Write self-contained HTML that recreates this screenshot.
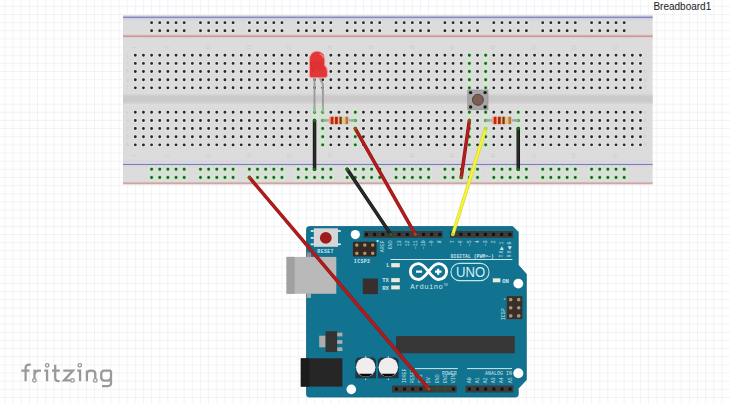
<!DOCTYPE html>
<html><head><meta charset="utf-8"><title>Fritzing breadboard</title>
<style>html,body{margin:0;padding:0;background:#ffffff;overflow:hidden;}svg{display:block;font-family:"Liberation Sans",sans-serif;}</style>
</head><body>
<svg width="730" height="403" viewBox="0 0 730 403"><defs><linearGradient id="rg" x1="0" x2="1" y1="0" y2="0"><stop offset="0" stop-color="#efa483"/><stop offset="0.45" stop-color="#f0b088"/><stop offset="0.62" stop-color="#e8c48c"/><stop offset="1" stop-color="#e4c088"/></linearGradient></defs><path d="M4.93 0V403M13.08 0V403M21.23 0V403M29.38 0V403M37.52 0V403M45.67 0V403M53.82 0V403M61.97 0V403M70.12 0V403M78.26 0V403M86.41 0V403M94.56 0V403M102.71 0V403M110.86 0V403M119 0V403M127.15 0V403M135.3 0V403M143.45 0V403M151.6 0V403M159.74 0V403M167.89 0V403M176.04 0V403M184.19 0V403M192.34 0V403M200.48 0V403M208.63 0V403M216.78 0V403M224.93 0V403M233.08 0V403M241.22 0V403M249.37 0V403M257.52 0V403M265.67 0V403M273.82 0V403M281.96 0V403M290.11 0V403M298.26 0V403M306.41 0V403M314.56 0V403M322.7 0V403M330.85 0V403M339 0V403M347.15 0V403M355.3 0V403M363.44 0V403M371.59 0V403M379.74 0V403M387.89 0V403M396.04 0V403M404.18 0V403M412.33 0V403M420.48 0V403M428.63 0V403M436.78 0V403M444.92 0V403M453.07 0V403M461.22 0V403M469.37 0V403M477.52 0V403M485.66 0V403M493.81 0V403M501.96 0V403M510.11 0V403M518.26 0V403M526.4 0V403M534.55 0V403M542.7 0V403M550.85 0V403M559 0V403M567.14 0V403M575.29 0V403M583.44 0V403M591.59 0V403M599.74 0V403M607.88 0V403M616.03 0V403M624.18 0V403M632.33 0V403M640.48 0V403M648.62 0V403M656.77 0V403M664.92 0V403M673.07 0V403M681.22 0V403M689.36 0V403M697.51 0V403M705.66 0V403M713.81 0V403M721.96 0V403M0 6.35H730M0 14.5H730M0 22.65H730M0 30.8H730M0 38.95H730M0 47.09H730M0 55.24H730M0 63.39H730M0 71.54H730M0 79.69H730M0 87.83H730M0 95.98H730M0 104.13H730M0 112.28H730M0 120.43H730M0 128.57H730M0 136.72H730M0 144.87H730M0 153.02H730M0 161.17H730M0 169.31H730M0 177.46H730M0 185.61H730M0 193.76H730M0 201.91H730M0 210.05H730M0 218.2H730M0 226.35H730M0 234.5H730M0 242.65H730M0 250.79H730M0 258.94H730M0 267.09H730M0 275.24H730M0 283.39H730M0 291.53H730M0 299.68H730M0 307.83H730M0 315.98H730M0 324.13H730M0 332.27H730M0 340.42H730M0 348.57H730M0 356.72H730M0 364.87H730M0 373.01H730M0 381.16H730M0 389.31H730M0 397.46H730" stroke="#f2f3f6" stroke-width="1" fill="none"/><rect x="123" y="15.4" width="529.6" height="169" fill="#dcdcdc"/><rect x="123" y="94.6" width="529.6" height="8.7" fill="#cbc9c9"/><rect x="123" y="94.6" width="529.6" height="1.2" fill="#d3d1d1"/><rect x="123" y="102.1" width="529.6" height="1.2" fill="#d3d1d1"/><rect x="123" y="15.4" width="529.6" height="1.2" fill="#d6d6e0"/><rect x="123" y="18.1" width="529.6" height="2.5" fill="#d5d5e4"/><rect x="123" y="16.6" width="529.6" height="1.5" fill="#8787c2"/><rect x="123" y="34.4" width="529.6" height="4" fill="#e2cfcf"/><rect x="123" y="35.5" width="529.6" height="1.4" fill="#c99292"/><rect x="123" y="160.8" width="529.6" height="1.1" fill="#d2d2e6"/><rect x="123" y="163.9" width="529.6" height="1" fill="#7474b0"/><rect x="123" y="165" width="529.6" height="2" fill="#d9d6e0"/><rect x="123" y="182" width="529.6" height="2.4" fill="#e0caca"/><rect x="123" y="182.6" width="529.6" height="1.2" fill="#cf9c9c"/><path d="M149.2 22.65a2.4 2.4 0 1 0 4.8 0a2.4 2.4 0 1 0 -4.8 0M149.2 30.8a2.4 2.4 0 1 0 4.8 0a2.4 2.4 0 1 0 -4.8 0M148.9 169.31a2.7 2.7 0 1 0 5.4 0a2.7 2.7 0 1 0 -5.4 0M148.9 177.46a2.7 2.7 0 1 0 5.4 0a2.7 2.7 0 1 0 -5.4 0M157.34 22.65a2.4 2.4 0 1 0 4.8 0a2.4 2.4 0 1 0 -4.8 0M157.34 30.8a2.4 2.4 0 1 0 4.8 0a2.4 2.4 0 1 0 -4.8 0M157.04 169.31a2.7 2.7 0 1 0 5.4 0a2.7 2.7 0 1 0 -5.4 0M157.04 177.46a2.7 2.7 0 1 0 5.4 0a2.7 2.7 0 1 0 -5.4 0M165.49 22.65a2.4 2.4 0 1 0 4.8 0a2.4 2.4 0 1 0 -4.8 0M165.49 30.8a2.4 2.4 0 1 0 4.8 0a2.4 2.4 0 1 0 -4.8 0M165.19 169.31a2.7 2.7 0 1 0 5.4 0a2.7 2.7 0 1 0 -5.4 0M165.19 177.46a2.7 2.7 0 1 0 5.4 0a2.7 2.7 0 1 0 -5.4 0M173.64 22.65a2.4 2.4 0 1 0 4.8 0a2.4 2.4 0 1 0 -4.8 0M173.64 30.8a2.4 2.4 0 1 0 4.8 0a2.4 2.4 0 1 0 -4.8 0M173.34 169.31a2.7 2.7 0 1 0 5.4 0a2.7 2.7 0 1 0 -5.4 0M173.34 177.46a2.7 2.7 0 1 0 5.4 0a2.7 2.7 0 1 0 -5.4 0M181.79 22.65a2.4 2.4 0 1 0 4.8 0a2.4 2.4 0 1 0 -4.8 0M181.79 30.8a2.4 2.4 0 1 0 4.8 0a2.4 2.4 0 1 0 -4.8 0M181.49 169.31a2.7 2.7 0 1 0 5.4 0a2.7 2.7 0 1 0 -5.4 0M181.49 177.46a2.7 2.7 0 1 0 5.4 0a2.7 2.7 0 1 0 -5.4 0M198.08 22.65a2.4 2.4 0 1 0 4.8 0a2.4 2.4 0 1 0 -4.8 0M198.08 30.8a2.4 2.4 0 1 0 4.8 0a2.4 2.4 0 1 0 -4.8 0M197.78 169.31a2.7 2.7 0 1 0 5.4 0a2.7 2.7 0 1 0 -5.4 0M197.78 177.46a2.7 2.7 0 1 0 5.4 0a2.7 2.7 0 1 0 -5.4 0M206.23 22.65a2.4 2.4 0 1 0 4.8 0a2.4 2.4 0 1 0 -4.8 0M206.23 30.8a2.4 2.4 0 1 0 4.8 0a2.4 2.4 0 1 0 -4.8 0M205.93 169.31a2.7 2.7 0 1 0 5.4 0a2.7 2.7 0 1 0 -5.4 0M205.93 177.46a2.7 2.7 0 1 0 5.4 0a2.7 2.7 0 1 0 -5.4 0M214.38 22.65a2.4 2.4 0 1 0 4.8 0a2.4 2.4 0 1 0 -4.8 0M214.38 30.8a2.4 2.4 0 1 0 4.8 0a2.4 2.4 0 1 0 -4.8 0M214.08 169.31a2.7 2.7 0 1 0 5.4 0a2.7 2.7 0 1 0 -5.4 0M214.08 177.46a2.7 2.7 0 1 0 5.4 0a2.7 2.7 0 1 0 -5.4 0M222.53 22.65a2.4 2.4 0 1 0 4.8 0a2.4 2.4 0 1 0 -4.8 0M222.53 30.8a2.4 2.4 0 1 0 4.8 0a2.4 2.4 0 1 0 -4.8 0M222.23 169.31a2.7 2.7 0 1 0 5.4 0a2.7 2.7 0 1 0 -5.4 0M222.23 177.46a2.7 2.7 0 1 0 5.4 0a2.7 2.7 0 1 0 -5.4 0M230.68 22.65a2.4 2.4 0 1 0 4.8 0a2.4 2.4 0 1 0 -4.8 0M230.68 30.8a2.4 2.4 0 1 0 4.8 0a2.4 2.4 0 1 0 -4.8 0M230.38 169.31a2.7 2.7 0 1 0 5.4 0a2.7 2.7 0 1 0 -5.4 0M230.38 177.46a2.7 2.7 0 1 0 5.4 0a2.7 2.7 0 1 0 -5.4 0M246.97 22.65a2.4 2.4 0 1 0 4.8 0a2.4 2.4 0 1 0 -4.8 0M246.97 30.8a2.4 2.4 0 1 0 4.8 0a2.4 2.4 0 1 0 -4.8 0M246.67 169.31a2.7 2.7 0 1 0 5.4 0a2.7 2.7 0 1 0 -5.4 0M246.67 177.46a2.7 2.7 0 1 0 5.4 0a2.7 2.7 0 1 0 -5.4 0M255.12 22.65a2.4 2.4 0 1 0 4.8 0a2.4 2.4 0 1 0 -4.8 0M255.12 30.8a2.4 2.4 0 1 0 4.8 0a2.4 2.4 0 1 0 -4.8 0M254.82 169.31a2.7 2.7 0 1 0 5.4 0a2.7 2.7 0 1 0 -5.4 0M254.82 177.46a2.7 2.7 0 1 0 5.4 0a2.7 2.7 0 1 0 -5.4 0M263.27 22.65a2.4 2.4 0 1 0 4.8 0a2.4 2.4 0 1 0 -4.8 0M263.27 30.8a2.4 2.4 0 1 0 4.8 0a2.4 2.4 0 1 0 -4.8 0M262.97 169.31a2.7 2.7 0 1 0 5.4 0a2.7 2.7 0 1 0 -5.4 0M262.97 177.46a2.7 2.7 0 1 0 5.4 0a2.7 2.7 0 1 0 -5.4 0M271.42 22.65a2.4 2.4 0 1 0 4.8 0a2.4 2.4 0 1 0 -4.8 0M271.42 30.8a2.4 2.4 0 1 0 4.8 0a2.4 2.4 0 1 0 -4.8 0M271.12 169.31a2.7 2.7 0 1 0 5.4 0a2.7 2.7 0 1 0 -5.4 0M271.12 177.46a2.7 2.7 0 1 0 5.4 0a2.7 2.7 0 1 0 -5.4 0M279.56 22.65a2.4 2.4 0 1 0 4.8 0a2.4 2.4 0 1 0 -4.8 0M279.56 30.8a2.4 2.4 0 1 0 4.8 0a2.4 2.4 0 1 0 -4.8 0M279.26 169.31a2.7 2.7 0 1 0 5.4 0a2.7 2.7 0 1 0 -5.4 0M279.26 177.46a2.7 2.7 0 1 0 5.4 0a2.7 2.7 0 1 0 -5.4 0M295.86 22.65a2.4 2.4 0 1 0 4.8 0a2.4 2.4 0 1 0 -4.8 0M295.86 30.8a2.4 2.4 0 1 0 4.8 0a2.4 2.4 0 1 0 -4.8 0M295.56 169.31a2.7 2.7 0 1 0 5.4 0a2.7 2.7 0 1 0 -5.4 0M295.56 177.46a2.7 2.7 0 1 0 5.4 0a2.7 2.7 0 1 0 -5.4 0M304.01 22.65a2.4 2.4 0 1 0 4.8 0a2.4 2.4 0 1 0 -4.8 0M304.01 30.8a2.4 2.4 0 1 0 4.8 0a2.4 2.4 0 1 0 -4.8 0M303.71 169.31a2.7 2.7 0 1 0 5.4 0a2.7 2.7 0 1 0 -5.4 0M303.71 177.46a2.7 2.7 0 1 0 5.4 0a2.7 2.7 0 1 0 -5.4 0M312.16 22.65a2.4 2.4 0 1 0 4.8 0a2.4 2.4 0 1 0 -4.8 0M312.16 30.8a2.4 2.4 0 1 0 4.8 0a2.4 2.4 0 1 0 -4.8 0M311.86 169.31a2.7 2.7 0 1 0 5.4 0a2.7 2.7 0 1 0 -5.4 0M311.86 177.46a2.7 2.7 0 1 0 5.4 0a2.7 2.7 0 1 0 -5.4 0M320.3 22.65a2.4 2.4 0 1 0 4.8 0a2.4 2.4 0 1 0 -4.8 0M320.3 30.8a2.4 2.4 0 1 0 4.8 0a2.4 2.4 0 1 0 -4.8 0M320 169.31a2.7 2.7 0 1 0 5.4 0a2.7 2.7 0 1 0 -5.4 0M320 177.46a2.7 2.7 0 1 0 5.4 0a2.7 2.7 0 1 0 -5.4 0M328.45 22.65a2.4 2.4 0 1 0 4.8 0a2.4 2.4 0 1 0 -4.8 0M328.45 30.8a2.4 2.4 0 1 0 4.8 0a2.4 2.4 0 1 0 -4.8 0M328.15 169.31a2.7 2.7 0 1 0 5.4 0a2.7 2.7 0 1 0 -5.4 0M328.15 177.46a2.7 2.7 0 1 0 5.4 0a2.7 2.7 0 1 0 -5.4 0M344.75 22.65a2.4 2.4 0 1 0 4.8 0a2.4 2.4 0 1 0 -4.8 0M344.75 30.8a2.4 2.4 0 1 0 4.8 0a2.4 2.4 0 1 0 -4.8 0M344.45 169.31a2.7 2.7 0 1 0 5.4 0a2.7 2.7 0 1 0 -5.4 0M344.45 177.46a2.7 2.7 0 1 0 5.4 0a2.7 2.7 0 1 0 -5.4 0M352.9 22.65a2.4 2.4 0 1 0 4.8 0a2.4 2.4 0 1 0 -4.8 0M352.9 30.8a2.4 2.4 0 1 0 4.8 0a2.4 2.4 0 1 0 -4.8 0M352.6 169.31a2.7 2.7 0 1 0 5.4 0a2.7 2.7 0 1 0 -5.4 0M352.6 177.46a2.7 2.7 0 1 0 5.4 0a2.7 2.7 0 1 0 -5.4 0M361.04 22.65a2.4 2.4 0 1 0 4.8 0a2.4 2.4 0 1 0 -4.8 0M361.04 30.8a2.4 2.4 0 1 0 4.8 0a2.4 2.4 0 1 0 -4.8 0M360.74 169.31a2.7 2.7 0 1 0 5.4 0a2.7 2.7 0 1 0 -5.4 0M360.74 177.46a2.7 2.7 0 1 0 5.4 0a2.7 2.7 0 1 0 -5.4 0M369.19 22.65a2.4 2.4 0 1 0 4.8 0a2.4 2.4 0 1 0 -4.8 0M369.19 30.8a2.4 2.4 0 1 0 4.8 0a2.4 2.4 0 1 0 -4.8 0M368.89 169.31a2.7 2.7 0 1 0 5.4 0a2.7 2.7 0 1 0 -5.4 0M368.89 177.46a2.7 2.7 0 1 0 5.4 0a2.7 2.7 0 1 0 -5.4 0M377.34 22.65a2.4 2.4 0 1 0 4.8 0a2.4 2.4 0 1 0 -4.8 0M377.34 30.8a2.4 2.4 0 1 0 4.8 0a2.4 2.4 0 1 0 -4.8 0M377.04 169.31a2.7 2.7 0 1 0 5.4 0a2.7 2.7 0 1 0 -5.4 0M377.04 177.46a2.7 2.7 0 1 0 5.4 0a2.7 2.7 0 1 0 -5.4 0M393.64 22.65a2.4 2.4 0 1 0 4.8 0a2.4 2.4 0 1 0 -4.8 0M393.64 30.8a2.4 2.4 0 1 0 4.8 0a2.4 2.4 0 1 0 -4.8 0M393.34 169.31a2.7 2.7 0 1 0 5.4 0a2.7 2.7 0 1 0 -5.4 0M393.34 177.46a2.7 2.7 0 1 0 5.4 0a2.7 2.7 0 1 0 -5.4 0M401.78 22.65a2.4 2.4 0 1 0 4.8 0a2.4 2.4 0 1 0 -4.8 0M401.78 30.8a2.4 2.4 0 1 0 4.8 0a2.4 2.4 0 1 0 -4.8 0M401.48 169.31a2.7 2.7 0 1 0 5.4 0a2.7 2.7 0 1 0 -5.4 0M401.48 177.46a2.7 2.7 0 1 0 5.4 0a2.7 2.7 0 1 0 -5.4 0M409.93 22.65a2.4 2.4 0 1 0 4.8 0a2.4 2.4 0 1 0 -4.8 0M409.93 30.8a2.4 2.4 0 1 0 4.8 0a2.4 2.4 0 1 0 -4.8 0M409.63 169.31a2.7 2.7 0 1 0 5.4 0a2.7 2.7 0 1 0 -5.4 0M409.63 177.46a2.7 2.7 0 1 0 5.4 0a2.7 2.7 0 1 0 -5.4 0M418.08 22.65a2.4 2.4 0 1 0 4.8 0a2.4 2.4 0 1 0 -4.8 0M418.08 30.8a2.4 2.4 0 1 0 4.8 0a2.4 2.4 0 1 0 -4.8 0M417.78 169.31a2.7 2.7 0 1 0 5.4 0a2.7 2.7 0 1 0 -5.4 0M417.78 177.46a2.7 2.7 0 1 0 5.4 0a2.7 2.7 0 1 0 -5.4 0M426.23 22.65a2.4 2.4 0 1 0 4.8 0a2.4 2.4 0 1 0 -4.8 0M426.23 30.8a2.4 2.4 0 1 0 4.8 0a2.4 2.4 0 1 0 -4.8 0M425.93 169.31a2.7 2.7 0 1 0 5.4 0a2.7 2.7 0 1 0 -5.4 0M425.93 177.46a2.7 2.7 0 1 0 5.4 0a2.7 2.7 0 1 0 -5.4 0M442.52 22.65a2.4 2.4 0 1 0 4.8 0a2.4 2.4 0 1 0 -4.8 0M442.52 30.8a2.4 2.4 0 1 0 4.8 0a2.4 2.4 0 1 0 -4.8 0M442.22 169.31a2.7 2.7 0 1 0 5.4 0a2.7 2.7 0 1 0 -5.4 0M442.22 177.46a2.7 2.7 0 1 0 5.4 0a2.7 2.7 0 1 0 -5.4 0M450.67 22.65a2.4 2.4 0 1 0 4.8 0a2.4 2.4 0 1 0 -4.8 0M450.67 30.8a2.4 2.4 0 1 0 4.8 0a2.4 2.4 0 1 0 -4.8 0M450.37 169.31a2.7 2.7 0 1 0 5.4 0a2.7 2.7 0 1 0 -5.4 0M450.37 177.46a2.7 2.7 0 1 0 5.4 0a2.7 2.7 0 1 0 -5.4 0M458.82 22.65a2.4 2.4 0 1 0 4.8 0a2.4 2.4 0 1 0 -4.8 0M458.82 30.8a2.4 2.4 0 1 0 4.8 0a2.4 2.4 0 1 0 -4.8 0M458.52 169.31a2.7 2.7 0 1 0 5.4 0a2.7 2.7 0 1 0 -5.4 0M458.52 177.46a2.7 2.7 0 1 0 5.4 0a2.7 2.7 0 1 0 -5.4 0M466.97 22.65a2.4 2.4 0 1 0 4.8 0a2.4 2.4 0 1 0 -4.8 0M466.97 30.8a2.4 2.4 0 1 0 4.8 0a2.4 2.4 0 1 0 -4.8 0M466.67 169.31a2.7 2.7 0 1 0 5.4 0a2.7 2.7 0 1 0 -5.4 0M466.67 177.46a2.7 2.7 0 1 0 5.4 0a2.7 2.7 0 1 0 -5.4 0M475.12 22.65a2.4 2.4 0 1 0 4.8 0a2.4 2.4 0 1 0 -4.8 0M475.12 30.8a2.4 2.4 0 1 0 4.8 0a2.4 2.4 0 1 0 -4.8 0M474.82 169.31a2.7 2.7 0 1 0 5.4 0a2.7 2.7 0 1 0 -5.4 0M474.82 177.46a2.7 2.7 0 1 0 5.4 0a2.7 2.7 0 1 0 -5.4 0M491.41 22.65a2.4 2.4 0 1 0 4.8 0a2.4 2.4 0 1 0 -4.8 0M491.41 30.8a2.4 2.4 0 1 0 4.8 0a2.4 2.4 0 1 0 -4.8 0M491.11 169.31a2.7 2.7 0 1 0 5.4 0a2.7 2.7 0 1 0 -5.4 0M491.11 177.46a2.7 2.7 0 1 0 5.4 0a2.7 2.7 0 1 0 -5.4 0M499.56 22.65a2.4 2.4 0 1 0 4.8 0a2.4 2.4 0 1 0 -4.8 0M499.56 30.8a2.4 2.4 0 1 0 4.8 0a2.4 2.4 0 1 0 -4.8 0M499.26 169.31a2.7 2.7 0 1 0 5.4 0a2.7 2.7 0 1 0 -5.4 0M499.26 177.46a2.7 2.7 0 1 0 5.4 0a2.7 2.7 0 1 0 -5.4 0M507.71 22.65a2.4 2.4 0 1 0 4.8 0a2.4 2.4 0 1 0 -4.8 0M507.71 30.8a2.4 2.4 0 1 0 4.8 0a2.4 2.4 0 1 0 -4.8 0M507.41 169.31a2.7 2.7 0 1 0 5.4 0a2.7 2.7 0 1 0 -5.4 0M507.41 177.46a2.7 2.7 0 1 0 5.4 0a2.7 2.7 0 1 0 -5.4 0M515.86 22.65a2.4 2.4 0 1 0 4.8 0a2.4 2.4 0 1 0 -4.8 0M515.86 30.8a2.4 2.4 0 1 0 4.8 0a2.4 2.4 0 1 0 -4.8 0M515.56 169.31a2.7 2.7 0 1 0 5.4 0a2.7 2.7 0 1 0 -5.4 0M515.56 177.46a2.7 2.7 0 1 0 5.4 0a2.7 2.7 0 1 0 -5.4 0M524 22.65a2.4 2.4 0 1 0 4.8 0a2.4 2.4 0 1 0 -4.8 0M524 30.8a2.4 2.4 0 1 0 4.8 0a2.4 2.4 0 1 0 -4.8 0M523.7 169.31a2.7 2.7 0 1 0 5.4 0a2.7 2.7 0 1 0 -5.4 0M523.7 177.46a2.7 2.7 0 1 0 5.4 0a2.7 2.7 0 1 0 -5.4 0M540.3 22.65a2.4 2.4 0 1 0 4.8 0a2.4 2.4 0 1 0 -4.8 0M540.3 30.8a2.4 2.4 0 1 0 4.8 0a2.4 2.4 0 1 0 -4.8 0M540 169.31a2.7 2.7 0 1 0 5.4 0a2.7 2.7 0 1 0 -5.4 0M540 177.46a2.7 2.7 0 1 0 5.4 0a2.7 2.7 0 1 0 -5.4 0M548.45 22.65a2.4 2.4 0 1 0 4.8 0a2.4 2.4 0 1 0 -4.8 0M548.45 30.8a2.4 2.4 0 1 0 4.8 0a2.4 2.4 0 1 0 -4.8 0M548.15 169.31a2.7 2.7 0 1 0 5.4 0a2.7 2.7 0 1 0 -5.4 0M548.15 177.46a2.7 2.7 0 1 0 5.4 0a2.7 2.7 0 1 0 -5.4 0M556.6 22.65a2.4 2.4 0 1 0 4.8 0a2.4 2.4 0 1 0 -4.8 0M556.6 30.8a2.4 2.4 0 1 0 4.8 0a2.4 2.4 0 1 0 -4.8 0M556.3 169.31a2.7 2.7 0 1 0 5.4 0a2.7 2.7 0 1 0 -5.4 0M556.3 177.46a2.7 2.7 0 1 0 5.4 0a2.7 2.7 0 1 0 -5.4 0M564.74 22.65a2.4 2.4 0 1 0 4.8 0a2.4 2.4 0 1 0 -4.8 0M564.74 30.8a2.4 2.4 0 1 0 4.8 0a2.4 2.4 0 1 0 -4.8 0M564.44 169.31a2.7 2.7 0 1 0 5.4 0a2.7 2.7 0 1 0 -5.4 0M564.44 177.46a2.7 2.7 0 1 0 5.4 0a2.7 2.7 0 1 0 -5.4 0M572.89 22.65a2.4 2.4 0 1 0 4.8 0a2.4 2.4 0 1 0 -4.8 0M572.89 30.8a2.4 2.4 0 1 0 4.8 0a2.4 2.4 0 1 0 -4.8 0M572.59 169.31a2.7 2.7 0 1 0 5.4 0a2.7 2.7 0 1 0 -5.4 0M572.59 177.46a2.7 2.7 0 1 0 5.4 0a2.7 2.7 0 1 0 -5.4 0M589.19 22.65a2.4 2.4 0 1 0 4.8 0a2.4 2.4 0 1 0 -4.8 0M589.19 30.8a2.4 2.4 0 1 0 4.8 0a2.4 2.4 0 1 0 -4.8 0M588.89 169.31a2.7 2.7 0 1 0 5.4 0a2.7 2.7 0 1 0 -5.4 0M588.89 177.46a2.7 2.7 0 1 0 5.4 0a2.7 2.7 0 1 0 -5.4 0M597.34 22.65a2.4 2.4 0 1 0 4.8 0a2.4 2.4 0 1 0 -4.8 0M597.34 30.8a2.4 2.4 0 1 0 4.8 0a2.4 2.4 0 1 0 -4.8 0M597.04 169.31a2.7 2.7 0 1 0 5.4 0a2.7 2.7 0 1 0 -5.4 0M597.04 177.46a2.7 2.7 0 1 0 5.4 0a2.7 2.7 0 1 0 -5.4 0M605.48 22.65a2.4 2.4 0 1 0 4.8 0a2.4 2.4 0 1 0 -4.8 0M605.48 30.8a2.4 2.4 0 1 0 4.8 0a2.4 2.4 0 1 0 -4.8 0M605.18 169.31a2.7 2.7 0 1 0 5.4 0a2.7 2.7 0 1 0 -5.4 0M605.18 177.46a2.7 2.7 0 1 0 5.4 0a2.7 2.7 0 1 0 -5.4 0M613.63 22.65a2.4 2.4 0 1 0 4.8 0a2.4 2.4 0 1 0 -4.8 0M613.63 30.8a2.4 2.4 0 1 0 4.8 0a2.4 2.4 0 1 0 -4.8 0M613.33 169.31a2.7 2.7 0 1 0 5.4 0a2.7 2.7 0 1 0 -5.4 0M613.33 177.46a2.7 2.7 0 1 0 5.4 0a2.7 2.7 0 1 0 -5.4 0M621.78 22.65a2.4 2.4 0 1 0 4.8 0a2.4 2.4 0 1 0 -4.8 0M621.78 30.8a2.4 2.4 0 1 0 4.8 0a2.4 2.4 0 1 0 -4.8 0M621.48 169.31a2.7 2.7 0 1 0 5.4 0a2.7 2.7 0 1 0 -5.4 0M621.48 177.46a2.7 2.7 0 1 0 5.4 0a2.7 2.7 0 1 0 -5.4 0M132.9 55.24a2.4 2.4 0 1 0 4.8 0a2.4 2.4 0 1 0 -4.8 0M132.9 63.39a2.4 2.4 0 1 0 4.8 0a2.4 2.4 0 1 0 -4.8 0M132.9 71.54a2.4 2.4 0 1 0 4.8 0a2.4 2.4 0 1 0 -4.8 0M132.9 79.69a2.4 2.4 0 1 0 4.8 0a2.4 2.4 0 1 0 -4.8 0M132.9 87.83a2.4 2.4 0 1 0 4.8 0a2.4 2.4 0 1 0 -4.8 0M132.9 112.28a2.4 2.4 0 1 0 4.8 0a2.4 2.4 0 1 0 -4.8 0M132.9 120.43a2.4 2.4 0 1 0 4.8 0a2.4 2.4 0 1 0 -4.8 0M132.9 128.57a2.4 2.4 0 1 0 4.8 0a2.4 2.4 0 1 0 -4.8 0M132.9 136.72a2.4 2.4 0 1 0 4.8 0a2.4 2.4 0 1 0 -4.8 0M132.9 144.87a2.4 2.4 0 1 0 4.8 0a2.4 2.4 0 1 0 -4.8 0M141.05 55.24a2.4 2.4 0 1 0 4.8 0a2.4 2.4 0 1 0 -4.8 0M141.05 63.39a2.4 2.4 0 1 0 4.8 0a2.4 2.4 0 1 0 -4.8 0M141.05 71.54a2.4 2.4 0 1 0 4.8 0a2.4 2.4 0 1 0 -4.8 0M141.05 79.69a2.4 2.4 0 1 0 4.8 0a2.4 2.4 0 1 0 -4.8 0M141.05 87.83a2.4 2.4 0 1 0 4.8 0a2.4 2.4 0 1 0 -4.8 0M141.05 112.28a2.4 2.4 0 1 0 4.8 0a2.4 2.4 0 1 0 -4.8 0M141.05 120.43a2.4 2.4 0 1 0 4.8 0a2.4 2.4 0 1 0 -4.8 0M141.05 128.57a2.4 2.4 0 1 0 4.8 0a2.4 2.4 0 1 0 -4.8 0M141.05 136.72a2.4 2.4 0 1 0 4.8 0a2.4 2.4 0 1 0 -4.8 0M141.05 144.87a2.4 2.4 0 1 0 4.8 0a2.4 2.4 0 1 0 -4.8 0M149.2 55.24a2.4 2.4 0 1 0 4.8 0a2.4 2.4 0 1 0 -4.8 0M149.2 63.39a2.4 2.4 0 1 0 4.8 0a2.4 2.4 0 1 0 -4.8 0M149.2 71.54a2.4 2.4 0 1 0 4.8 0a2.4 2.4 0 1 0 -4.8 0M149.2 79.69a2.4 2.4 0 1 0 4.8 0a2.4 2.4 0 1 0 -4.8 0M149.2 87.83a2.4 2.4 0 1 0 4.8 0a2.4 2.4 0 1 0 -4.8 0M149.2 112.28a2.4 2.4 0 1 0 4.8 0a2.4 2.4 0 1 0 -4.8 0M149.2 120.43a2.4 2.4 0 1 0 4.8 0a2.4 2.4 0 1 0 -4.8 0M149.2 128.57a2.4 2.4 0 1 0 4.8 0a2.4 2.4 0 1 0 -4.8 0M149.2 136.72a2.4 2.4 0 1 0 4.8 0a2.4 2.4 0 1 0 -4.8 0M149.2 144.87a2.4 2.4 0 1 0 4.8 0a2.4 2.4 0 1 0 -4.8 0M157.34 55.24a2.4 2.4 0 1 0 4.8 0a2.4 2.4 0 1 0 -4.8 0M157.34 63.39a2.4 2.4 0 1 0 4.8 0a2.4 2.4 0 1 0 -4.8 0M157.34 71.54a2.4 2.4 0 1 0 4.8 0a2.4 2.4 0 1 0 -4.8 0M157.34 79.69a2.4 2.4 0 1 0 4.8 0a2.4 2.4 0 1 0 -4.8 0M157.34 87.83a2.4 2.4 0 1 0 4.8 0a2.4 2.4 0 1 0 -4.8 0M157.34 112.28a2.4 2.4 0 1 0 4.8 0a2.4 2.4 0 1 0 -4.8 0M157.34 120.43a2.4 2.4 0 1 0 4.8 0a2.4 2.4 0 1 0 -4.8 0M157.34 128.57a2.4 2.4 0 1 0 4.8 0a2.4 2.4 0 1 0 -4.8 0M157.34 136.72a2.4 2.4 0 1 0 4.8 0a2.4 2.4 0 1 0 -4.8 0M157.34 144.87a2.4 2.4 0 1 0 4.8 0a2.4 2.4 0 1 0 -4.8 0M165.49 55.24a2.4 2.4 0 1 0 4.8 0a2.4 2.4 0 1 0 -4.8 0M165.49 63.39a2.4 2.4 0 1 0 4.8 0a2.4 2.4 0 1 0 -4.8 0M165.49 71.54a2.4 2.4 0 1 0 4.8 0a2.4 2.4 0 1 0 -4.8 0M165.49 79.69a2.4 2.4 0 1 0 4.8 0a2.4 2.4 0 1 0 -4.8 0M165.49 87.83a2.4 2.4 0 1 0 4.8 0a2.4 2.4 0 1 0 -4.8 0M165.49 112.28a2.4 2.4 0 1 0 4.8 0a2.4 2.4 0 1 0 -4.8 0M165.49 120.43a2.4 2.4 0 1 0 4.8 0a2.4 2.4 0 1 0 -4.8 0M165.49 128.57a2.4 2.4 0 1 0 4.8 0a2.4 2.4 0 1 0 -4.8 0M165.49 136.72a2.4 2.4 0 1 0 4.8 0a2.4 2.4 0 1 0 -4.8 0M165.49 144.87a2.4 2.4 0 1 0 4.8 0a2.4 2.4 0 1 0 -4.8 0M173.64 55.24a2.4 2.4 0 1 0 4.8 0a2.4 2.4 0 1 0 -4.8 0M173.64 63.39a2.4 2.4 0 1 0 4.8 0a2.4 2.4 0 1 0 -4.8 0M173.64 71.54a2.4 2.4 0 1 0 4.8 0a2.4 2.4 0 1 0 -4.8 0M173.64 79.69a2.4 2.4 0 1 0 4.8 0a2.4 2.4 0 1 0 -4.8 0M173.64 87.83a2.4 2.4 0 1 0 4.8 0a2.4 2.4 0 1 0 -4.8 0M173.64 112.28a2.4 2.4 0 1 0 4.8 0a2.4 2.4 0 1 0 -4.8 0M173.64 120.43a2.4 2.4 0 1 0 4.8 0a2.4 2.4 0 1 0 -4.8 0M173.64 128.57a2.4 2.4 0 1 0 4.8 0a2.4 2.4 0 1 0 -4.8 0M173.64 136.72a2.4 2.4 0 1 0 4.8 0a2.4 2.4 0 1 0 -4.8 0M173.64 144.87a2.4 2.4 0 1 0 4.8 0a2.4 2.4 0 1 0 -4.8 0M181.79 55.24a2.4 2.4 0 1 0 4.8 0a2.4 2.4 0 1 0 -4.8 0M181.79 63.39a2.4 2.4 0 1 0 4.8 0a2.4 2.4 0 1 0 -4.8 0M181.79 71.54a2.4 2.4 0 1 0 4.8 0a2.4 2.4 0 1 0 -4.8 0M181.79 79.69a2.4 2.4 0 1 0 4.8 0a2.4 2.4 0 1 0 -4.8 0M181.79 87.83a2.4 2.4 0 1 0 4.8 0a2.4 2.4 0 1 0 -4.8 0M181.79 112.28a2.4 2.4 0 1 0 4.8 0a2.4 2.4 0 1 0 -4.8 0M181.79 120.43a2.4 2.4 0 1 0 4.8 0a2.4 2.4 0 1 0 -4.8 0M181.79 128.57a2.4 2.4 0 1 0 4.8 0a2.4 2.4 0 1 0 -4.8 0M181.79 136.72a2.4 2.4 0 1 0 4.8 0a2.4 2.4 0 1 0 -4.8 0M181.79 144.87a2.4 2.4 0 1 0 4.8 0a2.4 2.4 0 1 0 -4.8 0M189.94 55.24a2.4 2.4 0 1 0 4.8 0a2.4 2.4 0 1 0 -4.8 0M189.94 63.39a2.4 2.4 0 1 0 4.8 0a2.4 2.4 0 1 0 -4.8 0M189.94 71.54a2.4 2.4 0 1 0 4.8 0a2.4 2.4 0 1 0 -4.8 0M189.94 79.69a2.4 2.4 0 1 0 4.8 0a2.4 2.4 0 1 0 -4.8 0M189.94 87.83a2.4 2.4 0 1 0 4.8 0a2.4 2.4 0 1 0 -4.8 0M189.94 112.28a2.4 2.4 0 1 0 4.8 0a2.4 2.4 0 1 0 -4.8 0M189.94 120.43a2.4 2.4 0 1 0 4.8 0a2.4 2.4 0 1 0 -4.8 0M189.94 128.57a2.4 2.4 0 1 0 4.8 0a2.4 2.4 0 1 0 -4.8 0M189.94 136.72a2.4 2.4 0 1 0 4.8 0a2.4 2.4 0 1 0 -4.8 0M189.94 144.87a2.4 2.4 0 1 0 4.8 0a2.4 2.4 0 1 0 -4.8 0M198.08 55.24a2.4 2.4 0 1 0 4.8 0a2.4 2.4 0 1 0 -4.8 0M198.08 63.39a2.4 2.4 0 1 0 4.8 0a2.4 2.4 0 1 0 -4.8 0M198.08 71.54a2.4 2.4 0 1 0 4.8 0a2.4 2.4 0 1 0 -4.8 0M198.08 79.69a2.4 2.4 0 1 0 4.8 0a2.4 2.4 0 1 0 -4.8 0M198.08 87.83a2.4 2.4 0 1 0 4.8 0a2.4 2.4 0 1 0 -4.8 0M198.08 112.28a2.4 2.4 0 1 0 4.8 0a2.4 2.4 0 1 0 -4.8 0M198.08 120.43a2.4 2.4 0 1 0 4.8 0a2.4 2.4 0 1 0 -4.8 0M198.08 128.57a2.4 2.4 0 1 0 4.8 0a2.4 2.4 0 1 0 -4.8 0M198.08 136.72a2.4 2.4 0 1 0 4.8 0a2.4 2.4 0 1 0 -4.8 0M198.08 144.87a2.4 2.4 0 1 0 4.8 0a2.4 2.4 0 1 0 -4.8 0M206.23 55.24a2.4 2.4 0 1 0 4.8 0a2.4 2.4 0 1 0 -4.8 0M206.23 63.39a2.4 2.4 0 1 0 4.8 0a2.4 2.4 0 1 0 -4.8 0M206.23 71.54a2.4 2.4 0 1 0 4.8 0a2.4 2.4 0 1 0 -4.8 0M206.23 79.69a2.4 2.4 0 1 0 4.8 0a2.4 2.4 0 1 0 -4.8 0M206.23 87.83a2.4 2.4 0 1 0 4.8 0a2.4 2.4 0 1 0 -4.8 0M206.23 112.28a2.4 2.4 0 1 0 4.8 0a2.4 2.4 0 1 0 -4.8 0M206.23 120.43a2.4 2.4 0 1 0 4.8 0a2.4 2.4 0 1 0 -4.8 0M206.23 128.57a2.4 2.4 0 1 0 4.8 0a2.4 2.4 0 1 0 -4.8 0M206.23 136.72a2.4 2.4 0 1 0 4.8 0a2.4 2.4 0 1 0 -4.8 0M206.23 144.87a2.4 2.4 0 1 0 4.8 0a2.4 2.4 0 1 0 -4.8 0M214.38 55.24a2.4 2.4 0 1 0 4.8 0a2.4 2.4 0 1 0 -4.8 0M214.38 63.39a2.4 2.4 0 1 0 4.8 0a2.4 2.4 0 1 0 -4.8 0M214.38 71.54a2.4 2.4 0 1 0 4.8 0a2.4 2.4 0 1 0 -4.8 0M214.38 79.69a2.4 2.4 0 1 0 4.8 0a2.4 2.4 0 1 0 -4.8 0M214.38 87.83a2.4 2.4 0 1 0 4.8 0a2.4 2.4 0 1 0 -4.8 0M214.38 112.28a2.4 2.4 0 1 0 4.8 0a2.4 2.4 0 1 0 -4.8 0M214.38 120.43a2.4 2.4 0 1 0 4.8 0a2.4 2.4 0 1 0 -4.8 0M214.38 128.57a2.4 2.4 0 1 0 4.8 0a2.4 2.4 0 1 0 -4.8 0M214.38 136.72a2.4 2.4 0 1 0 4.8 0a2.4 2.4 0 1 0 -4.8 0M214.38 144.87a2.4 2.4 0 1 0 4.8 0a2.4 2.4 0 1 0 -4.8 0M222.53 55.24a2.4 2.4 0 1 0 4.8 0a2.4 2.4 0 1 0 -4.8 0M222.53 63.39a2.4 2.4 0 1 0 4.8 0a2.4 2.4 0 1 0 -4.8 0M222.53 71.54a2.4 2.4 0 1 0 4.8 0a2.4 2.4 0 1 0 -4.8 0M222.53 79.69a2.4 2.4 0 1 0 4.8 0a2.4 2.4 0 1 0 -4.8 0M222.53 87.83a2.4 2.4 0 1 0 4.8 0a2.4 2.4 0 1 0 -4.8 0M222.53 112.28a2.4 2.4 0 1 0 4.8 0a2.4 2.4 0 1 0 -4.8 0M222.53 120.43a2.4 2.4 0 1 0 4.8 0a2.4 2.4 0 1 0 -4.8 0M222.53 128.57a2.4 2.4 0 1 0 4.8 0a2.4 2.4 0 1 0 -4.8 0M222.53 136.72a2.4 2.4 0 1 0 4.8 0a2.4 2.4 0 1 0 -4.8 0M222.53 144.87a2.4 2.4 0 1 0 4.8 0a2.4 2.4 0 1 0 -4.8 0M230.68 55.24a2.4 2.4 0 1 0 4.8 0a2.4 2.4 0 1 0 -4.8 0M230.68 63.39a2.4 2.4 0 1 0 4.8 0a2.4 2.4 0 1 0 -4.8 0M230.68 71.54a2.4 2.4 0 1 0 4.8 0a2.4 2.4 0 1 0 -4.8 0M230.68 79.69a2.4 2.4 0 1 0 4.8 0a2.4 2.4 0 1 0 -4.8 0M230.68 87.83a2.4 2.4 0 1 0 4.8 0a2.4 2.4 0 1 0 -4.8 0M230.68 112.28a2.4 2.4 0 1 0 4.8 0a2.4 2.4 0 1 0 -4.8 0M230.68 120.43a2.4 2.4 0 1 0 4.8 0a2.4 2.4 0 1 0 -4.8 0M230.68 128.57a2.4 2.4 0 1 0 4.8 0a2.4 2.4 0 1 0 -4.8 0M230.68 136.72a2.4 2.4 0 1 0 4.8 0a2.4 2.4 0 1 0 -4.8 0M230.68 144.87a2.4 2.4 0 1 0 4.8 0a2.4 2.4 0 1 0 -4.8 0M238.82 55.24a2.4 2.4 0 1 0 4.8 0a2.4 2.4 0 1 0 -4.8 0M238.82 63.39a2.4 2.4 0 1 0 4.8 0a2.4 2.4 0 1 0 -4.8 0M238.82 71.54a2.4 2.4 0 1 0 4.8 0a2.4 2.4 0 1 0 -4.8 0M238.82 79.69a2.4 2.4 0 1 0 4.8 0a2.4 2.4 0 1 0 -4.8 0M238.82 87.83a2.4 2.4 0 1 0 4.8 0a2.4 2.4 0 1 0 -4.8 0M238.82 112.28a2.4 2.4 0 1 0 4.8 0a2.4 2.4 0 1 0 -4.8 0M238.82 120.43a2.4 2.4 0 1 0 4.8 0a2.4 2.4 0 1 0 -4.8 0M238.82 128.57a2.4 2.4 0 1 0 4.8 0a2.4 2.4 0 1 0 -4.8 0M238.82 136.72a2.4 2.4 0 1 0 4.8 0a2.4 2.4 0 1 0 -4.8 0M238.82 144.87a2.4 2.4 0 1 0 4.8 0a2.4 2.4 0 1 0 -4.8 0M246.97 55.24a2.4 2.4 0 1 0 4.8 0a2.4 2.4 0 1 0 -4.8 0M246.97 63.39a2.4 2.4 0 1 0 4.8 0a2.4 2.4 0 1 0 -4.8 0M246.97 71.54a2.4 2.4 0 1 0 4.8 0a2.4 2.4 0 1 0 -4.8 0M246.97 79.69a2.4 2.4 0 1 0 4.8 0a2.4 2.4 0 1 0 -4.8 0M246.97 87.83a2.4 2.4 0 1 0 4.8 0a2.4 2.4 0 1 0 -4.8 0M246.97 112.28a2.4 2.4 0 1 0 4.8 0a2.4 2.4 0 1 0 -4.8 0M246.97 120.43a2.4 2.4 0 1 0 4.8 0a2.4 2.4 0 1 0 -4.8 0M246.97 128.57a2.4 2.4 0 1 0 4.8 0a2.4 2.4 0 1 0 -4.8 0M246.97 136.72a2.4 2.4 0 1 0 4.8 0a2.4 2.4 0 1 0 -4.8 0M246.97 144.87a2.4 2.4 0 1 0 4.8 0a2.4 2.4 0 1 0 -4.8 0M255.12 55.24a2.4 2.4 0 1 0 4.8 0a2.4 2.4 0 1 0 -4.8 0M255.12 63.39a2.4 2.4 0 1 0 4.8 0a2.4 2.4 0 1 0 -4.8 0M255.12 71.54a2.4 2.4 0 1 0 4.8 0a2.4 2.4 0 1 0 -4.8 0M255.12 79.69a2.4 2.4 0 1 0 4.8 0a2.4 2.4 0 1 0 -4.8 0M255.12 87.83a2.4 2.4 0 1 0 4.8 0a2.4 2.4 0 1 0 -4.8 0M255.12 112.28a2.4 2.4 0 1 0 4.8 0a2.4 2.4 0 1 0 -4.8 0M255.12 120.43a2.4 2.4 0 1 0 4.8 0a2.4 2.4 0 1 0 -4.8 0M255.12 128.57a2.4 2.4 0 1 0 4.8 0a2.4 2.4 0 1 0 -4.8 0M255.12 136.72a2.4 2.4 0 1 0 4.8 0a2.4 2.4 0 1 0 -4.8 0M255.12 144.87a2.4 2.4 0 1 0 4.8 0a2.4 2.4 0 1 0 -4.8 0M263.27 55.24a2.4 2.4 0 1 0 4.8 0a2.4 2.4 0 1 0 -4.8 0M263.27 63.39a2.4 2.4 0 1 0 4.8 0a2.4 2.4 0 1 0 -4.8 0M263.27 71.54a2.4 2.4 0 1 0 4.8 0a2.4 2.4 0 1 0 -4.8 0M263.27 79.69a2.4 2.4 0 1 0 4.8 0a2.4 2.4 0 1 0 -4.8 0M263.27 87.83a2.4 2.4 0 1 0 4.8 0a2.4 2.4 0 1 0 -4.8 0M263.27 112.28a2.4 2.4 0 1 0 4.8 0a2.4 2.4 0 1 0 -4.8 0M263.27 120.43a2.4 2.4 0 1 0 4.8 0a2.4 2.4 0 1 0 -4.8 0M263.27 128.57a2.4 2.4 0 1 0 4.8 0a2.4 2.4 0 1 0 -4.8 0M263.27 136.72a2.4 2.4 0 1 0 4.8 0a2.4 2.4 0 1 0 -4.8 0M263.27 144.87a2.4 2.4 0 1 0 4.8 0a2.4 2.4 0 1 0 -4.8 0M271.42 55.24a2.4 2.4 0 1 0 4.8 0a2.4 2.4 0 1 0 -4.8 0M271.42 63.39a2.4 2.4 0 1 0 4.8 0a2.4 2.4 0 1 0 -4.8 0M271.42 71.54a2.4 2.4 0 1 0 4.8 0a2.4 2.4 0 1 0 -4.8 0M271.42 79.69a2.4 2.4 0 1 0 4.8 0a2.4 2.4 0 1 0 -4.8 0M271.42 87.83a2.4 2.4 0 1 0 4.8 0a2.4 2.4 0 1 0 -4.8 0M271.42 112.28a2.4 2.4 0 1 0 4.8 0a2.4 2.4 0 1 0 -4.8 0M271.42 120.43a2.4 2.4 0 1 0 4.8 0a2.4 2.4 0 1 0 -4.8 0M271.42 128.57a2.4 2.4 0 1 0 4.8 0a2.4 2.4 0 1 0 -4.8 0M271.42 136.72a2.4 2.4 0 1 0 4.8 0a2.4 2.4 0 1 0 -4.8 0M271.42 144.87a2.4 2.4 0 1 0 4.8 0a2.4 2.4 0 1 0 -4.8 0M279.56 55.24a2.4 2.4 0 1 0 4.8 0a2.4 2.4 0 1 0 -4.8 0M279.56 63.39a2.4 2.4 0 1 0 4.8 0a2.4 2.4 0 1 0 -4.8 0M279.56 71.54a2.4 2.4 0 1 0 4.8 0a2.4 2.4 0 1 0 -4.8 0M279.56 79.69a2.4 2.4 0 1 0 4.8 0a2.4 2.4 0 1 0 -4.8 0M279.56 87.83a2.4 2.4 0 1 0 4.8 0a2.4 2.4 0 1 0 -4.8 0M279.56 112.28a2.4 2.4 0 1 0 4.8 0a2.4 2.4 0 1 0 -4.8 0M279.56 120.43a2.4 2.4 0 1 0 4.8 0a2.4 2.4 0 1 0 -4.8 0M279.56 128.57a2.4 2.4 0 1 0 4.8 0a2.4 2.4 0 1 0 -4.8 0M279.56 136.72a2.4 2.4 0 1 0 4.8 0a2.4 2.4 0 1 0 -4.8 0M279.56 144.87a2.4 2.4 0 1 0 4.8 0a2.4 2.4 0 1 0 -4.8 0M287.71 55.24a2.4 2.4 0 1 0 4.8 0a2.4 2.4 0 1 0 -4.8 0M287.71 63.39a2.4 2.4 0 1 0 4.8 0a2.4 2.4 0 1 0 -4.8 0M287.71 71.54a2.4 2.4 0 1 0 4.8 0a2.4 2.4 0 1 0 -4.8 0M287.71 79.69a2.4 2.4 0 1 0 4.8 0a2.4 2.4 0 1 0 -4.8 0M287.71 87.83a2.4 2.4 0 1 0 4.8 0a2.4 2.4 0 1 0 -4.8 0M287.71 112.28a2.4 2.4 0 1 0 4.8 0a2.4 2.4 0 1 0 -4.8 0M287.71 120.43a2.4 2.4 0 1 0 4.8 0a2.4 2.4 0 1 0 -4.8 0M287.71 128.57a2.4 2.4 0 1 0 4.8 0a2.4 2.4 0 1 0 -4.8 0M287.71 136.72a2.4 2.4 0 1 0 4.8 0a2.4 2.4 0 1 0 -4.8 0M287.71 144.87a2.4 2.4 0 1 0 4.8 0a2.4 2.4 0 1 0 -4.8 0M295.86 55.24a2.4 2.4 0 1 0 4.8 0a2.4 2.4 0 1 0 -4.8 0M295.86 63.39a2.4 2.4 0 1 0 4.8 0a2.4 2.4 0 1 0 -4.8 0M295.86 71.54a2.4 2.4 0 1 0 4.8 0a2.4 2.4 0 1 0 -4.8 0M295.86 79.69a2.4 2.4 0 1 0 4.8 0a2.4 2.4 0 1 0 -4.8 0M295.86 87.83a2.4 2.4 0 1 0 4.8 0a2.4 2.4 0 1 0 -4.8 0M295.86 112.28a2.4 2.4 0 1 0 4.8 0a2.4 2.4 0 1 0 -4.8 0M295.86 120.43a2.4 2.4 0 1 0 4.8 0a2.4 2.4 0 1 0 -4.8 0M295.86 128.57a2.4 2.4 0 1 0 4.8 0a2.4 2.4 0 1 0 -4.8 0M295.86 136.72a2.4 2.4 0 1 0 4.8 0a2.4 2.4 0 1 0 -4.8 0M295.86 144.87a2.4 2.4 0 1 0 4.8 0a2.4 2.4 0 1 0 -4.8 0M304.01 55.24a2.4 2.4 0 1 0 4.8 0a2.4 2.4 0 1 0 -4.8 0M304.01 63.39a2.4 2.4 0 1 0 4.8 0a2.4 2.4 0 1 0 -4.8 0M304.01 71.54a2.4 2.4 0 1 0 4.8 0a2.4 2.4 0 1 0 -4.8 0M304.01 79.69a2.4 2.4 0 1 0 4.8 0a2.4 2.4 0 1 0 -4.8 0M304.01 87.83a2.4 2.4 0 1 0 4.8 0a2.4 2.4 0 1 0 -4.8 0M304.01 112.28a2.4 2.4 0 1 0 4.8 0a2.4 2.4 0 1 0 -4.8 0M304.01 120.43a2.4 2.4 0 1 0 4.8 0a2.4 2.4 0 1 0 -4.8 0M304.01 128.57a2.4 2.4 0 1 0 4.8 0a2.4 2.4 0 1 0 -4.8 0M304.01 136.72a2.4 2.4 0 1 0 4.8 0a2.4 2.4 0 1 0 -4.8 0M304.01 144.87a2.4 2.4 0 1 0 4.8 0a2.4 2.4 0 1 0 -4.8 0M312.16 55.24a2.4 2.4 0 1 0 4.8 0a2.4 2.4 0 1 0 -4.8 0M312.16 63.39a2.4 2.4 0 1 0 4.8 0a2.4 2.4 0 1 0 -4.8 0M312.16 71.54a2.4 2.4 0 1 0 4.8 0a2.4 2.4 0 1 0 -4.8 0M312.16 79.69a2.4 2.4 0 1 0 4.8 0a2.4 2.4 0 1 0 -4.8 0M312.16 87.83a2.4 2.4 0 1 0 4.8 0a2.4 2.4 0 1 0 -4.8 0M311.86 112.28a2.7 2.7 0 1 0 5.4 0a2.7 2.7 0 1 0 -5.4 0M311.86 120.43a2.7 2.7 0 1 0 5.4 0a2.7 2.7 0 1 0 -5.4 0M311.86 128.57a2.7 2.7 0 1 0 5.4 0a2.7 2.7 0 1 0 -5.4 0M311.86 136.72a2.7 2.7 0 1 0 5.4 0a2.7 2.7 0 1 0 -5.4 0M311.86 144.87a2.7 2.7 0 1 0 5.4 0a2.7 2.7 0 1 0 -5.4 0M320.3 55.24a2.4 2.4 0 1 0 4.8 0a2.4 2.4 0 1 0 -4.8 0M320.3 63.39a2.4 2.4 0 1 0 4.8 0a2.4 2.4 0 1 0 -4.8 0M320.3 71.54a2.4 2.4 0 1 0 4.8 0a2.4 2.4 0 1 0 -4.8 0M320.3 79.69a2.4 2.4 0 1 0 4.8 0a2.4 2.4 0 1 0 -4.8 0M320.3 87.83a2.4 2.4 0 1 0 4.8 0a2.4 2.4 0 1 0 -4.8 0M320 112.28a2.7 2.7 0 1 0 5.4 0a2.7 2.7 0 1 0 -5.4 0M320 120.43a2.7 2.7 0 1 0 5.4 0a2.7 2.7 0 1 0 -5.4 0M320 128.57a2.7 2.7 0 1 0 5.4 0a2.7 2.7 0 1 0 -5.4 0M320 136.72a2.7 2.7 0 1 0 5.4 0a2.7 2.7 0 1 0 -5.4 0M320 144.87a2.7 2.7 0 1 0 5.4 0a2.7 2.7 0 1 0 -5.4 0M328.45 55.24a2.4 2.4 0 1 0 4.8 0a2.4 2.4 0 1 0 -4.8 0M328.45 63.39a2.4 2.4 0 1 0 4.8 0a2.4 2.4 0 1 0 -4.8 0M328.45 71.54a2.4 2.4 0 1 0 4.8 0a2.4 2.4 0 1 0 -4.8 0M328.45 79.69a2.4 2.4 0 1 0 4.8 0a2.4 2.4 0 1 0 -4.8 0M328.45 87.83a2.4 2.4 0 1 0 4.8 0a2.4 2.4 0 1 0 -4.8 0M328.45 112.28a2.4 2.4 0 1 0 4.8 0a2.4 2.4 0 1 0 -4.8 0M328.45 120.43a2.4 2.4 0 1 0 4.8 0a2.4 2.4 0 1 0 -4.8 0M328.45 128.57a2.4 2.4 0 1 0 4.8 0a2.4 2.4 0 1 0 -4.8 0M328.45 136.72a2.4 2.4 0 1 0 4.8 0a2.4 2.4 0 1 0 -4.8 0M328.45 144.87a2.4 2.4 0 1 0 4.8 0a2.4 2.4 0 1 0 -4.8 0M336.6 55.24a2.4 2.4 0 1 0 4.8 0a2.4 2.4 0 1 0 -4.8 0M336.6 63.39a2.4 2.4 0 1 0 4.8 0a2.4 2.4 0 1 0 -4.8 0M336.6 71.54a2.4 2.4 0 1 0 4.8 0a2.4 2.4 0 1 0 -4.8 0M336.6 79.69a2.4 2.4 0 1 0 4.8 0a2.4 2.4 0 1 0 -4.8 0M336.6 87.83a2.4 2.4 0 1 0 4.8 0a2.4 2.4 0 1 0 -4.8 0M336.6 112.28a2.4 2.4 0 1 0 4.8 0a2.4 2.4 0 1 0 -4.8 0M336.6 120.43a2.4 2.4 0 1 0 4.8 0a2.4 2.4 0 1 0 -4.8 0M336.6 128.57a2.4 2.4 0 1 0 4.8 0a2.4 2.4 0 1 0 -4.8 0M336.6 136.72a2.4 2.4 0 1 0 4.8 0a2.4 2.4 0 1 0 -4.8 0M336.6 144.87a2.4 2.4 0 1 0 4.8 0a2.4 2.4 0 1 0 -4.8 0M344.75 55.24a2.4 2.4 0 1 0 4.8 0a2.4 2.4 0 1 0 -4.8 0M344.75 63.39a2.4 2.4 0 1 0 4.8 0a2.4 2.4 0 1 0 -4.8 0M344.75 71.54a2.4 2.4 0 1 0 4.8 0a2.4 2.4 0 1 0 -4.8 0M344.75 79.69a2.4 2.4 0 1 0 4.8 0a2.4 2.4 0 1 0 -4.8 0M344.75 87.83a2.4 2.4 0 1 0 4.8 0a2.4 2.4 0 1 0 -4.8 0M344.75 112.28a2.4 2.4 0 1 0 4.8 0a2.4 2.4 0 1 0 -4.8 0M344.75 120.43a2.4 2.4 0 1 0 4.8 0a2.4 2.4 0 1 0 -4.8 0M344.75 128.57a2.4 2.4 0 1 0 4.8 0a2.4 2.4 0 1 0 -4.8 0M344.75 136.72a2.4 2.4 0 1 0 4.8 0a2.4 2.4 0 1 0 -4.8 0M344.75 144.87a2.4 2.4 0 1 0 4.8 0a2.4 2.4 0 1 0 -4.8 0M352.9 55.24a2.4 2.4 0 1 0 4.8 0a2.4 2.4 0 1 0 -4.8 0M352.9 63.39a2.4 2.4 0 1 0 4.8 0a2.4 2.4 0 1 0 -4.8 0M352.9 71.54a2.4 2.4 0 1 0 4.8 0a2.4 2.4 0 1 0 -4.8 0M352.9 79.69a2.4 2.4 0 1 0 4.8 0a2.4 2.4 0 1 0 -4.8 0M352.9 87.83a2.4 2.4 0 1 0 4.8 0a2.4 2.4 0 1 0 -4.8 0M352.6 112.28a2.7 2.7 0 1 0 5.4 0a2.7 2.7 0 1 0 -5.4 0M352.6 120.43a2.7 2.7 0 1 0 5.4 0a2.7 2.7 0 1 0 -5.4 0M352.6 128.57a2.7 2.7 0 1 0 5.4 0a2.7 2.7 0 1 0 -5.4 0M352.6 136.72a2.7 2.7 0 1 0 5.4 0a2.7 2.7 0 1 0 -5.4 0M352.6 144.87a2.7 2.7 0 1 0 5.4 0a2.7 2.7 0 1 0 -5.4 0M361.04 55.24a2.4 2.4 0 1 0 4.8 0a2.4 2.4 0 1 0 -4.8 0M361.04 63.39a2.4 2.4 0 1 0 4.8 0a2.4 2.4 0 1 0 -4.8 0M361.04 71.54a2.4 2.4 0 1 0 4.8 0a2.4 2.4 0 1 0 -4.8 0M361.04 79.69a2.4 2.4 0 1 0 4.8 0a2.4 2.4 0 1 0 -4.8 0M361.04 87.83a2.4 2.4 0 1 0 4.8 0a2.4 2.4 0 1 0 -4.8 0M361.04 112.28a2.4 2.4 0 1 0 4.8 0a2.4 2.4 0 1 0 -4.8 0M361.04 120.43a2.4 2.4 0 1 0 4.8 0a2.4 2.4 0 1 0 -4.8 0M361.04 128.57a2.4 2.4 0 1 0 4.8 0a2.4 2.4 0 1 0 -4.8 0M361.04 136.72a2.4 2.4 0 1 0 4.8 0a2.4 2.4 0 1 0 -4.8 0M361.04 144.87a2.4 2.4 0 1 0 4.8 0a2.4 2.4 0 1 0 -4.8 0M369.19 55.24a2.4 2.4 0 1 0 4.8 0a2.4 2.4 0 1 0 -4.8 0M369.19 63.39a2.4 2.4 0 1 0 4.8 0a2.4 2.4 0 1 0 -4.8 0M369.19 71.54a2.4 2.4 0 1 0 4.8 0a2.4 2.4 0 1 0 -4.8 0M369.19 79.69a2.4 2.4 0 1 0 4.8 0a2.4 2.4 0 1 0 -4.8 0M369.19 87.83a2.4 2.4 0 1 0 4.8 0a2.4 2.4 0 1 0 -4.8 0M369.19 112.28a2.4 2.4 0 1 0 4.8 0a2.4 2.4 0 1 0 -4.8 0M369.19 120.43a2.4 2.4 0 1 0 4.8 0a2.4 2.4 0 1 0 -4.8 0M369.19 128.57a2.4 2.4 0 1 0 4.8 0a2.4 2.4 0 1 0 -4.8 0M369.19 136.72a2.4 2.4 0 1 0 4.8 0a2.4 2.4 0 1 0 -4.8 0M369.19 144.87a2.4 2.4 0 1 0 4.8 0a2.4 2.4 0 1 0 -4.8 0M377.34 55.24a2.4 2.4 0 1 0 4.8 0a2.4 2.4 0 1 0 -4.8 0M377.34 63.39a2.4 2.4 0 1 0 4.8 0a2.4 2.4 0 1 0 -4.8 0M377.34 71.54a2.4 2.4 0 1 0 4.8 0a2.4 2.4 0 1 0 -4.8 0M377.34 79.69a2.4 2.4 0 1 0 4.8 0a2.4 2.4 0 1 0 -4.8 0M377.34 87.83a2.4 2.4 0 1 0 4.8 0a2.4 2.4 0 1 0 -4.8 0M377.34 112.28a2.4 2.4 0 1 0 4.8 0a2.4 2.4 0 1 0 -4.8 0M377.34 120.43a2.4 2.4 0 1 0 4.8 0a2.4 2.4 0 1 0 -4.8 0M377.34 128.57a2.4 2.4 0 1 0 4.8 0a2.4 2.4 0 1 0 -4.8 0M377.34 136.72a2.4 2.4 0 1 0 4.8 0a2.4 2.4 0 1 0 -4.8 0M377.34 144.87a2.4 2.4 0 1 0 4.8 0a2.4 2.4 0 1 0 -4.8 0M385.49 55.24a2.4 2.4 0 1 0 4.8 0a2.4 2.4 0 1 0 -4.8 0M385.49 63.39a2.4 2.4 0 1 0 4.8 0a2.4 2.4 0 1 0 -4.8 0M385.49 71.54a2.4 2.4 0 1 0 4.8 0a2.4 2.4 0 1 0 -4.8 0M385.49 79.69a2.4 2.4 0 1 0 4.8 0a2.4 2.4 0 1 0 -4.8 0M385.49 87.83a2.4 2.4 0 1 0 4.8 0a2.4 2.4 0 1 0 -4.8 0M385.49 112.28a2.4 2.4 0 1 0 4.8 0a2.4 2.4 0 1 0 -4.8 0M385.49 120.43a2.4 2.4 0 1 0 4.8 0a2.4 2.4 0 1 0 -4.8 0M385.49 128.57a2.4 2.4 0 1 0 4.8 0a2.4 2.4 0 1 0 -4.8 0M385.49 136.72a2.4 2.4 0 1 0 4.8 0a2.4 2.4 0 1 0 -4.8 0M385.49 144.87a2.4 2.4 0 1 0 4.8 0a2.4 2.4 0 1 0 -4.8 0M393.64 55.24a2.4 2.4 0 1 0 4.8 0a2.4 2.4 0 1 0 -4.8 0M393.64 63.39a2.4 2.4 0 1 0 4.8 0a2.4 2.4 0 1 0 -4.8 0M393.64 71.54a2.4 2.4 0 1 0 4.8 0a2.4 2.4 0 1 0 -4.8 0M393.64 79.69a2.4 2.4 0 1 0 4.8 0a2.4 2.4 0 1 0 -4.8 0M393.64 87.83a2.4 2.4 0 1 0 4.8 0a2.4 2.4 0 1 0 -4.8 0M393.64 112.28a2.4 2.4 0 1 0 4.8 0a2.4 2.4 0 1 0 -4.8 0M393.64 120.43a2.4 2.4 0 1 0 4.8 0a2.4 2.4 0 1 0 -4.8 0M393.64 128.57a2.4 2.4 0 1 0 4.8 0a2.4 2.4 0 1 0 -4.8 0M393.64 136.72a2.4 2.4 0 1 0 4.8 0a2.4 2.4 0 1 0 -4.8 0M393.64 144.87a2.4 2.4 0 1 0 4.8 0a2.4 2.4 0 1 0 -4.8 0M401.78 55.24a2.4 2.4 0 1 0 4.8 0a2.4 2.4 0 1 0 -4.8 0M401.78 63.39a2.4 2.4 0 1 0 4.8 0a2.4 2.4 0 1 0 -4.8 0M401.78 71.54a2.4 2.4 0 1 0 4.8 0a2.4 2.4 0 1 0 -4.8 0M401.78 79.69a2.4 2.4 0 1 0 4.8 0a2.4 2.4 0 1 0 -4.8 0M401.78 87.83a2.4 2.4 0 1 0 4.8 0a2.4 2.4 0 1 0 -4.8 0M401.78 112.28a2.4 2.4 0 1 0 4.8 0a2.4 2.4 0 1 0 -4.8 0M401.78 120.43a2.4 2.4 0 1 0 4.8 0a2.4 2.4 0 1 0 -4.8 0M401.78 128.57a2.4 2.4 0 1 0 4.8 0a2.4 2.4 0 1 0 -4.8 0M401.78 136.72a2.4 2.4 0 1 0 4.8 0a2.4 2.4 0 1 0 -4.8 0M401.78 144.87a2.4 2.4 0 1 0 4.8 0a2.4 2.4 0 1 0 -4.8 0M409.93 55.24a2.4 2.4 0 1 0 4.8 0a2.4 2.4 0 1 0 -4.8 0M409.93 63.39a2.4 2.4 0 1 0 4.8 0a2.4 2.4 0 1 0 -4.8 0M409.93 71.54a2.4 2.4 0 1 0 4.8 0a2.4 2.4 0 1 0 -4.8 0M409.93 79.69a2.4 2.4 0 1 0 4.8 0a2.4 2.4 0 1 0 -4.8 0M409.93 87.83a2.4 2.4 0 1 0 4.8 0a2.4 2.4 0 1 0 -4.8 0M409.93 112.28a2.4 2.4 0 1 0 4.8 0a2.4 2.4 0 1 0 -4.8 0M409.93 120.43a2.4 2.4 0 1 0 4.8 0a2.4 2.4 0 1 0 -4.8 0M409.93 128.57a2.4 2.4 0 1 0 4.8 0a2.4 2.4 0 1 0 -4.8 0M409.93 136.72a2.4 2.4 0 1 0 4.8 0a2.4 2.4 0 1 0 -4.8 0M409.93 144.87a2.4 2.4 0 1 0 4.8 0a2.4 2.4 0 1 0 -4.8 0M418.08 55.24a2.4 2.4 0 1 0 4.8 0a2.4 2.4 0 1 0 -4.8 0M418.08 63.39a2.4 2.4 0 1 0 4.8 0a2.4 2.4 0 1 0 -4.8 0M418.08 71.54a2.4 2.4 0 1 0 4.8 0a2.4 2.4 0 1 0 -4.8 0M418.08 79.69a2.4 2.4 0 1 0 4.8 0a2.4 2.4 0 1 0 -4.8 0M418.08 87.83a2.4 2.4 0 1 0 4.8 0a2.4 2.4 0 1 0 -4.8 0M418.08 112.28a2.4 2.4 0 1 0 4.8 0a2.4 2.4 0 1 0 -4.8 0M418.08 120.43a2.4 2.4 0 1 0 4.8 0a2.4 2.4 0 1 0 -4.8 0M418.08 128.57a2.4 2.4 0 1 0 4.8 0a2.4 2.4 0 1 0 -4.8 0M418.08 136.72a2.4 2.4 0 1 0 4.8 0a2.4 2.4 0 1 0 -4.8 0M418.08 144.87a2.4 2.4 0 1 0 4.8 0a2.4 2.4 0 1 0 -4.8 0M426.23 55.24a2.4 2.4 0 1 0 4.8 0a2.4 2.4 0 1 0 -4.8 0M426.23 63.39a2.4 2.4 0 1 0 4.8 0a2.4 2.4 0 1 0 -4.8 0M426.23 71.54a2.4 2.4 0 1 0 4.8 0a2.4 2.4 0 1 0 -4.8 0M426.23 79.69a2.4 2.4 0 1 0 4.8 0a2.4 2.4 0 1 0 -4.8 0M426.23 87.83a2.4 2.4 0 1 0 4.8 0a2.4 2.4 0 1 0 -4.8 0M426.23 112.28a2.4 2.4 0 1 0 4.8 0a2.4 2.4 0 1 0 -4.8 0M426.23 120.43a2.4 2.4 0 1 0 4.8 0a2.4 2.4 0 1 0 -4.8 0M426.23 128.57a2.4 2.4 0 1 0 4.8 0a2.4 2.4 0 1 0 -4.8 0M426.23 136.72a2.4 2.4 0 1 0 4.8 0a2.4 2.4 0 1 0 -4.8 0M426.23 144.87a2.4 2.4 0 1 0 4.8 0a2.4 2.4 0 1 0 -4.8 0M434.38 55.24a2.4 2.4 0 1 0 4.8 0a2.4 2.4 0 1 0 -4.8 0M434.38 63.39a2.4 2.4 0 1 0 4.8 0a2.4 2.4 0 1 0 -4.8 0M434.38 71.54a2.4 2.4 0 1 0 4.8 0a2.4 2.4 0 1 0 -4.8 0M434.38 79.69a2.4 2.4 0 1 0 4.8 0a2.4 2.4 0 1 0 -4.8 0M434.38 87.83a2.4 2.4 0 1 0 4.8 0a2.4 2.4 0 1 0 -4.8 0M434.38 112.28a2.4 2.4 0 1 0 4.8 0a2.4 2.4 0 1 0 -4.8 0M434.38 120.43a2.4 2.4 0 1 0 4.8 0a2.4 2.4 0 1 0 -4.8 0M434.38 128.57a2.4 2.4 0 1 0 4.8 0a2.4 2.4 0 1 0 -4.8 0M434.38 136.72a2.4 2.4 0 1 0 4.8 0a2.4 2.4 0 1 0 -4.8 0M434.38 144.87a2.4 2.4 0 1 0 4.8 0a2.4 2.4 0 1 0 -4.8 0M442.52 55.24a2.4 2.4 0 1 0 4.8 0a2.4 2.4 0 1 0 -4.8 0M442.52 63.39a2.4 2.4 0 1 0 4.8 0a2.4 2.4 0 1 0 -4.8 0M442.52 71.54a2.4 2.4 0 1 0 4.8 0a2.4 2.4 0 1 0 -4.8 0M442.52 79.69a2.4 2.4 0 1 0 4.8 0a2.4 2.4 0 1 0 -4.8 0M442.52 87.83a2.4 2.4 0 1 0 4.8 0a2.4 2.4 0 1 0 -4.8 0M442.52 112.28a2.4 2.4 0 1 0 4.8 0a2.4 2.4 0 1 0 -4.8 0M442.52 120.43a2.4 2.4 0 1 0 4.8 0a2.4 2.4 0 1 0 -4.8 0M442.52 128.57a2.4 2.4 0 1 0 4.8 0a2.4 2.4 0 1 0 -4.8 0M442.52 136.72a2.4 2.4 0 1 0 4.8 0a2.4 2.4 0 1 0 -4.8 0M442.52 144.87a2.4 2.4 0 1 0 4.8 0a2.4 2.4 0 1 0 -4.8 0M450.67 55.24a2.4 2.4 0 1 0 4.8 0a2.4 2.4 0 1 0 -4.8 0M450.67 63.39a2.4 2.4 0 1 0 4.8 0a2.4 2.4 0 1 0 -4.8 0M450.67 71.54a2.4 2.4 0 1 0 4.8 0a2.4 2.4 0 1 0 -4.8 0M450.67 79.69a2.4 2.4 0 1 0 4.8 0a2.4 2.4 0 1 0 -4.8 0M450.67 87.83a2.4 2.4 0 1 0 4.8 0a2.4 2.4 0 1 0 -4.8 0M450.67 112.28a2.4 2.4 0 1 0 4.8 0a2.4 2.4 0 1 0 -4.8 0M450.67 120.43a2.4 2.4 0 1 0 4.8 0a2.4 2.4 0 1 0 -4.8 0M450.67 128.57a2.4 2.4 0 1 0 4.8 0a2.4 2.4 0 1 0 -4.8 0M450.67 136.72a2.4 2.4 0 1 0 4.8 0a2.4 2.4 0 1 0 -4.8 0M450.67 144.87a2.4 2.4 0 1 0 4.8 0a2.4 2.4 0 1 0 -4.8 0M458.82 55.24a2.4 2.4 0 1 0 4.8 0a2.4 2.4 0 1 0 -4.8 0M458.82 63.39a2.4 2.4 0 1 0 4.8 0a2.4 2.4 0 1 0 -4.8 0M458.82 71.54a2.4 2.4 0 1 0 4.8 0a2.4 2.4 0 1 0 -4.8 0M458.82 79.69a2.4 2.4 0 1 0 4.8 0a2.4 2.4 0 1 0 -4.8 0M458.82 87.83a2.4 2.4 0 1 0 4.8 0a2.4 2.4 0 1 0 -4.8 0M458.82 112.28a2.4 2.4 0 1 0 4.8 0a2.4 2.4 0 1 0 -4.8 0M458.82 120.43a2.4 2.4 0 1 0 4.8 0a2.4 2.4 0 1 0 -4.8 0M458.82 128.57a2.4 2.4 0 1 0 4.8 0a2.4 2.4 0 1 0 -4.8 0M458.82 136.72a2.4 2.4 0 1 0 4.8 0a2.4 2.4 0 1 0 -4.8 0M458.82 144.87a2.4 2.4 0 1 0 4.8 0a2.4 2.4 0 1 0 -4.8 0M466.67 55.24a2.7 2.7 0 1 0 5.4 0a2.7 2.7 0 1 0 -5.4 0M466.67 63.39a2.7 2.7 0 1 0 5.4 0a2.7 2.7 0 1 0 -5.4 0M466.67 71.54a2.7 2.7 0 1 0 5.4 0a2.7 2.7 0 1 0 -5.4 0M466.67 79.69a2.7 2.7 0 1 0 5.4 0a2.7 2.7 0 1 0 -5.4 0M466.67 87.83a2.7 2.7 0 1 0 5.4 0a2.7 2.7 0 1 0 -5.4 0M466.67 112.28a2.7 2.7 0 1 0 5.4 0a2.7 2.7 0 1 0 -5.4 0M466.67 120.43a2.7 2.7 0 1 0 5.4 0a2.7 2.7 0 1 0 -5.4 0M466.67 128.57a2.7 2.7 0 1 0 5.4 0a2.7 2.7 0 1 0 -5.4 0M466.67 136.72a2.7 2.7 0 1 0 5.4 0a2.7 2.7 0 1 0 -5.4 0M466.67 144.87a2.7 2.7 0 1 0 5.4 0a2.7 2.7 0 1 0 -5.4 0M475.12 55.24a2.4 2.4 0 1 0 4.8 0a2.4 2.4 0 1 0 -4.8 0M475.12 63.39a2.4 2.4 0 1 0 4.8 0a2.4 2.4 0 1 0 -4.8 0M475.12 71.54a2.4 2.4 0 1 0 4.8 0a2.4 2.4 0 1 0 -4.8 0M475.12 79.69a2.4 2.4 0 1 0 4.8 0a2.4 2.4 0 1 0 -4.8 0M475.12 87.83a2.4 2.4 0 1 0 4.8 0a2.4 2.4 0 1 0 -4.8 0M475.12 112.28a2.4 2.4 0 1 0 4.8 0a2.4 2.4 0 1 0 -4.8 0M475.12 120.43a2.4 2.4 0 1 0 4.8 0a2.4 2.4 0 1 0 -4.8 0M475.12 128.57a2.4 2.4 0 1 0 4.8 0a2.4 2.4 0 1 0 -4.8 0M475.12 136.72a2.4 2.4 0 1 0 4.8 0a2.4 2.4 0 1 0 -4.8 0M475.12 144.87a2.4 2.4 0 1 0 4.8 0a2.4 2.4 0 1 0 -4.8 0M482.96 55.24a2.7 2.7 0 1 0 5.4 0a2.7 2.7 0 1 0 -5.4 0M482.96 63.39a2.7 2.7 0 1 0 5.4 0a2.7 2.7 0 1 0 -5.4 0M482.96 71.54a2.7 2.7 0 1 0 5.4 0a2.7 2.7 0 1 0 -5.4 0M482.96 79.69a2.7 2.7 0 1 0 5.4 0a2.7 2.7 0 1 0 -5.4 0M482.96 87.83a2.7 2.7 0 1 0 5.4 0a2.7 2.7 0 1 0 -5.4 0M482.96 112.28a2.7 2.7 0 1 0 5.4 0a2.7 2.7 0 1 0 -5.4 0M482.96 120.43a2.7 2.7 0 1 0 5.4 0a2.7 2.7 0 1 0 -5.4 0M482.96 128.57a2.7 2.7 0 1 0 5.4 0a2.7 2.7 0 1 0 -5.4 0M482.96 136.72a2.7 2.7 0 1 0 5.4 0a2.7 2.7 0 1 0 -5.4 0M482.96 144.87a2.7 2.7 0 1 0 5.4 0a2.7 2.7 0 1 0 -5.4 0M491.41 55.24a2.4 2.4 0 1 0 4.8 0a2.4 2.4 0 1 0 -4.8 0M491.41 63.39a2.4 2.4 0 1 0 4.8 0a2.4 2.4 0 1 0 -4.8 0M491.41 71.54a2.4 2.4 0 1 0 4.8 0a2.4 2.4 0 1 0 -4.8 0M491.41 79.69a2.4 2.4 0 1 0 4.8 0a2.4 2.4 0 1 0 -4.8 0M491.41 87.83a2.4 2.4 0 1 0 4.8 0a2.4 2.4 0 1 0 -4.8 0M491.41 112.28a2.4 2.4 0 1 0 4.8 0a2.4 2.4 0 1 0 -4.8 0M491.41 120.43a2.4 2.4 0 1 0 4.8 0a2.4 2.4 0 1 0 -4.8 0M491.41 128.57a2.4 2.4 0 1 0 4.8 0a2.4 2.4 0 1 0 -4.8 0M491.41 136.72a2.4 2.4 0 1 0 4.8 0a2.4 2.4 0 1 0 -4.8 0M491.41 144.87a2.4 2.4 0 1 0 4.8 0a2.4 2.4 0 1 0 -4.8 0M499.56 55.24a2.4 2.4 0 1 0 4.8 0a2.4 2.4 0 1 0 -4.8 0M499.56 63.39a2.4 2.4 0 1 0 4.8 0a2.4 2.4 0 1 0 -4.8 0M499.56 71.54a2.4 2.4 0 1 0 4.8 0a2.4 2.4 0 1 0 -4.8 0M499.56 79.69a2.4 2.4 0 1 0 4.8 0a2.4 2.4 0 1 0 -4.8 0M499.56 87.83a2.4 2.4 0 1 0 4.8 0a2.4 2.4 0 1 0 -4.8 0M499.56 112.28a2.4 2.4 0 1 0 4.8 0a2.4 2.4 0 1 0 -4.8 0M499.56 120.43a2.4 2.4 0 1 0 4.8 0a2.4 2.4 0 1 0 -4.8 0M499.56 128.57a2.4 2.4 0 1 0 4.8 0a2.4 2.4 0 1 0 -4.8 0M499.56 136.72a2.4 2.4 0 1 0 4.8 0a2.4 2.4 0 1 0 -4.8 0M499.56 144.87a2.4 2.4 0 1 0 4.8 0a2.4 2.4 0 1 0 -4.8 0M507.71 55.24a2.4 2.4 0 1 0 4.8 0a2.4 2.4 0 1 0 -4.8 0M507.71 63.39a2.4 2.4 0 1 0 4.8 0a2.4 2.4 0 1 0 -4.8 0M507.71 71.54a2.4 2.4 0 1 0 4.8 0a2.4 2.4 0 1 0 -4.8 0M507.71 79.69a2.4 2.4 0 1 0 4.8 0a2.4 2.4 0 1 0 -4.8 0M507.71 87.83a2.4 2.4 0 1 0 4.8 0a2.4 2.4 0 1 0 -4.8 0M507.71 112.28a2.4 2.4 0 1 0 4.8 0a2.4 2.4 0 1 0 -4.8 0M507.71 120.43a2.4 2.4 0 1 0 4.8 0a2.4 2.4 0 1 0 -4.8 0M507.71 128.57a2.4 2.4 0 1 0 4.8 0a2.4 2.4 0 1 0 -4.8 0M507.71 136.72a2.4 2.4 0 1 0 4.8 0a2.4 2.4 0 1 0 -4.8 0M507.71 144.87a2.4 2.4 0 1 0 4.8 0a2.4 2.4 0 1 0 -4.8 0M515.86 55.24a2.4 2.4 0 1 0 4.8 0a2.4 2.4 0 1 0 -4.8 0M515.86 63.39a2.4 2.4 0 1 0 4.8 0a2.4 2.4 0 1 0 -4.8 0M515.86 71.54a2.4 2.4 0 1 0 4.8 0a2.4 2.4 0 1 0 -4.8 0M515.86 79.69a2.4 2.4 0 1 0 4.8 0a2.4 2.4 0 1 0 -4.8 0M515.86 87.83a2.4 2.4 0 1 0 4.8 0a2.4 2.4 0 1 0 -4.8 0M515.56 112.28a2.7 2.7 0 1 0 5.4 0a2.7 2.7 0 1 0 -5.4 0M515.56 120.43a2.7 2.7 0 1 0 5.4 0a2.7 2.7 0 1 0 -5.4 0M515.56 128.57a2.7 2.7 0 1 0 5.4 0a2.7 2.7 0 1 0 -5.4 0M515.56 136.72a2.7 2.7 0 1 0 5.4 0a2.7 2.7 0 1 0 -5.4 0M515.56 144.87a2.7 2.7 0 1 0 5.4 0a2.7 2.7 0 1 0 -5.4 0M524 55.24a2.4 2.4 0 1 0 4.8 0a2.4 2.4 0 1 0 -4.8 0M524 63.39a2.4 2.4 0 1 0 4.8 0a2.4 2.4 0 1 0 -4.8 0M524 71.54a2.4 2.4 0 1 0 4.8 0a2.4 2.4 0 1 0 -4.8 0M524 79.69a2.4 2.4 0 1 0 4.8 0a2.4 2.4 0 1 0 -4.8 0M524 87.83a2.4 2.4 0 1 0 4.8 0a2.4 2.4 0 1 0 -4.8 0M524 112.28a2.4 2.4 0 1 0 4.8 0a2.4 2.4 0 1 0 -4.8 0M524 120.43a2.4 2.4 0 1 0 4.8 0a2.4 2.4 0 1 0 -4.8 0M524 128.57a2.4 2.4 0 1 0 4.8 0a2.4 2.4 0 1 0 -4.8 0M524 136.72a2.4 2.4 0 1 0 4.8 0a2.4 2.4 0 1 0 -4.8 0M524 144.87a2.4 2.4 0 1 0 4.8 0a2.4 2.4 0 1 0 -4.8 0M532.15 55.24a2.4 2.4 0 1 0 4.8 0a2.4 2.4 0 1 0 -4.8 0M532.15 63.39a2.4 2.4 0 1 0 4.8 0a2.4 2.4 0 1 0 -4.8 0M532.15 71.54a2.4 2.4 0 1 0 4.8 0a2.4 2.4 0 1 0 -4.8 0M532.15 79.69a2.4 2.4 0 1 0 4.8 0a2.4 2.4 0 1 0 -4.8 0M532.15 87.83a2.4 2.4 0 1 0 4.8 0a2.4 2.4 0 1 0 -4.8 0M532.15 112.28a2.4 2.4 0 1 0 4.8 0a2.4 2.4 0 1 0 -4.8 0M532.15 120.43a2.4 2.4 0 1 0 4.8 0a2.4 2.4 0 1 0 -4.8 0M532.15 128.57a2.4 2.4 0 1 0 4.8 0a2.4 2.4 0 1 0 -4.8 0M532.15 136.72a2.4 2.4 0 1 0 4.8 0a2.4 2.4 0 1 0 -4.8 0M532.15 144.87a2.4 2.4 0 1 0 4.8 0a2.4 2.4 0 1 0 -4.8 0M540.3 55.24a2.4 2.4 0 1 0 4.8 0a2.4 2.4 0 1 0 -4.8 0M540.3 63.39a2.4 2.4 0 1 0 4.8 0a2.4 2.4 0 1 0 -4.8 0M540.3 71.54a2.4 2.4 0 1 0 4.8 0a2.4 2.4 0 1 0 -4.8 0M540.3 79.69a2.4 2.4 0 1 0 4.8 0a2.4 2.4 0 1 0 -4.8 0M540.3 87.83a2.4 2.4 0 1 0 4.8 0a2.4 2.4 0 1 0 -4.8 0M540.3 112.28a2.4 2.4 0 1 0 4.8 0a2.4 2.4 0 1 0 -4.8 0M540.3 120.43a2.4 2.4 0 1 0 4.8 0a2.4 2.4 0 1 0 -4.8 0M540.3 128.57a2.4 2.4 0 1 0 4.8 0a2.4 2.4 0 1 0 -4.8 0M540.3 136.72a2.4 2.4 0 1 0 4.8 0a2.4 2.4 0 1 0 -4.8 0M540.3 144.87a2.4 2.4 0 1 0 4.8 0a2.4 2.4 0 1 0 -4.8 0M548.45 55.24a2.4 2.4 0 1 0 4.8 0a2.4 2.4 0 1 0 -4.8 0M548.45 63.39a2.4 2.4 0 1 0 4.8 0a2.4 2.4 0 1 0 -4.8 0M548.45 71.54a2.4 2.4 0 1 0 4.8 0a2.4 2.4 0 1 0 -4.8 0M548.45 79.69a2.4 2.4 0 1 0 4.8 0a2.4 2.4 0 1 0 -4.8 0M548.45 87.83a2.4 2.4 0 1 0 4.8 0a2.4 2.4 0 1 0 -4.8 0M548.45 112.28a2.4 2.4 0 1 0 4.8 0a2.4 2.4 0 1 0 -4.8 0M548.45 120.43a2.4 2.4 0 1 0 4.8 0a2.4 2.4 0 1 0 -4.8 0M548.45 128.57a2.4 2.4 0 1 0 4.8 0a2.4 2.4 0 1 0 -4.8 0M548.45 136.72a2.4 2.4 0 1 0 4.8 0a2.4 2.4 0 1 0 -4.8 0M548.45 144.87a2.4 2.4 0 1 0 4.8 0a2.4 2.4 0 1 0 -4.8 0M556.6 55.24a2.4 2.4 0 1 0 4.8 0a2.4 2.4 0 1 0 -4.8 0M556.6 63.39a2.4 2.4 0 1 0 4.8 0a2.4 2.4 0 1 0 -4.8 0M556.6 71.54a2.4 2.4 0 1 0 4.8 0a2.4 2.4 0 1 0 -4.8 0M556.6 79.69a2.4 2.4 0 1 0 4.8 0a2.4 2.4 0 1 0 -4.8 0M556.6 87.83a2.4 2.4 0 1 0 4.8 0a2.4 2.4 0 1 0 -4.8 0M556.6 112.28a2.4 2.4 0 1 0 4.8 0a2.4 2.4 0 1 0 -4.8 0M556.6 120.43a2.4 2.4 0 1 0 4.8 0a2.4 2.4 0 1 0 -4.8 0M556.6 128.57a2.4 2.4 0 1 0 4.8 0a2.4 2.4 0 1 0 -4.8 0M556.6 136.72a2.4 2.4 0 1 0 4.8 0a2.4 2.4 0 1 0 -4.8 0M556.6 144.87a2.4 2.4 0 1 0 4.8 0a2.4 2.4 0 1 0 -4.8 0M564.74 55.24a2.4 2.4 0 1 0 4.8 0a2.4 2.4 0 1 0 -4.8 0M564.74 63.39a2.4 2.4 0 1 0 4.8 0a2.4 2.4 0 1 0 -4.8 0M564.74 71.54a2.4 2.4 0 1 0 4.8 0a2.4 2.4 0 1 0 -4.8 0M564.74 79.69a2.4 2.4 0 1 0 4.8 0a2.4 2.4 0 1 0 -4.8 0M564.74 87.83a2.4 2.4 0 1 0 4.8 0a2.4 2.4 0 1 0 -4.8 0M564.74 112.28a2.4 2.4 0 1 0 4.8 0a2.4 2.4 0 1 0 -4.8 0M564.74 120.43a2.4 2.4 0 1 0 4.8 0a2.4 2.4 0 1 0 -4.8 0M564.74 128.57a2.4 2.4 0 1 0 4.8 0a2.4 2.4 0 1 0 -4.8 0M564.74 136.72a2.4 2.4 0 1 0 4.8 0a2.4 2.4 0 1 0 -4.8 0M564.74 144.87a2.4 2.4 0 1 0 4.8 0a2.4 2.4 0 1 0 -4.8 0M572.89 55.24a2.4 2.4 0 1 0 4.8 0a2.4 2.4 0 1 0 -4.8 0M572.89 63.39a2.4 2.4 0 1 0 4.8 0a2.4 2.4 0 1 0 -4.8 0M572.89 71.54a2.4 2.4 0 1 0 4.8 0a2.4 2.4 0 1 0 -4.8 0M572.89 79.69a2.4 2.4 0 1 0 4.8 0a2.4 2.4 0 1 0 -4.8 0M572.89 87.83a2.4 2.4 0 1 0 4.8 0a2.4 2.4 0 1 0 -4.8 0M572.89 112.28a2.4 2.4 0 1 0 4.8 0a2.4 2.4 0 1 0 -4.8 0M572.89 120.43a2.4 2.4 0 1 0 4.8 0a2.4 2.4 0 1 0 -4.8 0M572.89 128.57a2.4 2.4 0 1 0 4.8 0a2.4 2.4 0 1 0 -4.8 0M572.89 136.72a2.4 2.4 0 1 0 4.8 0a2.4 2.4 0 1 0 -4.8 0M572.89 144.87a2.4 2.4 0 1 0 4.8 0a2.4 2.4 0 1 0 -4.8 0M581.04 55.24a2.4 2.4 0 1 0 4.8 0a2.4 2.4 0 1 0 -4.8 0M581.04 63.39a2.4 2.4 0 1 0 4.8 0a2.4 2.4 0 1 0 -4.8 0M581.04 71.54a2.4 2.4 0 1 0 4.8 0a2.4 2.4 0 1 0 -4.8 0M581.04 79.69a2.4 2.4 0 1 0 4.8 0a2.4 2.4 0 1 0 -4.8 0M581.04 87.83a2.4 2.4 0 1 0 4.8 0a2.4 2.4 0 1 0 -4.8 0M581.04 112.28a2.4 2.4 0 1 0 4.8 0a2.4 2.4 0 1 0 -4.8 0M581.04 120.43a2.4 2.4 0 1 0 4.8 0a2.4 2.4 0 1 0 -4.8 0M581.04 128.57a2.4 2.4 0 1 0 4.8 0a2.4 2.4 0 1 0 -4.8 0M581.04 136.72a2.4 2.4 0 1 0 4.8 0a2.4 2.4 0 1 0 -4.8 0M581.04 144.87a2.4 2.4 0 1 0 4.8 0a2.4 2.4 0 1 0 -4.8 0M589.19 55.24a2.4 2.4 0 1 0 4.8 0a2.4 2.4 0 1 0 -4.8 0M589.19 63.39a2.4 2.4 0 1 0 4.8 0a2.4 2.4 0 1 0 -4.8 0M589.19 71.54a2.4 2.4 0 1 0 4.8 0a2.4 2.4 0 1 0 -4.8 0M589.19 79.69a2.4 2.4 0 1 0 4.8 0a2.4 2.4 0 1 0 -4.8 0M589.19 87.83a2.4 2.4 0 1 0 4.8 0a2.4 2.4 0 1 0 -4.8 0M589.19 112.28a2.4 2.4 0 1 0 4.8 0a2.4 2.4 0 1 0 -4.8 0M589.19 120.43a2.4 2.4 0 1 0 4.8 0a2.4 2.4 0 1 0 -4.8 0M589.19 128.57a2.4 2.4 0 1 0 4.8 0a2.4 2.4 0 1 0 -4.8 0M589.19 136.72a2.4 2.4 0 1 0 4.8 0a2.4 2.4 0 1 0 -4.8 0M589.19 144.87a2.4 2.4 0 1 0 4.8 0a2.4 2.4 0 1 0 -4.8 0M597.34 55.24a2.4 2.4 0 1 0 4.8 0a2.4 2.4 0 1 0 -4.8 0M597.34 63.39a2.4 2.4 0 1 0 4.8 0a2.4 2.4 0 1 0 -4.8 0M597.34 71.54a2.4 2.4 0 1 0 4.8 0a2.4 2.4 0 1 0 -4.8 0M597.34 79.69a2.4 2.4 0 1 0 4.8 0a2.4 2.4 0 1 0 -4.8 0M597.34 87.83a2.4 2.4 0 1 0 4.8 0a2.4 2.4 0 1 0 -4.8 0M597.34 112.28a2.4 2.4 0 1 0 4.8 0a2.4 2.4 0 1 0 -4.8 0M597.34 120.43a2.4 2.4 0 1 0 4.8 0a2.4 2.4 0 1 0 -4.8 0M597.34 128.57a2.4 2.4 0 1 0 4.8 0a2.4 2.4 0 1 0 -4.8 0M597.34 136.72a2.4 2.4 0 1 0 4.8 0a2.4 2.4 0 1 0 -4.8 0M597.34 144.87a2.4 2.4 0 1 0 4.8 0a2.4 2.4 0 1 0 -4.8 0M605.48 55.24a2.4 2.4 0 1 0 4.8 0a2.4 2.4 0 1 0 -4.8 0M605.48 63.39a2.4 2.4 0 1 0 4.8 0a2.4 2.4 0 1 0 -4.8 0M605.48 71.54a2.4 2.4 0 1 0 4.8 0a2.4 2.4 0 1 0 -4.8 0M605.48 79.69a2.4 2.4 0 1 0 4.8 0a2.4 2.4 0 1 0 -4.8 0M605.48 87.83a2.4 2.4 0 1 0 4.8 0a2.4 2.4 0 1 0 -4.8 0M605.48 112.28a2.4 2.4 0 1 0 4.8 0a2.4 2.4 0 1 0 -4.8 0M605.48 120.43a2.4 2.4 0 1 0 4.8 0a2.4 2.4 0 1 0 -4.8 0M605.48 128.57a2.4 2.4 0 1 0 4.8 0a2.4 2.4 0 1 0 -4.8 0M605.48 136.72a2.4 2.4 0 1 0 4.8 0a2.4 2.4 0 1 0 -4.8 0M605.48 144.87a2.4 2.4 0 1 0 4.8 0a2.4 2.4 0 1 0 -4.8 0M613.63 55.24a2.4 2.4 0 1 0 4.8 0a2.4 2.4 0 1 0 -4.8 0M613.63 63.39a2.4 2.4 0 1 0 4.8 0a2.4 2.4 0 1 0 -4.8 0M613.63 71.54a2.4 2.4 0 1 0 4.8 0a2.4 2.4 0 1 0 -4.8 0M613.63 79.69a2.4 2.4 0 1 0 4.8 0a2.4 2.4 0 1 0 -4.8 0M613.63 87.83a2.4 2.4 0 1 0 4.8 0a2.4 2.4 0 1 0 -4.8 0M613.63 112.28a2.4 2.4 0 1 0 4.8 0a2.4 2.4 0 1 0 -4.8 0M613.63 120.43a2.4 2.4 0 1 0 4.8 0a2.4 2.4 0 1 0 -4.8 0M613.63 128.57a2.4 2.4 0 1 0 4.8 0a2.4 2.4 0 1 0 -4.8 0M613.63 136.72a2.4 2.4 0 1 0 4.8 0a2.4 2.4 0 1 0 -4.8 0M613.63 144.87a2.4 2.4 0 1 0 4.8 0a2.4 2.4 0 1 0 -4.8 0M621.78 55.24a2.4 2.4 0 1 0 4.8 0a2.4 2.4 0 1 0 -4.8 0M621.78 63.39a2.4 2.4 0 1 0 4.8 0a2.4 2.4 0 1 0 -4.8 0M621.78 71.54a2.4 2.4 0 1 0 4.8 0a2.4 2.4 0 1 0 -4.8 0M621.78 79.69a2.4 2.4 0 1 0 4.8 0a2.4 2.4 0 1 0 -4.8 0M621.78 87.83a2.4 2.4 0 1 0 4.8 0a2.4 2.4 0 1 0 -4.8 0M621.78 112.28a2.4 2.4 0 1 0 4.8 0a2.4 2.4 0 1 0 -4.8 0M621.78 120.43a2.4 2.4 0 1 0 4.8 0a2.4 2.4 0 1 0 -4.8 0M621.78 128.57a2.4 2.4 0 1 0 4.8 0a2.4 2.4 0 1 0 -4.8 0M621.78 136.72a2.4 2.4 0 1 0 4.8 0a2.4 2.4 0 1 0 -4.8 0M621.78 144.87a2.4 2.4 0 1 0 4.8 0a2.4 2.4 0 1 0 -4.8 0M629.93 55.24a2.4 2.4 0 1 0 4.8 0a2.4 2.4 0 1 0 -4.8 0M629.93 63.39a2.4 2.4 0 1 0 4.8 0a2.4 2.4 0 1 0 -4.8 0M629.93 71.54a2.4 2.4 0 1 0 4.8 0a2.4 2.4 0 1 0 -4.8 0M629.93 79.69a2.4 2.4 0 1 0 4.8 0a2.4 2.4 0 1 0 -4.8 0M629.93 87.83a2.4 2.4 0 1 0 4.8 0a2.4 2.4 0 1 0 -4.8 0M629.93 112.28a2.4 2.4 0 1 0 4.8 0a2.4 2.4 0 1 0 -4.8 0M629.93 120.43a2.4 2.4 0 1 0 4.8 0a2.4 2.4 0 1 0 -4.8 0M629.93 128.57a2.4 2.4 0 1 0 4.8 0a2.4 2.4 0 1 0 -4.8 0M629.93 136.72a2.4 2.4 0 1 0 4.8 0a2.4 2.4 0 1 0 -4.8 0M629.93 144.87a2.4 2.4 0 1 0 4.8 0a2.4 2.4 0 1 0 -4.8 0M638.08 55.24a2.4 2.4 0 1 0 4.8 0a2.4 2.4 0 1 0 -4.8 0M638.08 63.39a2.4 2.4 0 1 0 4.8 0a2.4 2.4 0 1 0 -4.8 0M638.08 71.54a2.4 2.4 0 1 0 4.8 0a2.4 2.4 0 1 0 -4.8 0M638.08 79.69a2.4 2.4 0 1 0 4.8 0a2.4 2.4 0 1 0 -4.8 0M638.08 87.83a2.4 2.4 0 1 0 4.8 0a2.4 2.4 0 1 0 -4.8 0M638.08 112.28a2.4 2.4 0 1 0 4.8 0a2.4 2.4 0 1 0 -4.8 0M638.08 120.43a2.4 2.4 0 1 0 4.8 0a2.4 2.4 0 1 0 -4.8 0M638.08 128.57a2.4 2.4 0 1 0 4.8 0a2.4 2.4 0 1 0 -4.8 0M638.08 136.72a2.4 2.4 0 1 0 4.8 0a2.4 2.4 0 1 0 -4.8 0M638.08 144.87a2.4 2.4 0 1 0 4.8 0a2.4 2.4 0 1 0 -4.8 0" fill="#e6e6e6"/><path d="M148 169.31a3.6 3.6 0 1 0 7.2 0a3.6 3.6 0 1 0 -7.2 0M148 177.46a3.6 3.6 0 1 0 7.2 0a3.6 3.6 0 1 0 -7.2 0M156.14 169.31a3.6 3.6 0 1 0 7.2 0a3.6 3.6 0 1 0 -7.2 0M156.14 177.46a3.6 3.6 0 1 0 7.2 0a3.6 3.6 0 1 0 -7.2 0M164.29 169.31a3.6 3.6 0 1 0 7.2 0a3.6 3.6 0 1 0 -7.2 0M164.29 177.46a3.6 3.6 0 1 0 7.2 0a3.6 3.6 0 1 0 -7.2 0M172.44 169.31a3.6 3.6 0 1 0 7.2 0a3.6 3.6 0 1 0 -7.2 0M172.44 177.46a3.6 3.6 0 1 0 7.2 0a3.6 3.6 0 1 0 -7.2 0M180.59 169.31a3.6 3.6 0 1 0 7.2 0a3.6 3.6 0 1 0 -7.2 0M180.59 177.46a3.6 3.6 0 1 0 7.2 0a3.6 3.6 0 1 0 -7.2 0M196.88 169.31a3.6 3.6 0 1 0 7.2 0a3.6 3.6 0 1 0 -7.2 0M196.88 177.46a3.6 3.6 0 1 0 7.2 0a3.6 3.6 0 1 0 -7.2 0M205.03 169.31a3.6 3.6 0 1 0 7.2 0a3.6 3.6 0 1 0 -7.2 0M205.03 177.46a3.6 3.6 0 1 0 7.2 0a3.6 3.6 0 1 0 -7.2 0M213.18 169.31a3.6 3.6 0 1 0 7.2 0a3.6 3.6 0 1 0 -7.2 0M213.18 177.46a3.6 3.6 0 1 0 7.2 0a3.6 3.6 0 1 0 -7.2 0M221.33 169.31a3.6 3.6 0 1 0 7.2 0a3.6 3.6 0 1 0 -7.2 0M221.33 177.46a3.6 3.6 0 1 0 7.2 0a3.6 3.6 0 1 0 -7.2 0M229.48 169.31a3.6 3.6 0 1 0 7.2 0a3.6 3.6 0 1 0 -7.2 0M229.48 177.46a3.6 3.6 0 1 0 7.2 0a3.6 3.6 0 1 0 -7.2 0M245.77 169.31a3.6 3.6 0 1 0 7.2 0a3.6 3.6 0 1 0 -7.2 0M245.77 177.46a3.6 3.6 0 1 0 7.2 0a3.6 3.6 0 1 0 -7.2 0M253.92 169.31a3.6 3.6 0 1 0 7.2 0a3.6 3.6 0 1 0 -7.2 0M253.92 177.46a3.6 3.6 0 1 0 7.2 0a3.6 3.6 0 1 0 -7.2 0M262.07 169.31a3.6 3.6 0 1 0 7.2 0a3.6 3.6 0 1 0 -7.2 0M262.07 177.46a3.6 3.6 0 1 0 7.2 0a3.6 3.6 0 1 0 -7.2 0M270.22 169.31a3.6 3.6 0 1 0 7.2 0a3.6 3.6 0 1 0 -7.2 0M270.22 177.46a3.6 3.6 0 1 0 7.2 0a3.6 3.6 0 1 0 -7.2 0M278.36 169.31a3.6 3.6 0 1 0 7.2 0a3.6 3.6 0 1 0 -7.2 0M278.36 177.46a3.6 3.6 0 1 0 7.2 0a3.6 3.6 0 1 0 -7.2 0M294.66 169.31a3.6 3.6 0 1 0 7.2 0a3.6 3.6 0 1 0 -7.2 0M294.66 177.46a3.6 3.6 0 1 0 7.2 0a3.6 3.6 0 1 0 -7.2 0M302.81 169.31a3.6 3.6 0 1 0 7.2 0a3.6 3.6 0 1 0 -7.2 0M302.81 177.46a3.6 3.6 0 1 0 7.2 0a3.6 3.6 0 1 0 -7.2 0M310.96 169.31a3.6 3.6 0 1 0 7.2 0a3.6 3.6 0 1 0 -7.2 0M310.96 177.46a3.6 3.6 0 1 0 7.2 0a3.6 3.6 0 1 0 -7.2 0M319.1 169.31a3.6 3.6 0 1 0 7.2 0a3.6 3.6 0 1 0 -7.2 0M319.1 177.46a3.6 3.6 0 1 0 7.2 0a3.6 3.6 0 1 0 -7.2 0M327.25 169.31a3.6 3.6 0 1 0 7.2 0a3.6 3.6 0 1 0 -7.2 0M327.25 177.46a3.6 3.6 0 1 0 7.2 0a3.6 3.6 0 1 0 -7.2 0M343.55 169.31a3.6 3.6 0 1 0 7.2 0a3.6 3.6 0 1 0 -7.2 0M343.55 177.46a3.6 3.6 0 1 0 7.2 0a3.6 3.6 0 1 0 -7.2 0M351.7 169.31a3.6 3.6 0 1 0 7.2 0a3.6 3.6 0 1 0 -7.2 0M351.7 177.46a3.6 3.6 0 1 0 7.2 0a3.6 3.6 0 1 0 -7.2 0M359.84 169.31a3.6 3.6 0 1 0 7.2 0a3.6 3.6 0 1 0 -7.2 0M359.84 177.46a3.6 3.6 0 1 0 7.2 0a3.6 3.6 0 1 0 -7.2 0M367.99 169.31a3.6 3.6 0 1 0 7.2 0a3.6 3.6 0 1 0 -7.2 0M367.99 177.46a3.6 3.6 0 1 0 7.2 0a3.6 3.6 0 1 0 -7.2 0M376.14 169.31a3.6 3.6 0 1 0 7.2 0a3.6 3.6 0 1 0 -7.2 0M376.14 177.46a3.6 3.6 0 1 0 7.2 0a3.6 3.6 0 1 0 -7.2 0M392.44 169.31a3.6 3.6 0 1 0 7.2 0a3.6 3.6 0 1 0 -7.2 0M392.44 177.46a3.6 3.6 0 1 0 7.2 0a3.6 3.6 0 1 0 -7.2 0M400.58 169.31a3.6 3.6 0 1 0 7.2 0a3.6 3.6 0 1 0 -7.2 0M400.58 177.46a3.6 3.6 0 1 0 7.2 0a3.6 3.6 0 1 0 -7.2 0M408.73 169.31a3.6 3.6 0 1 0 7.2 0a3.6 3.6 0 1 0 -7.2 0M408.73 177.46a3.6 3.6 0 1 0 7.2 0a3.6 3.6 0 1 0 -7.2 0M416.88 169.31a3.6 3.6 0 1 0 7.2 0a3.6 3.6 0 1 0 -7.2 0M416.88 177.46a3.6 3.6 0 1 0 7.2 0a3.6 3.6 0 1 0 -7.2 0M425.03 169.31a3.6 3.6 0 1 0 7.2 0a3.6 3.6 0 1 0 -7.2 0M425.03 177.46a3.6 3.6 0 1 0 7.2 0a3.6 3.6 0 1 0 -7.2 0M441.32 169.31a3.6 3.6 0 1 0 7.2 0a3.6 3.6 0 1 0 -7.2 0M441.32 177.46a3.6 3.6 0 1 0 7.2 0a3.6 3.6 0 1 0 -7.2 0M449.47 169.31a3.6 3.6 0 1 0 7.2 0a3.6 3.6 0 1 0 -7.2 0M449.47 177.46a3.6 3.6 0 1 0 7.2 0a3.6 3.6 0 1 0 -7.2 0M457.62 169.31a3.6 3.6 0 1 0 7.2 0a3.6 3.6 0 1 0 -7.2 0M457.62 177.46a3.6 3.6 0 1 0 7.2 0a3.6 3.6 0 1 0 -7.2 0M465.77 169.31a3.6 3.6 0 1 0 7.2 0a3.6 3.6 0 1 0 -7.2 0M465.77 177.46a3.6 3.6 0 1 0 7.2 0a3.6 3.6 0 1 0 -7.2 0M473.92 169.31a3.6 3.6 0 1 0 7.2 0a3.6 3.6 0 1 0 -7.2 0M473.92 177.46a3.6 3.6 0 1 0 7.2 0a3.6 3.6 0 1 0 -7.2 0M490.21 169.31a3.6 3.6 0 1 0 7.2 0a3.6 3.6 0 1 0 -7.2 0M490.21 177.46a3.6 3.6 0 1 0 7.2 0a3.6 3.6 0 1 0 -7.2 0M498.36 169.31a3.6 3.6 0 1 0 7.2 0a3.6 3.6 0 1 0 -7.2 0M498.36 177.46a3.6 3.6 0 1 0 7.2 0a3.6 3.6 0 1 0 -7.2 0M506.51 169.31a3.6 3.6 0 1 0 7.2 0a3.6 3.6 0 1 0 -7.2 0M506.51 177.46a3.6 3.6 0 1 0 7.2 0a3.6 3.6 0 1 0 -7.2 0M514.66 169.31a3.6 3.6 0 1 0 7.2 0a3.6 3.6 0 1 0 -7.2 0M514.66 177.46a3.6 3.6 0 1 0 7.2 0a3.6 3.6 0 1 0 -7.2 0M522.8 169.31a3.6 3.6 0 1 0 7.2 0a3.6 3.6 0 1 0 -7.2 0M522.8 177.46a3.6 3.6 0 1 0 7.2 0a3.6 3.6 0 1 0 -7.2 0M539.1 169.31a3.6 3.6 0 1 0 7.2 0a3.6 3.6 0 1 0 -7.2 0M539.1 177.46a3.6 3.6 0 1 0 7.2 0a3.6 3.6 0 1 0 -7.2 0M547.25 169.31a3.6 3.6 0 1 0 7.2 0a3.6 3.6 0 1 0 -7.2 0M547.25 177.46a3.6 3.6 0 1 0 7.2 0a3.6 3.6 0 1 0 -7.2 0M555.4 169.31a3.6 3.6 0 1 0 7.2 0a3.6 3.6 0 1 0 -7.2 0M555.4 177.46a3.6 3.6 0 1 0 7.2 0a3.6 3.6 0 1 0 -7.2 0M563.54 169.31a3.6 3.6 0 1 0 7.2 0a3.6 3.6 0 1 0 -7.2 0M563.54 177.46a3.6 3.6 0 1 0 7.2 0a3.6 3.6 0 1 0 -7.2 0M571.69 169.31a3.6 3.6 0 1 0 7.2 0a3.6 3.6 0 1 0 -7.2 0M571.69 177.46a3.6 3.6 0 1 0 7.2 0a3.6 3.6 0 1 0 -7.2 0M587.99 169.31a3.6 3.6 0 1 0 7.2 0a3.6 3.6 0 1 0 -7.2 0M587.99 177.46a3.6 3.6 0 1 0 7.2 0a3.6 3.6 0 1 0 -7.2 0M596.14 169.31a3.6 3.6 0 1 0 7.2 0a3.6 3.6 0 1 0 -7.2 0M596.14 177.46a3.6 3.6 0 1 0 7.2 0a3.6 3.6 0 1 0 -7.2 0M604.28 169.31a3.6 3.6 0 1 0 7.2 0a3.6 3.6 0 1 0 -7.2 0M604.28 177.46a3.6 3.6 0 1 0 7.2 0a3.6 3.6 0 1 0 -7.2 0M612.43 169.31a3.6 3.6 0 1 0 7.2 0a3.6 3.6 0 1 0 -7.2 0M612.43 177.46a3.6 3.6 0 1 0 7.2 0a3.6 3.6 0 1 0 -7.2 0M620.58 169.31a3.6 3.6 0 1 0 7.2 0a3.6 3.6 0 1 0 -7.2 0M620.58 177.46a3.6 3.6 0 1 0 7.2 0a3.6 3.6 0 1 0 -7.2 0M310.96 112.28a3.6 3.6 0 1 0 7.2 0a3.6 3.6 0 1 0 -7.2 0M310.96 120.43a3.6 3.6 0 1 0 7.2 0a3.6 3.6 0 1 0 -7.2 0M310.96 128.57a3.6 3.6 0 1 0 7.2 0a3.6 3.6 0 1 0 -7.2 0M310.96 136.72a3.6 3.6 0 1 0 7.2 0a3.6 3.6 0 1 0 -7.2 0M310.96 144.87a3.6 3.6 0 1 0 7.2 0a3.6 3.6 0 1 0 -7.2 0M319.1 112.28a3.6 3.6 0 1 0 7.2 0a3.6 3.6 0 1 0 -7.2 0M319.1 120.43a3.6 3.6 0 1 0 7.2 0a3.6 3.6 0 1 0 -7.2 0M319.1 128.57a3.6 3.6 0 1 0 7.2 0a3.6 3.6 0 1 0 -7.2 0M319.1 136.72a3.6 3.6 0 1 0 7.2 0a3.6 3.6 0 1 0 -7.2 0M319.1 144.87a3.6 3.6 0 1 0 7.2 0a3.6 3.6 0 1 0 -7.2 0M351.7 112.28a3.6 3.6 0 1 0 7.2 0a3.6 3.6 0 1 0 -7.2 0M351.7 120.43a3.6 3.6 0 1 0 7.2 0a3.6 3.6 0 1 0 -7.2 0M351.7 128.57a3.6 3.6 0 1 0 7.2 0a3.6 3.6 0 1 0 -7.2 0M351.7 136.72a3.6 3.6 0 1 0 7.2 0a3.6 3.6 0 1 0 -7.2 0M351.7 144.87a3.6 3.6 0 1 0 7.2 0a3.6 3.6 0 1 0 -7.2 0M465.77 55.24a3.6 3.6 0 1 0 7.2 0a3.6 3.6 0 1 0 -7.2 0M465.77 63.39a3.6 3.6 0 1 0 7.2 0a3.6 3.6 0 1 0 -7.2 0M465.77 71.54a3.6 3.6 0 1 0 7.2 0a3.6 3.6 0 1 0 -7.2 0M465.77 79.69a3.6 3.6 0 1 0 7.2 0a3.6 3.6 0 1 0 -7.2 0M465.77 87.83a3.6 3.6 0 1 0 7.2 0a3.6 3.6 0 1 0 -7.2 0M465.77 112.28a3.6 3.6 0 1 0 7.2 0a3.6 3.6 0 1 0 -7.2 0M465.77 120.43a3.6 3.6 0 1 0 7.2 0a3.6 3.6 0 1 0 -7.2 0M465.77 128.57a3.6 3.6 0 1 0 7.2 0a3.6 3.6 0 1 0 -7.2 0M465.77 136.72a3.6 3.6 0 1 0 7.2 0a3.6 3.6 0 1 0 -7.2 0M465.77 144.87a3.6 3.6 0 1 0 7.2 0a3.6 3.6 0 1 0 -7.2 0M482.06 55.24a3.6 3.6 0 1 0 7.2 0a3.6 3.6 0 1 0 -7.2 0M482.06 63.39a3.6 3.6 0 1 0 7.2 0a3.6 3.6 0 1 0 -7.2 0M482.06 71.54a3.6 3.6 0 1 0 7.2 0a3.6 3.6 0 1 0 -7.2 0M482.06 79.69a3.6 3.6 0 1 0 7.2 0a3.6 3.6 0 1 0 -7.2 0M482.06 87.83a3.6 3.6 0 1 0 7.2 0a3.6 3.6 0 1 0 -7.2 0M482.06 112.28a3.6 3.6 0 1 0 7.2 0a3.6 3.6 0 1 0 -7.2 0M482.06 120.43a3.6 3.6 0 1 0 7.2 0a3.6 3.6 0 1 0 -7.2 0M482.06 128.57a3.6 3.6 0 1 0 7.2 0a3.6 3.6 0 1 0 -7.2 0M482.06 136.72a3.6 3.6 0 1 0 7.2 0a3.6 3.6 0 1 0 -7.2 0M482.06 144.87a3.6 3.6 0 1 0 7.2 0a3.6 3.6 0 1 0 -7.2 0M514.66 112.28a3.6 3.6 0 1 0 7.2 0a3.6 3.6 0 1 0 -7.2 0M514.66 120.43a3.6 3.6 0 1 0 7.2 0a3.6 3.6 0 1 0 -7.2 0M514.66 128.57a3.6 3.6 0 1 0 7.2 0a3.6 3.6 0 1 0 -7.2 0M514.66 136.72a3.6 3.6 0 1 0 7.2 0a3.6 3.6 0 1 0 -7.2 0M514.66 144.87a3.6 3.6 0 1 0 7.2 0a3.6 3.6 0 1 0 -7.2 0" fill="#d3ead1"/><path d="M149.2 169.31a2.4 2.4 0 1 0 4.8 0a2.4 2.4 0 1 0 -4.8 0M149.2 177.46a2.4 2.4 0 1 0 4.8 0a2.4 2.4 0 1 0 -4.8 0M157.34 169.31a2.4 2.4 0 1 0 4.8 0a2.4 2.4 0 1 0 -4.8 0M157.34 177.46a2.4 2.4 0 1 0 4.8 0a2.4 2.4 0 1 0 -4.8 0M165.49 169.31a2.4 2.4 0 1 0 4.8 0a2.4 2.4 0 1 0 -4.8 0M165.49 177.46a2.4 2.4 0 1 0 4.8 0a2.4 2.4 0 1 0 -4.8 0M173.64 169.31a2.4 2.4 0 1 0 4.8 0a2.4 2.4 0 1 0 -4.8 0M173.64 177.46a2.4 2.4 0 1 0 4.8 0a2.4 2.4 0 1 0 -4.8 0M181.79 169.31a2.4 2.4 0 1 0 4.8 0a2.4 2.4 0 1 0 -4.8 0M181.79 177.46a2.4 2.4 0 1 0 4.8 0a2.4 2.4 0 1 0 -4.8 0M198.08 169.31a2.4 2.4 0 1 0 4.8 0a2.4 2.4 0 1 0 -4.8 0M198.08 177.46a2.4 2.4 0 1 0 4.8 0a2.4 2.4 0 1 0 -4.8 0M206.23 169.31a2.4 2.4 0 1 0 4.8 0a2.4 2.4 0 1 0 -4.8 0M206.23 177.46a2.4 2.4 0 1 0 4.8 0a2.4 2.4 0 1 0 -4.8 0M214.38 169.31a2.4 2.4 0 1 0 4.8 0a2.4 2.4 0 1 0 -4.8 0M214.38 177.46a2.4 2.4 0 1 0 4.8 0a2.4 2.4 0 1 0 -4.8 0M222.53 169.31a2.4 2.4 0 1 0 4.8 0a2.4 2.4 0 1 0 -4.8 0M222.53 177.46a2.4 2.4 0 1 0 4.8 0a2.4 2.4 0 1 0 -4.8 0M230.68 169.31a2.4 2.4 0 1 0 4.8 0a2.4 2.4 0 1 0 -4.8 0M230.68 177.46a2.4 2.4 0 1 0 4.8 0a2.4 2.4 0 1 0 -4.8 0M246.97 169.31a2.4 2.4 0 1 0 4.8 0a2.4 2.4 0 1 0 -4.8 0M246.97 177.46a2.4 2.4 0 1 0 4.8 0a2.4 2.4 0 1 0 -4.8 0M255.12 169.31a2.4 2.4 0 1 0 4.8 0a2.4 2.4 0 1 0 -4.8 0M255.12 177.46a2.4 2.4 0 1 0 4.8 0a2.4 2.4 0 1 0 -4.8 0M263.27 169.31a2.4 2.4 0 1 0 4.8 0a2.4 2.4 0 1 0 -4.8 0M263.27 177.46a2.4 2.4 0 1 0 4.8 0a2.4 2.4 0 1 0 -4.8 0M271.42 169.31a2.4 2.4 0 1 0 4.8 0a2.4 2.4 0 1 0 -4.8 0M271.42 177.46a2.4 2.4 0 1 0 4.8 0a2.4 2.4 0 1 0 -4.8 0M279.56 169.31a2.4 2.4 0 1 0 4.8 0a2.4 2.4 0 1 0 -4.8 0M279.56 177.46a2.4 2.4 0 1 0 4.8 0a2.4 2.4 0 1 0 -4.8 0M295.86 169.31a2.4 2.4 0 1 0 4.8 0a2.4 2.4 0 1 0 -4.8 0M295.86 177.46a2.4 2.4 0 1 0 4.8 0a2.4 2.4 0 1 0 -4.8 0M304.01 169.31a2.4 2.4 0 1 0 4.8 0a2.4 2.4 0 1 0 -4.8 0M304.01 177.46a2.4 2.4 0 1 0 4.8 0a2.4 2.4 0 1 0 -4.8 0M312.16 169.31a2.4 2.4 0 1 0 4.8 0a2.4 2.4 0 1 0 -4.8 0M312.16 177.46a2.4 2.4 0 1 0 4.8 0a2.4 2.4 0 1 0 -4.8 0M320.3 169.31a2.4 2.4 0 1 0 4.8 0a2.4 2.4 0 1 0 -4.8 0M320.3 177.46a2.4 2.4 0 1 0 4.8 0a2.4 2.4 0 1 0 -4.8 0M328.45 169.31a2.4 2.4 0 1 0 4.8 0a2.4 2.4 0 1 0 -4.8 0M328.45 177.46a2.4 2.4 0 1 0 4.8 0a2.4 2.4 0 1 0 -4.8 0M344.75 169.31a2.4 2.4 0 1 0 4.8 0a2.4 2.4 0 1 0 -4.8 0M344.75 177.46a2.4 2.4 0 1 0 4.8 0a2.4 2.4 0 1 0 -4.8 0M352.9 169.31a2.4 2.4 0 1 0 4.8 0a2.4 2.4 0 1 0 -4.8 0M352.9 177.46a2.4 2.4 0 1 0 4.8 0a2.4 2.4 0 1 0 -4.8 0M361.04 169.31a2.4 2.4 0 1 0 4.8 0a2.4 2.4 0 1 0 -4.8 0M361.04 177.46a2.4 2.4 0 1 0 4.8 0a2.4 2.4 0 1 0 -4.8 0M369.19 169.31a2.4 2.4 0 1 0 4.8 0a2.4 2.4 0 1 0 -4.8 0M369.19 177.46a2.4 2.4 0 1 0 4.8 0a2.4 2.4 0 1 0 -4.8 0M377.34 169.31a2.4 2.4 0 1 0 4.8 0a2.4 2.4 0 1 0 -4.8 0M377.34 177.46a2.4 2.4 0 1 0 4.8 0a2.4 2.4 0 1 0 -4.8 0M393.64 169.31a2.4 2.4 0 1 0 4.8 0a2.4 2.4 0 1 0 -4.8 0M393.64 177.46a2.4 2.4 0 1 0 4.8 0a2.4 2.4 0 1 0 -4.8 0M401.78 169.31a2.4 2.4 0 1 0 4.8 0a2.4 2.4 0 1 0 -4.8 0M401.78 177.46a2.4 2.4 0 1 0 4.8 0a2.4 2.4 0 1 0 -4.8 0M409.93 169.31a2.4 2.4 0 1 0 4.8 0a2.4 2.4 0 1 0 -4.8 0M409.93 177.46a2.4 2.4 0 1 0 4.8 0a2.4 2.4 0 1 0 -4.8 0M418.08 169.31a2.4 2.4 0 1 0 4.8 0a2.4 2.4 0 1 0 -4.8 0M418.08 177.46a2.4 2.4 0 1 0 4.8 0a2.4 2.4 0 1 0 -4.8 0M426.23 169.31a2.4 2.4 0 1 0 4.8 0a2.4 2.4 0 1 0 -4.8 0M426.23 177.46a2.4 2.4 0 1 0 4.8 0a2.4 2.4 0 1 0 -4.8 0M442.52 169.31a2.4 2.4 0 1 0 4.8 0a2.4 2.4 0 1 0 -4.8 0M442.52 177.46a2.4 2.4 0 1 0 4.8 0a2.4 2.4 0 1 0 -4.8 0M450.67 169.31a2.4 2.4 0 1 0 4.8 0a2.4 2.4 0 1 0 -4.8 0M450.67 177.46a2.4 2.4 0 1 0 4.8 0a2.4 2.4 0 1 0 -4.8 0M458.82 169.31a2.4 2.4 0 1 0 4.8 0a2.4 2.4 0 1 0 -4.8 0M458.82 177.46a2.4 2.4 0 1 0 4.8 0a2.4 2.4 0 1 0 -4.8 0M466.97 169.31a2.4 2.4 0 1 0 4.8 0a2.4 2.4 0 1 0 -4.8 0M466.97 177.46a2.4 2.4 0 1 0 4.8 0a2.4 2.4 0 1 0 -4.8 0M475.12 169.31a2.4 2.4 0 1 0 4.8 0a2.4 2.4 0 1 0 -4.8 0M475.12 177.46a2.4 2.4 0 1 0 4.8 0a2.4 2.4 0 1 0 -4.8 0M491.41 169.31a2.4 2.4 0 1 0 4.8 0a2.4 2.4 0 1 0 -4.8 0M491.41 177.46a2.4 2.4 0 1 0 4.8 0a2.4 2.4 0 1 0 -4.8 0M499.56 169.31a2.4 2.4 0 1 0 4.8 0a2.4 2.4 0 1 0 -4.8 0M499.56 177.46a2.4 2.4 0 1 0 4.8 0a2.4 2.4 0 1 0 -4.8 0M507.71 169.31a2.4 2.4 0 1 0 4.8 0a2.4 2.4 0 1 0 -4.8 0M507.71 177.46a2.4 2.4 0 1 0 4.8 0a2.4 2.4 0 1 0 -4.8 0M515.86 169.31a2.4 2.4 0 1 0 4.8 0a2.4 2.4 0 1 0 -4.8 0M515.86 177.46a2.4 2.4 0 1 0 4.8 0a2.4 2.4 0 1 0 -4.8 0M524 169.31a2.4 2.4 0 1 0 4.8 0a2.4 2.4 0 1 0 -4.8 0M524 177.46a2.4 2.4 0 1 0 4.8 0a2.4 2.4 0 1 0 -4.8 0M540.3 169.31a2.4 2.4 0 1 0 4.8 0a2.4 2.4 0 1 0 -4.8 0M540.3 177.46a2.4 2.4 0 1 0 4.8 0a2.4 2.4 0 1 0 -4.8 0M548.45 169.31a2.4 2.4 0 1 0 4.8 0a2.4 2.4 0 1 0 -4.8 0M548.45 177.46a2.4 2.4 0 1 0 4.8 0a2.4 2.4 0 1 0 -4.8 0M556.6 169.31a2.4 2.4 0 1 0 4.8 0a2.4 2.4 0 1 0 -4.8 0M556.6 177.46a2.4 2.4 0 1 0 4.8 0a2.4 2.4 0 1 0 -4.8 0M564.74 169.31a2.4 2.4 0 1 0 4.8 0a2.4 2.4 0 1 0 -4.8 0M564.74 177.46a2.4 2.4 0 1 0 4.8 0a2.4 2.4 0 1 0 -4.8 0M572.89 169.31a2.4 2.4 0 1 0 4.8 0a2.4 2.4 0 1 0 -4.8 0M572.89 177.46a2.4 2.4 0 1 0 4.8 0a2.4 2.4 0 1 0 -4.8 0M589.19 169.31a2.4 2.4 0 1 0 4.8 0a2.4 2.4 0 1 0 -4.8 0M589.19 177.46a2.4 2.4 0 1 0 4.8 0a2.4 2.4 0 1 0 -4.8 0M597.34 169.31a2.4 2.4 0 1 0 4.8 0a2.4 2.4 0 1 0 -4.8 0M597.34 177.46a2.4 2.4 0 1 0 4.8 0a2.4 2.4 0 1 0 -4.8 0M605.48 169.31a2.4 2.4 0 1 0 4.8 0a2.4 2.4 0 1 0 -4.8 0M605.48 177.46a2.4 2.4 0 1 0 4.8 0a2.4 2.4 0 1 0 -4.8 0M613.63 169.31a2.4 2.4 0 1 0 4.8 0a2.4 2.4 0 1 0 -4.8 0M613.63 177.46a2.4 2.4 0 1 0 4.8 0a2.4 2.4 0 1 0 -4.8 0M621.78 169.31a2.4 2.4 0 1 0 4.8 0a2.4 2.4 0 1 0 -4.8 0M621.78 177.46a2.4 2.4 0 1 0 4.8 0a2.4 2.4 0 1 0 -4.8 0M312.16 112.28a2.4 2.4 0 1 0 4.8 0a2.4 2.4 0 1 0 -4.8 0M312.16 120.43a2.4 2.4 0 1 0 4.8 0a2.4 2.4 0 1 0 -4.8 0M312.16 128.57a2.4 2.4 0 1 0 4.8 0a2.4 2.4 0 1 0 -4.8 0M312.16 136.72a2.4 2.4 0 1 0 4.8 0a2.4 2.4 0 1 0 -4.8 0M312.16 144.87a2.4 2.4 0 1 0 4.8 0a2.4 2.4 0 1 0 -4.8 0M320.3 112.28a2.4 2.4 0 1 0 4.8 0a2.4 2.4 0 1 0 -4.8 0M320.3 120.43a2.4 2.4 0 1 0 4.8 0a2.4 2.4 0 1 0 -4.8 0M320.3 128.57a2.4 2.4 0 1 0 4.8 0a2.4 2.4 0 1 0 -4.8 0M320.3 136.72a2.4 2.4 0 1 0 4.8 0a2.4 2.4 0 1 0 -4.8 0M320.3 144.87a2.4 2.4 0 1 0 4.8 0a2.4 2.4 0 1 0 -4.8 0M352.9 112.28a2.4 2.4 0 1 0 4.8 0a2.4 2.4 0 1 0 -4.8 0M352.9 120.43a2.4 2.4 0 1 0 4.8 0a2.4 2.4 0 1 0 -4.8 0M352.9 128.57a2.4 2.4 0 1 0 4.8 0a2.4 2.4 0 1 0 -4.8 0M352.9 136.72a2.4 2.4 0 1 0 4.8 0a2.4 2.4 0 1 0 -4.8 0M352.9 144.87a2.4 2.4 0 1 0 4.8 0a2.4 2.4 0 1 0 -4.8 0M466.97 55.24a2.4 2.4 0 1 0 4.8 0a2.4 2.4 0 1 0 -4.8 0M466.97 63.39a2.4 2.4 0 1 0 4.8 0a2.4 2.4 0 1 0 -4.8 0M466.97 71.54a2.4 2.4 0 1 0 4.8 0a2.4 2.4 0 1 0 -4.8 0M466.97 79.69a2.4 2.4 0 1 0 4.8 0a2.4 2.4 0 1 0 -4.8 0M466.97 87.83a2.4 2.4 0 1 0 4.8 0a2.4 2.4 0 1 0 -4.8 0M466.97 112.28a2.4 2.4 0 1 0 4.8 0a2.4 2.4 0 1 0 -4.8 0M466.97 120.43a2.4 2.4 0 1 0 4.8 0a2.4 2.4 0 1 0 -4.8 0M466.97 128.57a2.4 2.4 0 1 0 4.8 0a2.4 2.4 0 1 0 -4.8 0M466.97 136.72a2.4 2.4 0 1 0 4.8 0a2.4 2.4 0 1 0 -4.8 0M466.97 144.87a2.4 2.4 0 1 0 4.8 0a2.4 2.4 0 1 0 -4.8 0M483.26 55.24a2.4 2.4 0 1 0 4.8 0a2.4 2.4 0 1 0 -4.8 0M483.26 63.39a2.4 2.4 0 1 0 4.8 0a2.4 2.4 0 1 0 -4.8 0M483.26 71.54a2.4 2.4 0 1 0 4.8 0a2.4 2.4 0 1 0 -4.8 0M483.26 79.69a2.4 2.4 0 1 0 4.8 0a2.4 2.4 0 1 0 -4.8 0M483.26 87.83a2.4 2.4 0 1 0 4.8 0a2.4 2.4 0 1 0 -4.8 0M483.26 112.28a2.4 2.4 0 1 0 4.8 0a2.4 2.4 0 1 0 -4.8 0M483.26 120.43a2.4 2.4 0 1 0 4.8 0a2.4 2.4 0 1 0 -4.8 0M483.26 128.57a2.4 2.4 0 1 0 4.8 0a2.4 2.4 0 1 0 -4.8 0M483.26 136.72a2.4 2.4 0 1 0 4.8 0a2.4 2.4 0 1 0 -4.8 0M483.26 144.87a2.4 2.4 0 1 0 4.8 0a2.4 2.4 0 1 0 -4.8 0M515.86 112.28a2.4 2.4 0 1 0 4.8 0a2.4 2.4 0 1 0 -4.8 0M515.86 120.43a2.4 2.4 0 1 0 4.8 0a2.4 2.4 0 1 0 -4.8 0M515.86 128.57a2.4 2.4 0 1 0 4.8 0a2.4 2.4 0 1 0 -4.8 0M515.86 136.72a2.4 2.4 0 1 0 4.8 0a2.4 2.4 0 1 0 -4.8 0M515.86 144.87a2.4 2.4 0 1 0 4.8 0a2.4 2.4 0 1 0 -4.8 0" fill="#bde0b9"/><path d="M150.15 22.65a1.45 1.45 0 1 0 2.9 0a1.45 1.45 0 1 0 -2.9 0M150.15 30.8a1.45 1.45 0 1 0 2.9 0a1.45 1.45 0 1 0 -2.9 0M158.29 22.65a1.45 1.45 0 1 0 2.9 0a1.45 1.45 0 1 0 -2.9 0M158.29 30.8a1.45 1.45 0 1 0 2.9 0a1.45 1.45 0 1 0 -2.9 0M166.44 22.65a1.45 1.45 0 1 0 2.9 0a1.45 1.45 0 1 0 -2.9 0M166.44 30.8a1.45 1.45 0 1 0 2.9 0a1.45 1.45 0 1 0 -2.9 0M174.59 22.65a1.45 1.45 0 1 0 2.9 0a1.45 1.45 0 1 0 -2.9 0M174.59 30.8a1.45 1.45 0 1 0 2.9 0a1.45 1.45 0 1 0 -2.9 0M182.74 22.65a1.45 1.45 0 1 0 2.9 0a1.45 1.45 0 1 0 -2.9 0M182.74 30.8a1.45 1.45 0 1 0 2.9 0a1.45 1.45 0 1 0 -2.9 0M199.03 22.65a1.45 1.45 0 1 0 2.9 0a1.45 1.45 0 1 0 -2.9 0M199.03 30.8a1.45 1.45 0 1 0 2.9 0a1.45 1.45 0 1 0 -2.9 0M207.18 22.65a1.45 1.45 0 1 0 2.9 0a1.45 1.45 0 1 0 -2.9 0M207.18 30.8a1.45 1.45 0 1 0 2.9 0a1.45 1.45 0 1 0 -2.9 0M215.33 22.65a1.45 1.45 0 1 0 2.9 0a1.45 1.45 0 1 0 -2.9 0M215.33 30.8a1.45 1.45 0 1 0 2.9 0a1.45 1.45 0 1 0 -2.9 0M223.48 22.65a1.45 1.45 0 1 0 2.9 0a1.45 1.45 0 1 0 -2.9 0M223.48 30.8a1.45 1.45 0 1 0 2.9 0a1.45 1.45 0 1 0 -2.9 0M231.63 22.65a1.45 1.45 0 1 0 2.9 0a1.45 1.45 0 1 0 -2.9 0M231.63 30.8a1.45 1.45 0 1 0 2.9 0a1.45 1.45 0 1 0 -2.9 0M247.92 22.65a1.45 1.45 0 1 0 2.9 0a1.45 1.45 0 1 0 -2.9 0M247.92 30.8a1.45 1.45 0 1 0 2.9 0a1.45 1.45 0 1 0 -2.9 0M256.07 22.65a1.45 1.45 0 1 0 2.9 0a1.45 1.45 0 1 0 -2.9 0M256.07 30.8a1.45 1.45 0 1 0 2.9 0a1.45 1.45 0 1 0 -2.9 0M264.22 22.65a1.45 1.45 0 1 0 2.9 0a1.45 1.45 0 1 0 -2.9 0M264.22 30.8a1.45 1.45 0 1 0 2.9 0a1.45 1.45 0 1 0 -2.9 0M272.37 22.65a1.45 1.45 0 1 0 2.9 0a1.45 1.45 0 1 0 -2.9 0M272.37 30.8a1.45 1.45 0 1 0 2.9 0a1.45 1.45 0 1 0 -2.9 0M280.51 22.65a1.45 1.45 0 1 0 2.9 0a1.45 1.45 0 1 0 -2.9 0M280.51 30.8a1.45 1.45 0 1 0 2.9 0a1.45 1.45 0 1 0 -2.9 0M296.81 22.65a1.45 1.45 0 1 0 2.9 0a1.45 1.45 0 1 0 -2.9 0M296.81 30.8a1.45 1.45 0 1 0 2.9 0a1.45 1.45 0 1 0 -2.9 0M304.96 22.65a1.45 1.45 0 1 0 2.9 0a1.45 1.45 0 1 0 -2.9 0M304.96 30.8a1.45 1.45 0 1 0 2.9 0a1.45 1.45 0 1 0 -2.9 0M313.11 22.65a1.45 1.45 0 1 0 2.9 0a1.45 1.45 0 1 0 -2.9 0M313.11 30.8a1.45 1.45 0 1 0 2.9 0a1.45 1.45 0 1 0 -2.9 0M321.25 22.65a1.45 1.45 0 1 0 2.9 0a1.45 1.45 0 1 0 -2.9 0M321.25 30.8a1.45 1.45 0 1 0 2.9 0a1.45 1.45 0 1 0 -2.9 0M329.4 22.65a1.45 1.45 0 1 0 2.9 0a1.45 1.45 0 1 0 -2.9 0M329.4 30.8a1.45 1.45 0 1 0 2.9 0a1.45 1.45 0 1 0 -2.9 0M345.7 22.65a1.45 1.45 0 1 0 2.9 0a1.45 1.45 0 1 0 -2.9 0M345.7 30.8a1.45 1.45 0 1 0 2.9 0a1.45 1.45 0 1 0 -2.9 0M353.85 22.65a1.45 1.45 0 1 0 2.9 0a1.45 1.45 0 1 0 -2.9 0M353.85 30.8a1.45 1.45 0 1 0 2.9 0a1.45 1.45 0 1 0 -2.9 0M361.99 22.65a1.45 1.45 0 1 0 2.9 0a1.45 1.45 0 1 0 -2.9 0M361.99 30.8a1.45 1.45 0 1 0 2.9 0a1.45 1.45 0 1 0 -2.9 0M370.14 22.65a1.45 1.45 0 1 0 2.9 0a1.45 1.45 0 1 0 -2.9 0M370.14 30.8a1.45 1.45 0 1 0 2.9 0a1.45 1.45 0 1 0 -2.9 0M378.29 22.65a1.45 1.45 0 1 0 2.9 0a1.45 1.45 0 1 0 -2.9 0M378.29 30.8a1.45 1.45 0 1 0 2.9 0a1.45 1.45 0 1 0 -2.9 0M394.59 22.65a1.45 1.45 0 1 0 2.9 0a1.45 1.45 0 1 0 -2.9 0M394.59 30.8a1.45 1.45 0 1 0 2.9 0a1.45 1.45 0 1 0 -2.9 0M402.73 22.65a1.45 1.45 0 1 0 2.9 0a1.45 1.45 0 1 0 -2.9 0M402.73 30.8a1.45 1.45 0 1 0 2.9 0a1.45 1.45 0 1 0 -2.9 0M410.88 22.65a1.45 1.45 0 1 0 2.9 0a1.45 1.45 0 1 0 -2.9 0M410.88 30.8a1.45 1.45 0 1 0 2.9 0a1.45 1.45 0 1 0 -2.9 0M419.03 22.65a1.45 1.45 0 1 0 2.9 0a1.45 1.45 0 1 0 -2.9 0M419.03 30.8a1.45 1.45 0 1 0 2.9 0a1.45 1.45 0 1 0 -2.9 0M427.18 22.65a1.45 1.45 0 1 0 2.9 0a1.45 1.45 0 1 0 -2.9 0M427.18 30.8a1.45 1.45 0 1 0 2.9 0a1.45 1.45 0 1 0 -2.9 0M443.47 22.65a1.45 1.45 0 1 0 2.9 0a1.45 1.45 0 1 0 -2.9 0M443.47 30.8a1.45 1.45 0 1 0 2.9 0a1.45 1.45 0 1 0 -2.9 0M451.62 22.65a1.45 1.45 0 1 0 2.9 0a1.45 1.45 0 1 0 -2.9 0M451.62 30.8a1.45 1.45 0 1 0 2.9 0a1.45 1.45 0 1 0 -2.9 0M459.77 22.65a1.45 1.45 0 1 0 2.9 0a1.45 1.45 0 1 0 -2.9 0M459.77 30.8a1.45 1.45 0 1 0 2.9 0a1.45 1.45 0 1 0 -2.9 0M467.92 22.65a1.45 1.45 0 1 0 2.9 0a1.45 1.45 0 1 0 -2.9 0M467.92 30.8a1.45 1.45 0 1 0 2.9 0a1.45 1.45 0 1 0 -2.9 0M476.07 22.65a1.45 1.45 0 1 0 2.9 0a1.45 1.45 0 1 0 -2.9 0M476.07 30.8a1.45 1.45 0 1 0 2.9 0a1.45 1.45 0 1 0 -2.9 0M492.36 22.65a1.45 1.45 0 1 0 2.9 0a1.45 1.45 0 1 0 -2.9 0M492.36 30.8a1.45 1.45 0 1 0 2.9 0a1.45 1.45 0 1 0 -2.9 0M500.51 22.65a1.45 1.45 0 1 0 2.9 0a1.45 1.45 0 1 0 -2.9 0M500.51 30.8a1.45 1.45 0 1 0 2.9 0a1.45 1.45 0 1 0 -2.9 0M508.66 22.65a1.45 1.45 0 1 0 2.9 0a1.45 1.45 0 1 0 -2.9 0M508.66 30.8a1.45 1.45 0 1 0 2.9 0a1.45 1.45 0 1 0 -2.9 0M516.81 22.65a1.45 1.45 0 1 0 2.9 0a1.45 1.45 0 1 0 -2.9 0M516.81 30.8a1.45 1.45 0 1 0 2.9 0a1.45 1.45 0 1 0 -2.9 0M524.95 22.65a1.45 1.45 0 1 0 2.9 0a1.45 1.45 0 1 0 -2.9 0M524.95 30.8a1.45 1.45 0 1 0 2.9 0a1.45 1.45 0 1 0 -2.9 0M541.25 22.65a1.45 1.45 0 1 0 2.9 0a1.45 1.45 0 1 0 -2.9 0M541.25 30.8a1.45 1.45 0 1 0 2.9 0a1.45 1.45 0 1 0 -2.9 0M549.4 22.65a1.45 1.45 0 1 0 2.9 0a1.45 1.45 0 1 0 -2.9 0M549.4 30.8a1.45 1.45 0 1 0 2.9 0a1.45 1.45 0 1 0 -2.9 0M557.55 22.65a1.45 1.45 0 1 0 2.9 0a1.45 1.45 0 1 0 -2.9 0M557.55 30.8a1.45 1.45 0 1 0 2.9 0a1.45 1.45 0 1 0 -2.9 0M565.69 22.65a1.45 1.45 0 1 0 2.9 0a1.45 1.45 0 1 0 -2.9 0M565.69 30.8a1.45 1.45 0 1 0 2.9 0a1.45 1.45 0 1 0 -2.9 0M573.84 22.65a1.45 1.45 0 1 0 2.9 0a1.45 1.45 0 1 0 -2.9 0M573.84 30.8a1.45 1.45 0 1 0 2.9 0a1.45 1.45 0 1 0 -2.9 0M590.14 22.65a1.45 1.45 0 1 0 2.9 0a1.45 1.45 0 1 0 -2.9 0M590.14 30.8a1.45 1.45 0 1 0 2.9 0a1.45 1.45 0 1 0 -2.9 0M598.29 22.65a1.45 1.45 0 1 0 2.9 0a1.45 1.45 0 1 0 -2.9 0M598.29 30.8a1.45 1.45 0 1 0 2.9 0a1.45 1.45 0 1 0 -2.9 0M606.43 22.65a1.45 1.45 0 1 0 2.9 0a1.45 1.45 0 1 0 -2.9 0M606.43 30.8a1.45 1.45 0 1 0 2.9 0a1.45 1.45 0 1 0 -2.9 0M614.58 22.65a1.45 1.45 0 1 0 2.9 0a1.45 1.45 0 1 0 -2.9 0M614.58 30.8a1.45 1.45 0 1 0 2.9 0a1.45 1.45 0 1 0 -2.9 0M622.73 22.65a1.45 1.45 0 1 0 2.9 0a1.45 1.45 0 1 0 -2.9 0M622.73 30.8a1.45 1.45 0 1 0 2.9 0a1.45 1.45 0 1 0 -2.9 0M133.85 55.24a1.45 1.45 0 1 0 2.9 0a1.45 1.45 0 1 0 -2.9 0M133.85 63.39a1.45 1.45 0 1 0 2.9 0a1.45 1.45 0 1 0 -2.9 0M133.85 71.54a1.45 1.45 0 1 0 2.9 0a1.45 1.45 0 1 0 -2.9 0M133.85 79.69a1.45 1.45 0 1 0 2.9 0a1.45 1.45 0 1 0 -2.9 0M133.85 87.83a1.45 1.45 0 1 0 2.9 0a1.45 1.45 0 1 0 -2.9 0M133.85 112.28a1.45 1.45 0 1 0 2.9 0a1.45 1.45 0 1 0 -2.9 0M133.85 120.43a1.45 1.45 0 1 0 2.9 0a1.45 1.45 0 1 0 -2.9 0M133.85 128.57a1.45 1.45 0 1 0 2.9 0a1.45 1.45 0 1 0 -2.9 0M133.85 136.72a1.45 1.45 0 1 0 2.9 0a1.45 1.45 0 1 0 -2.9 0M133.85 144.87a1.45 1.45 0 1 0 2.9 0a1.45 1.45 0 1 0 -2.9 0M142 55.24a1.45 1.45 0 1 0 2.9 0a1.45 1.45 0 1 0 -2.9 0M142 63.39a1.45 1.45 0 1 0 2.9 0a1.45 1.45 0 1 0 -2.9 0M142 71.54a1.45 1.45 0 1 0 2.9 0a1.45 1.45 0 1 0 -2.9 0M142 79.69a1.45 1.45 0 1 0 2.9 0a1.45 1.45 0 1 0 -2.9 0M142 87.83a1.45 1.45 0 1 0 2.9 0a1.45 1.45 0 1 0 -2.9 0M142 112.28a1.45 1.45 0 1 0 2.9 0a1.45 1.45 0 1 0 -2.9 0M142 120.43a1.45 1.45 0 1 0 2.9 0a1.45 1.45 0 1 0 -2.9 0M142 128.57a1.45 1.45 0 1 0 2.9 0a1.45 1.45 0 1 0 -2.9 0M142 136.72a1.45 1.45 0 1 0 2.9 0a1.45 1.45 0 1 0 -2.9 0M142 144.87a1.45 1.45 0 1 0 2.9 0a1.45 1.45 0 1 0 -2.9 0M150.15 55.24a1.45 1.45 0 1 0 2.9 0a1.45 1.45 0 1 0 -2.9 0M150.15 63.39a1.45 1.45 0 1 0 2.9 0a1.45 1.45 0 1 0 -2.9 0M150.15 71.54a1.45 1.45 0 1 0 2.9 0a1.45 1.45 0 1 0 -2.9 0M150.15 79.69a1.45 1.45 0 1 0 2.9 0a1.45 1.45 0 1 0 -2.9 0M150.15 87.83a1.45 1.45 0 1 0 2.9 0a1.45 1.45 0 1 0 -2.9 0M150.15 112.28a1.45 1.45 0 1 0 2.9 0a1.45 1.45 0 1 0 -2.9 0M150.15 120.43a1.45 1.45 0 1 0 2.9 0a1.45 1.45 0 1 0 -2.9 0M150.15 128.57a1.45 1.45 0 1 0 2.9 0a1.45 1.45 0 1 0 -2.9 0M150.15 136.72a1.45 1.45 0 1 0 2.9 0a1.45 1.45 0 1 0 -2.9 0M150.15 144.87a1.45 1.45 0 1 0 2.9 0a1.45 1.45 0 1 0 -2.9 0M158.29 55.24a1.45 1.45 0 1 0 2.9 0a1.45 1.45 0 1 0 -2.9 0M158.29 63.39a1.45 1.45 0 1 0 2.9 0a1.45 1.45 0 1 0 -2.9 0M158.29 71.54a1.45 1.45 0 1 0 2.9 0a1.45 1.45 0 1 0 -2.9 0M158.29 79.69a1.45 1.45 0 1 0 2.9 0a1.45 1.45 0 1 0 -2.9 0M158.29 87.83a1.45 1.45 0 1 0 2.9 0a1.45 1.45 0 1 0 -2.9 0M158.29 112.28a1.45 1.45 0 1 0 2.9 0a1.45 1.45 0 1 0 -2.9 0M158.29 120.43a1.45 1.45 0 1 0 2.9 0a1.45 1.45 0 1 0 -2.9 0M158.29 128.57a1.45 1.45 0 1 0 2.9 0a1.45 1.45 0 1 0 -2.9 0M158.29 136.72a1.45 1.45 0 1 0 2.9 0a1.45 1.45 0 1 0 -2.9 0M158.29 144.87a1.45 1.45 0 1 0 2.9 0a1.45 1.45 0 1 0 -2.9 0M166.44 55.24a1.45 1.45 0 1 0 2.9 0a1.45 1.45 0 1 0 -2.9 0M166.44 63.39a1.45 1.45 0 1 0 2.9 0a1.45 1.45 0 1 0 -2.9 0M166.44 71.54a1.45 1.45 0 1 0 2.9 0a1.45 1.45 0 1 0 -2.9 0M166.44 79.69a1.45 1.45 0 1 0 2.9 0a1.45 1.45 0 1 0 -2.9 0M166.44 87.83a1.45 1.45 0 1 0 2.9 0a1.45 1.45 0 1 0 -2.9 0M166.44 112.28a1.45 1.45 0 1 0 2.9 0a1.45 1.45 0 1 0 -2.9 0M166.44 120.43a1.45 1.45 0 1 0 2.9 0a1.45 1.45 0 1 0 -2.9 0M166.44 128.57a1.45 1.45 0 1 0 2.9 0a1.45 1.45 0 1 0 -2.9 0M166.44 136.72a1.45 1.45 0 1 0 2.9 0a1.45 1.45 0 1 0 -2.9 0M166.44 144.87a1.45 1.45 0 1 0 2.9 0a1.45 1.45 0 1 0 -2.9 0M174.59 55.24a1.45 1.45 0 1 0 2.9 0a1.45 1.45 0 1 0 -2.9 0M174.59 63.39a1.45 1.45 0 1 0 2.9 0a1.45 1.45 0 1 0 -2.9 0M174.59 71.54a1.45 1.45 0 1 0 2.9 0a1.45 1.45 0 1 0 -2.9 0M174.59 79.69a1.45 1.45 0 1 0 2.9 0a1.45 1.45 0 1 0 -2.9 0M174.59 87.83a1.45 1.45 0 1 0 2.9 0a1.45 1.45 0 1 0 -2.9 0M174.59 112.28a1.45 1.45 0 1 0 2.9 0a1.45 1.45 0 1 0 -2.9 0M174.59 120.43a1.45 1.45 0 1 0 2.9 0a1.45 1.45 0 1 0 -2.9 0M174.59 128.57a1.45 1.45 0 1 0 2.9 0a1.45 1.45 0 1 0 -2.9 0M174.59 136.72a1.45 1.45 0 1 0 2.9 0a1.45 1.45 0 1 0 -2.9 0M174.59 144.87a1.45 1.45 0 1 0 2.9 0a1.45 1.45 0 1 0 -2.9 0M182.74 55.24a1.45 1.45 0 1 0 2.9 0a1.45 1.45 0 1 0 -2.9 0M182.74 63.39a1.45 1.45 0 1 0 2.9 0a1.45 1.45 0 1 0 -2.9 0M182.74 71.54a1.45 1.45 0 1 0 2.9 0a1.45 1.45 0 1 0 -2.9 0M182.74 79.69a1.45 1.45 0 1 0 2.9 0a1.45 1.45 0 1 0 -2.9 0M182.74 87.83a1.45 1.45 0 1 0 2.9 0a1.45 1.45 0 1 0 -2.9 0M182.74 112.28a1.45 1.45 0 1 0 2.9 0a1.45 1.45 0 1 0 -2.9 0M182.74 120.43a1.45 1.45 0 1 0 2.9 0a1.45 1.45 0 1 0 -2.9 0M182.74 128.57a1.45 1.45 0 1 0 2.9 0a1.45 1.45 0 1 0 -2.9 0M182.74 136.72a1.45 1.45 0 1 0 2.9 0a1.45 1.45 0 1 0 -2.9 0M182.74 144.87a1.45 1.45 0 1 0 2.9 0a1.45 1.45 0 1 0 -2.9 0M190.89 55.24a1.45 1.45 0 1 0 2.9 0a1.45 1.45 0 1 0 -2.9 0M190.89 63.39a1.45 1.45 0 1 0 2.9 0a1.45 1.45 0 1 0 -2.9 0M190.89 71.54a1.45 1.45 0 1 0 2.9 0a1.45 1.45 0 1 0 -2.9 0M190.89 79.69a1.45 1.45 0 1 0 2.9 0a1.45 1.45 0 1 0 -2.9 0M190.89 87.83a1.45 1.45 0 1 0 2.9 0a1.45 1.45 0 1 0 -2.9 0M190.89 112.28a1.45 1.45 0 1 0 2.9 0a1.45 1.45 0 1 0 -2.9 0M190.89 120.43a1.45 1.45 0 1 0 2.9 0a1.45 1.45 0 1 0 -2.9 0M190.89 128.57a1.45 1.45 0 1 0 2.9 0a1.45 1.45 0 1 0 -2.9 0M190.89 136.72a1.45 1.45 0 1 0 2.9 0a1.45 1.45 0 1 0 -2.9 0M190.89 144.87a1.45 1.45 0 1 0 2.9 0a1.45 1.45 0 1 0 -2.9 0M199.03 55.24a1.45 1.45 0 1 0 2.9 0a1.45 1.45 0 1 0 -2.9 0M199.03 63.39a1.45 1.45 0 1 0 2.9 0a1.45 1.45 0 1 0 -2.9 0M199.03 71.54a1.45 1.45 0 1 0 2.9 0a1.45 1.45 0 1 0 -2.9 0M199.03 79.69a1.45 1.45 0 1 0 2.9 0a1.45 1.45 0 1 0 -2.9 0M199.03 87.83a1.45 1.45 0 1 0 2.9 0a1.45 1.45 0 1 0 -2.9 0M199.03 112.28a1.45 1.45 0 1 0 2.9 0a1.45 1.45 0 1 0 -2.9 0M199.03 120.43a1.45 1.45 0 1 0 2.9 0a1.45 1.45 0 1 0 -2.9 0M199.03 128.57a1.45 1.45 0 1 0 2.9 0a1.45 1.45 0 1 0 -2.9 0M199.03 136.72a1.45 1.45 0 1 0 2.9 0a1.45 1.45 0 1 0 -2.9 0M199.03 144.87a1.45 1.45 0 1 0 2.9 0a1.45 1.45 0 1 0 -2.9 0M207.18 55.24a1.45 1.45 0 1 0 2.9 0a1.45 1.45 0 1 0 -2.9 0M207.18 63.39a1.45 1.45 0 1 0 2.9 0a1.45 1.45 0 1 0 -2.9 0M207.18 71.54a1.45 1.45 0 1 0 2.9 0a1.45 1.45 0 1 0 -2.9 0M207.18 79.69a1.45 1.45 0 1 0 2.9 0a1.45 1.45 0 1 0 -2.9 0M207.18 87.83a1.45 1.45 0 1 0 2.9 0a1.45 1.45 0 1 0 -2.9 0M207.18 112.28a1.45 1.45 0 1 0 2.9 0a1.45 1.45 0 1 0 -2.9 0M207.18 120.43a1.45 1.45 0 1 0 2.9 0a1.45 1.45 0 1 0 -2.9 0M207.18 128.57a1.45 1.45 0 1 0 2.9 0a1.45 1.45 0 1 0 -2.9 0M207.18 136.72a1.45 1.45 0 1 0 2.9 0a1.45 1.45 0 1 0 -2.9 0M207.18 144.87a1.45 1.45 0 1 0 2.9 0a1.45 1.45 0 1 0 -2.9 0M215.33 55.24a1.45 1.45 0 1 0 2.9 0a1.45 1.45 0 1 0 -2.9 0M215.33 63.39a1.45 1.45 0 1 0 2.9 0a1.45 1.45 0 1 0 -2.9 0M215.33 71.54a1.45 1.45 0 1 0 2.9 0a1.45 1.45 0 1 0 -2.9 0M215.33 79.69a1.45 1.45 0 1 0 2.9 0a1.45 1.45 0 1 0 -2.9 0M215.33 87.83a1.45 1.45 0 1 0 2.9 0a1.45 1.45 0 1 0 -2.9 0M215.33 112.28a1.45 1.45 0 1 0 2.9 0a1.45 1.45 0 1 0 -2.9 0M215.33 120.43a1.45 1.45 0 1 0 2.9 0a1.45 1.45 0 1 0 -2.9 0M215.33 128.57a1.45 1.45 0 1 0 2.9 0a1.45 1.45 0 1 0 -2.9 0M215.33 136.72a1.45 1.45 0 1 0 2.9 0a1.45 1.45 0 1 0 -2.9 0M215.33 144.87a1.45 1.45 0 1 0 2.9 0a1.45 1.45 0 1 0 -2.9 0M223.48 55.24a1.45 1.45 0 1 0 2.9 0a1.45 1.45 0 1 0 -2.9 0M223.48 63.39a1.45 1.45 0 1 0 2.9 0a1.45 1.45 0 1 0 -2.9 0M223.48 71.54a1.45 1.45 0 1 0 2.9 0a1.45 1.45 0 1 0 -2.9 0M223.48 79.69a1.45 1.45 0 1 0 2.9 0a1.45 1.45 0 1 0 -2.9 0M223.48 87.83a1.45 1.45 0 1 0 2.9 0a1.45 1.45 0 1 0 -2.9 0M223.48 112.28a1.45 1.45 0 1 0 2.9 0a1.45 1.45 0 1 0 -2.9 0M223.48 120.43a1.45 1.45 0 1 0 2.9 0a1.45 1.45 0 1 0 -2.9 0M223.48 128.57a1.45 1.45 0 1 0 2.9 0a1.45 1.45 0 1 0 -2.9 0M223.48 136.72a1.45 1.45 0 1 0 2.9 0a1.45 1.45 0 1 0 -2.9 0M223.48 144.87a1.45 1.45 0 1 0 2.9 0a1.45 1.45 0 1 0 -2.9 0M231.63 55.24a1.45 1.45 0 1 0 2.9 0a1.45 1.45 0 1 0 -2.9 0M231.63 63.39a1.45 1.45 0 1 0 2.9 0a1.45 1.45 0 1 0 -2.9 0M231.63 71.54a1.45 1.45 0 1 0 2.9 0a1.45 1.45 0 1 0 -2.9 0M231.63 79.69a1.45 1.45 0 1 0 2.9 0a1.45 1.45 0 1 0 -2.9 0M231.63 87.83a1.45 1.45 0 1 0 2.9 0a1.45 1.45 0 1 0 -2.9 0M231.63 112.28a1.45 1.45 0 1 0 2.9 0a1.45 1.45 0 1 0 -2.9 0M231.63 120.43a1.45 1.45 0 1 0 2.9 0a1.45 1.45 0 1 0 -2.9 0M231.63 128.57a1.45 1.45 0 1 0 2.9 0a1.45 1.45 0 1 0 -2.9 0M231.63 136.72a1.45 1.45 0 1 0 2.9 0a1.45 1.45 0 1 0 -2.9 0M231.63 144.87a1.45 1.45 0 1 0 2.9 0a1.45 1.45 0 1 0 -2.9 0M239.77 55.24a1.45 1.45 0 1 0 2.9 0a1.45 1.45 0 1 0 -2.9 0M239.77 63.39a1.45 1.45 0 1 0 2.9 0a1.45 1.45 0 1 0 -2.9 0M239.77 71.54a1.45 1.45 0 1 0 2.9 0a1.45 1.45 0 1 0 -2.9 0M239.77 79.69a1.45 1.45 0 1 0 2.9 0a1.45 1.45 0 1 0 -2.9 0M239.77 87.83a1.45 1.45 0 1 0 2.9 0a1.45 1.45 0 1 0 -2.9 0M239.77 112.28a1.45 1.45 0 1 0 2.9 0a1.45 1.45 0 1 0 -2.9 0M239.77 120.43a1.45 1.45 0 1 0 2.9 0a1.45 1.45 0 1 0 -2.9 0M239.77 128.57a1.45 1.45 0 1 0 2.9 0a1.45 1.45 0 1 0 -2.9 0M239.77 136.72a1.45 1.45 0 1 0 2.9 0a1.45 1.45 0 1 0 -2.9 0M239.77 144.87a1.45 1.45 0 1 0 2.9 0a1.45 1.45 0 1 0 -2.9 0M247.92 55.24a1.45 1.45 0 1 0 2.9 0a1.45 1.45 0 1 0 -2.9 0M247.92 63.39a1.45 1.45 0 1 0 2.9 0a1.45 1.45 0 1 0 -2.9 0M247.92 71.54a1.45 1.45 0 1 0 2.9 0a1.45 1.45 0 1 0 -2.9 0M247.92 79.69a1.45 1.45 0 1 0 2.9 0a1.45 1.45 0 1 0 -2.9 0M247.92 87.83a1.45 1.45 0 1 0 2.9 0a1.45 1.45 0 1 0 -2.9 0M247.92 112.28a1.45 1.45 0 1 0 2.9 0a1.45 1.45 0 1 0 -2.9 0M247.92 120.43a1.45 1.45 0 1 0 2.9 0a1.45 1.45 0 1 0 -2.9 0M247.92 128.57a1.45 1.45 0 1 0 2.9 0a1.45 1.45 0 1 0 -2.9 0M247.92 136.72a1.45 1.45 0 1 0 2.9 0a1.45 1.45 0 1 0 -2.9 0M247.92 144.87a1.45 1.45 0 1 0 2.9 0a1.45 1.45 0 1 0 -2.9 0M256.07 55.24a1.45 1.45 0 1 0 2.9 0a1.45 1.45 0 1 0 -2.9 0M256.07 63.39a1.45 1.45 0 1 0 2.9 0a1.45 1.45 0 1 0 -2.9 0M256.07 71.54a1.45 1.45 0 1 0 2.9 0a1.45 1.45 0 1 0 -2.9 0M256.07 79.69a1.45 1.45 0 1 0 2.9 0a1.45 1.45 0 1 0 -2.9 0M256.07 87.83a1.45 1.45 0 1 0 2.9 0a1.45 1.45 0 1 0 -2.9 0M256.07 112.28a1.45 1.45 0 1 0 2.9 0a1.45 1.45 0 1 0 -2.9 0M256.07 120.43a1.45 1.45 0 1 0 2.9 0a1.45 1.45 0 1 0 -2.9 0M256.07 128.57a1.45 1.45 0 1 0 2.9 0a1.45 1.45 0 1 0 -2.9 0M256.07 136.72a1.45 1.45 0 1 0 2.9 0a1.45 1.45 0 1 0 -2.9 0M256.07 144.87a1.45 1.45 0 1 0 2.9 0a1.45 1.45 0 1 0 -2.9 0M264.22 55.24a1.45 1.45 0 1 0 2.9 0a1.45 1.45 0 1 0 -2.9 0M264.22 63.39a1.45 1.45 0 1 0 2.9 0a1.45 1.45 0 1 0 -2.9 0M264.22 71.54a1.45 1.45 0 1 0 2.9 0a1.45 1.45 0 1 0 -2.9 0M264.22 79.69a1.45 1.45 0 1 0 2.9 0a1.45 1.45 0 1 0 -2.9 0M264.22 87.83a1.45 1.45 0 1 0 2.9 0a1.45 1.45 0 1 0 -2.9 0M264.22 112.28a1.45 1.45 0 1 0 2.9 0a1.45 1.45 0 1 0 -2.9 0M264.22 120.43a1.45 1.45 0 1 0 2.9 0a1.45 1.45 0 1 0 -2.9 0M264.22 128.57a1.45 1.45 0 1 0 2.9 0a1.45 1.45 0 1 0 -2.9 0M264.22 136.72a1.45 1.45 0 1 0 2.9 0a1.45 1.45 0 1 0 -2.9 0M264.22 144.87a1.45 1.45 0 1 0 2.9 0a1.45 1.45 0 1 0 -2.9 0M272.37 55.24a1.45 1.45 0 1 0 2.9 0a1.45 1.45 0 1 0 -2.9 0M272.37 63.39a1.45 1.45 0 1 0 2.9 0a1.45 1.45 0 1 0 -2.9 0M272.37 71.54a1.45 1.45 0 1 0 2.9 0a1.45 1.45 0 1 0 -2.9 0M272.37 79.69a1.45 1.45 0 1 0 2.9 0a1.45 1.45 0 1 0 -2.9 0M272.37 87.83a1.45 1.45 0 1 0 2.9 0a1.45 1.45 0 1 0 -2.9 0M272.37 112.28a1.45 1.45 0 1 0 2.9 0a1.45 1.45 0 1 0 -2.9 0M272.37 120.43a1.45 1.45 0 1 0 2.9 0a1.45 1.45 0 1 0 -2.9 0M272.37 128.57a1.45 1.45 0 1 0 2.9 0a1.45 1.45 0 1 0 -2.9 0M272.37 136.72a1.45 1.45 0 1 0 2.9 0a1.45 1.45 0 1 0 -2.9 0M272.37 144.87a1.45 1.45 0 1 0 2.9 0a1.45 1.45 0 1 0 -2.9 0M280.51 55.24a1.45 1.45 0 1 0 2.9 0a1.45 1.45 0 1 0 -2.9 0M280.51 63.39a1.45 1.45 0 1 0 2.9 0a1.45 1.45 0 1 0 -2.9 0M280.51 71.54a1.45 1.45 0 1 0 2.9 0a1.45 1.45 0 1 0 -2.9 0M280.51 79.69a1.45 1.45 0 1 0 2.9 0a1.45 1.45 0 1 0 -2.9 0M280.51 87.83a1.45 1.45 0 1 0 2.9 0a1.45 1.45 0 1 0 -2.9 0M280.51 112.28a1.45 1.45 0 1 0 2.9 0a1.45 1.45 0 1 0 -2.9 0M280.51 120.43a1.45 1.45 0 1 0 2.9 0a1.45 1.45 0 1 0 -2.9 0M280.51 128.57a1.45 1.45 0 1 0 2.9 0a1.45 1.45 0 1 0 -2.9 0M280.51 136.72a1.45 1.45 0 1 0 2.9 0a1.45 1.45 0 1 0 -2.9 0M280.51 144.87a1.45 1.45 0 1 0 2.9 0a1.45 1.45 0 1 0 -2.9 0M288.66 55.24a1.45 1.45 0 1 0 2.9 0a1.45 1.45 0 1 0 -2.9 0M288.66 63.39a1.45 1.45 0 1 0 2.9 0a1.45 1.45 0 1 0 -2.9 0M288.66 71.54a1.45 1.45 0 1 0 2.9 0a1.45 1.45 0 1 0 -2.9 0M288.66 79.69a1.45 1.45 0 1 0 2.9 0a1.45 1.45 0 1 0 -2.9 0M288.66 87.83a1.45 1.45 0 1 0 2.9 0a1.45 1.45 0 1 0 -2.9 0M288.66 112.28a1.45 1.45 0 1 0 2.9 0a1.45 1.45 0 1 0 -2.9 0M288.66 120.43a1.45 1.45 0 1 0 2.9 0a1.45 1.45 0 1 0 -2.9 0M288.66 128.57a1.45 1.45 0 1 0 2.9 0a1.45 1.45 0 1 0 -2.9 0M288.66 136.72a1.45 1.45 0 1 0 2.9 0a1.45 1.45 0 1 0 -2.9 0M288.66 144.87a1.45 1.45 0 1 0 2.9 0a1.45 1.45 0 1 0 -2.9 0M296.81 55.24a1.45 1.45 0 1 0 2.9 0a1.45 1.45 0 1 0 -2.9 0M296.81 63.39a1.45 1.45 0 1 0 2.9 0a1.45 1.45 0 1 0 -2.9 0M296.81 71.54a1.45 1.45 0 1 0 2.9 0a1.45 1.45 0 1 0 -2.9 0M296.81 79.69a1.45 1.45 0 1 0 2.9 0a1.45 1.45 0 1 0 -2.9 0M296.81 87.83a1.45 1.45 0 1 0 2.9 0a1.45 1.45 0 1 0 -2.9 0M296.81 112.28a1.45 1.45 0 1 0 2.9 0a1.45 1.45 0 1 0 -2.9 0M296.81 120.43a1.45 1.45 0 1 0 2.9 0a1.45 1.45 0 1 0 -2.9 0M296.81 128.57a1.45 1.45 0 1 0 2.9 0a1.45 1.45 0 1 0 -2.9 0M296.81 136.72a1.45 1.45 0 1 0 2.9 0a1.45 1.45 0 1 0 -2.9 0M296.81 144.87a1.45 1.45 0 1 0 2.9 0a1.45 1.45 0 1 0 -2.9 0M304.96 55.24a1.45 1.45 0 1 0 2.9 0a1.45 1.45 0 1 0 -2.9 0M304.96 63.39a1.45 1.45 0 1 0 2.9 0a1.45 1.45 0 1 0 -2.9 0M304.96 71.54a1.45 1.45 0 1 0 2.9 0a1.45 1.45 0 1 0 -2.9 0M304.96 79.69a1.45 1.45 0 1 0 2.9 0a1.45 1.45 0 1 0 -2.9 0M304.96 87.83a1.45 1.45 0 1 0 2.9 0a1.45 1.45 0 1 0 -2.9 0M304.96 112.28a1.45 1.45 0 1 0 2.9 0a1.45 1.45 0 1 0 -2.9 0M304.96 120.43a1.45 1.45 0 1 0 2.9 0a1.45 1.45 0 1 0 -2.9 0M304.96 128.57a1.45 1.45 0 1 0 2.9 0a1.45 1.45 0 1 0 -2.9 0M304.96 136.72a1.45 1.45 0 1 0 2.9 0a1.45 1.45 0 1 0 -2.9 0M304.96 144.87a1.45 1.45 0 1 0 2.9 0a1.45 1.45 0 1 0 -2.9 0M313.11 55.24a1.45 1.45 0 1 0 2.9 0a1.45 1.45 0 1 0 -2.9 0M313.11 63.39a1.45 1.45 0 1 0 2.9 0a1.45 1.45 0 1 0 -2.9 0M313.11 71.54a1.45 1.45 0 1 0 2.9 0a1.45 1.45 0 1 0 -2.9 0M313.11 79.69a1.45 1.45 0 1 0 2.9 0a1.45 1.45 0 1 0 -2.9 0M313.11 87.83a1.45 1.45 0 1 0 2.9 0a1.45 1.45 0 1 0 -2.9 0M321.25 55.24a1.45 1.45 0 1 0 2.9 0a1.45 1.45 0 1 0 -2.9 0M321.25 63.39a1.45 1.45 0 1 0 2.9 0a1.45 1.45 0 1 0 -2.9 0M321.25 71.54a1.45 1.45 0 1 0 2.9 0a1.45 1.45 0 1 0 -2.9 0M321.25 79.69a1.45 1.45 0 1 0 2.9 0a1.45 1.45 0 1 0 -2.9 0M321.25 87.83a1.45 1.45 0 1 0 2.9 0a1.45 1.45 0 1 0 -2.9 0M329.4 55.24a1.45 1.45 0 1 0 2.9 0a1.45 1.45 0 1 0 -2.9 0M329.4 63.39a1.45 1.45 0 1 0 2.9 0a1.45 1.45 0 1 0 -2.9 0M329.4 71.54a1.45 1.45 0 1 0 2.9 0a1.45 1.45 0 1 0 -2.9 0M329.4 79.69a1.45 1.45 0 1 0 2.9 0a1.45 1.45 0 1 0 -2.9 0M329.4 87.83a1.45 1.45 0 1 0 2.9 0a1.45 1.45 0 1 0 -2.9 0M329.4 112.28a1.45 1.45 0 1 0 2.9 0a1.45 1.45 0 1 0 -2.9 0M329.4 120.43a1.45 1.45 0 1 0 2.9 0a1.45 1.45 0 1 0 -2.9 0M329.4 128.57a1.45 1.45 0 1 0 2.9 0a1.45 1.45 0 1 0 -2.9 0M329.4 136.72a1.45 1.45 0 1 0 2.9 0a1.45 1.45 0 1 0 -2.9 0M329.4 144.87a1.45 1.45 0 1 0 2.9 0a1.45 1.45 0 1 0 -2.9 0M337.55 55.24a1.45 1.45 0 1 0 2.9 0a1.45 1.45 0 1 0 -2.9 0M337.55 63.39a1.45 1.45 0 1 0 2.9 0a1.45 1.45 0 1 0 -2.9 0M337.55 71.54a1.45 1.45 0 1 0 2.9 0a1.45 1.45 0 1 0 -2.9 0M337.55 79.69a1.45 1.45 0 1 0 2.9 0a1.45 1.45 0 1 0 -2.9 0M337.55 87.83a1.45 1.45 0 1 0 2.9 0a1.45 1.45 0 1 0 -2.9 0M337.55 112.28a1.45 1.45 0 1 0 2.9 0a1.45 1.45 0 1 0 -2.9 0M337.55 120.43a1.45 1.45 0 1 0 2.9 0a1.45 1.45 0 1 0 -2.9 0M337.55 128.57a1.45 1.45 0 1 0 2.9 0a1.45 1.45 0 1 0 -2.9 0M337.55 136.72a1.45 1.45 0 1 0 2.9 0a1.45 1.45 0 1 0 -2.9 0M337.55 144.87a1.45 1.45 0 1 0 2.9 0a1.45 1.45 0 1 0 -2.9 0M345.7 55.24a1.45 1.45 0 1 0 2.9 0a1.45 1.45 0 1 0 -2.9 0M345.7 63.39a1.45 1.45 0 1 0 2.9 0a1.45 1.45 0 1 0 -2.9 0M345.7 71.54a1.45 1.45 0 1 0 2.9 0a1.45 1.45 0 1 0 -2.9 0M345.7 79.69a1.45 1.45 0 1 0 2.9 0a1.45 1.45 0 1 0 -2.9 0M345.7 87.83a1.45 1.45 0 1 0 2.9 0a1.45 1.45 0 1 0 -2.9 0M345.7 112.28a1.45 1.45 0 1 0 2.9 0a1.45 1.45 0 1 0 -2.9 0M345.7 120.43a1.45 1.45 0 1 0 2.9 0a1.45 1.45 0 1 0 -2.9 0M345.7 128.57a1.45 1.45 0 1 0 2.9 0a1.45 1.45 0 1 0 -2.9 0M345.7 136.72a1.45 1.45 0 1 0 2.9 0a1.45 1.45 0 1 0 -2.9 0M345.7 144.87a1.45 1.45 0 1 0 2.9 0a1.45 1.45 0 1 0 -2.9 0M353.85 55.24a1.45 1.45 0 1 0 2.9 0a1.45 1.45 0 1 0 -2.9 0M353.85 63.39a1.45 1.45 0 1 0 2.9 0a1.45 1.45 0 1 0 -2.9 0M353.85 71.54a1.45 1.45 0 1 0 2.9 0a1.45 1.45 0 1 0 -2.9 0M353.85 79.69a1.45 1.45 0 1 0 2.9 0a1.45 1.45 0 1 0 -2.9 0M353.85 87.83a1.45 1.45 0 1 0 2.9 0a1.45 1.45 0 1 0 -2.9 0M361.99 55.24a1.45 1.45 0 1 0 2.9 0a1.45 1.45 0 1 0 -2.9 0M361.99 63.39a1.45 1.45 0 1 0 2.9 0a1.45 1.45 0 1 0 -2.9 0M361.99 71.54a1.45 1.45 0 1 0 2.9 0a1.45 1.45 0 1 0 -2.9 0M361.99 79.69a1.45 1.45 0 1 0 2.9 0a1.45 1.45 0 1 0 -2.9 0M361.99 87.83a1.45 1.45 0 1 0 2.9 0a1.45 1.45 0 1 0 -2.9 0M361.99 112.28a1.45 1.45 0 1 0 2.9 0a1.45 1.45 0 1 0 -2.9 0M361.99 120.43a1.45 1.45 0 1 0 2.9 0a1.45 1.45 0 1 0 -2.9 0M361.99 128.57a1.45 1.45 0 1 0 2.9 0a1.45 1.45 0 1 0 -2.9 0M361.99 136.72a1.45 1.45 0 1 0 2.9 0a1.45 1.45 0 1 0 -2.9 0M361.99 144.87a1.45 1.45 0 1 0 2.9 0a1.45 1.45 0 1 0 -2.9 0M370.14 55.24a1.45 1.45 0 1 0 2.9 0a1.45 1.45 0 1 0 -2.9 0M370.14 63.39a1.45 1.45 0 1 0 2.9 0a1.45 1.45 0 1 0 -2.9 0M370.14 71.54a1.45 1.45 0 1 0 2.9 0a1.45 1.45 0 1 0 -2.9 0M370.14 79.69a1.45 1.45 0 1 0 2.9 0a1.45 1.45 0 1 0 -2.9 0M370.14 87.83a1.45 1.45 0 1 0 2.9 0a1.45 1.45 0 1 0 -2.9 0M370.14 112.28a1.45 1.45 0 1 0 2.9 0a1.45 1.45 0 1 0 -2.9 0M370.14 120.43a1.45 1.45 0 1 0 2.9 0a1.45 1.45 0 1 0 -2.9 0M370.14 128.57a1.45 1.45 0 1 0 2.9 0a1.45 1.45 0 1 0 -2.9 0M370.14 136.72a1.45 1.45 0 1 0 2.9 0a1.45 1.45 0 1 0 -2.9 0M370.14 144.87a1.45 1.45 0 1 0 2.9 0a1.45 1.45 0 1 0 -2.9 0M378.29 55.24a1.45 1.45 0 1 0 2.9 0a1.45 1.45 0 1 0 -2.9 0M378.29 63.39a1.45 1.45 0 1 0 2.9 0a1.45 1.45 0 1 0 -2.9 0M378.29 71.54a1.45 1.45 0 1 0 2.9 0a1.45 1.45 0 1 0 -2.9 0M378.29 79.69a1.45 1.45 0 1 0 2.9 0a1.45 1.45 0 1 0 -2.9 0M378.29 87.83a1.45 1.45 0 1 0 2.9 0a1.45 1.45 0 1 0 -2.9 0M378.29 112.28a1.45 1.45 0 1 0 2.9 0a1.45 1.45 0 1 0 -2.9 0M378.29 120.43a1.45 1.45 0 1 0 2.9 0a1.45 1.45 0 1 0 -2.9 0M378.29 128.57a1.45 1.45 0 1 0 2.9 0a1.45 1.45 0 1 0 -2.9 0M378.29 136.72a1.45 1.45 0 1 0 2.9 0a1.45 1.45 0 1 0 -2.9 0M378.29 144.87a1.45 1.45 0 1 0 2.9 0a1.45 1.45 0 1 0 -2.9 0M386.44 55.24a1.45 1.45 0 1 0 2.9 0a1.45 1.45 0 1 0 -2.9 0M386.44 63.39a1.45 1.45 0 1 0 2.9 0a1.45 1.45 0 1 0 -2.9 0M386.44 71.54a1.45 1.45 0 1 0 2.9 0a1.45 1.45 0 1 0 -2.9 0M386.44 79.69a1.45 1.45 0 1 0 2.9 0a1.45 1.45 0 1 0 -2.9 0M386.44 87.83a1.45 1.45 0 1 0 2.9 0a1.45 1.45 0 1 0 -2.9 0M386.44 112.28a1.45 1.45 0 1 0 2.9 0a1.45 1.45 0 1 0 -2.9 0M386.44 120.43a1.45 1.45 0 1 0 2.9 0a1.45 1.45 0 1 0 -2.9 0M386.44 128.57a1.45 1.45 0 1 0 2.9 0a1.45 1.45 0 1 0 -2.9 0M386.44 136.72a1.45 1.45 0 1 0 2.9 0a1.45 1.45 0 1 0 -2.9 0M386.44 144.87a1.45 1.45 0 1 0 2.9 0a1.45 1.45 0 1 0 -2.9 0M394.59 55.24a1.45 1.45 0 1 0 2.9 0a1.45 1.45 0 1 0 -2.9 0M394.59 63.39a1.45 1.45 0 1 0 2.9 0a1.45 1.45 0 1 0 -2.9 0M394.59 71.54a1.45 1.45 0 1 0 2.9 0a1.45 1.45 0 1 0 -2.9 0M394.59 79.69a1.45 1.45 0 1 0 2.9 0a1.45 1.45 0 1 0 -2.9 0M394.59 87.83a1.45 1.45 0 1 0 2.9 0a1.45 1.45 0 1 0 -2.9 0M394.59 112.28a1.45 1.45 0 1 0 2.9 0a1.45 1.45 0 1 0 -2.9 0M394.59 120.43a1.45 1.45 0 1 0 2.9 0a1.45 1.45 0 1 0 -2.9 0M394.59 128.57a1.45 1.45 0 1 0 2.9 0a1.45 1.45 0 1 0 -2.9 0M394.59 136.72a1.45 1.45 0 1 0 2.9 0a1.45 1.45 0 1 0 -2.9 0M394.59 144.87a1.45 1.45 0 1 0 2.9 0a1.45 1.45 0 1 0 -2.9 0M402.73 55.24a1.45 1.45 0 1 0 2.9 0a1.45 1.45 0 1 0 -2.9 0M402.73 63.39a1.45 1.45 0 1 0 2.9 0a1.45 1.45 0 1 0 -2.9 0M402.73 71.54a1.45 1.45 0 1 0 2.9 0a1.45 1.45 0 1 0 -2.9 0M402.73 79.69a1.45 1.45 0 1 0 2.9 0a1.45 1.45 0 1 0 -2.9 0M402.73 87.83a1.45 1.45 0 1 0 2.9 0a1.45 1.45 0 1 0 -2.9 0M402.73 112.28a1.45 1.45 0 1 0 2.9 0a1.45 1.45 0 1 0 -2.9 0M402.73 120.43a1.45 1.45 0 1 0 2.9 0a1.45 1.45 0 1 0 -2.9 0M402.73 128.57a1.45 1.45 0 1 0 2.9 0a1.45 1.45 0 1 0 -2.9 0M402.73 136.72a1.45 1.45 0 1 0 2.9 0a1.45 1.45 0 1 0 -2.9 0M402.73 144.87a1.45 1.45 0 1 0 2.9 0a1.45 1.45 0 1 0 -2.9 0M410.88 55.24a1.45 1.45 0 1 0 2.9 0a1.45 1.45 0 1 0 -2.9 0M410.88 63.39a1.45 1.45 0 1 0 2.9 0a1.45 1.45 0 1 0 -2.9 0M410.88 71.54a1.45 1.45 0 1 0 2.9 0a1.45 1.45 0 1 0 -2.9 0M410.88 79.69a1.45 1.45 0 1 0 2.9 0a1.45 1.45 0 1 0 -2.9 0M410.88 87.83a1.45 1.45 0 1 0 2.9 0a1.45 1.45 0 1 0 -2.9 0M410.88 112.28a1.45 1.45 0 1 0 2.9 0a1.45 1.45 0 1 0 -2.9 0M410.88 120.43a1.45 1.45 0 1 0 2.9 0a1.45 1.45 0 1 0 -2.9 0M410.88 128.57a1.45 1.45 0 1 0 2.9 0a1.45 1.45 0 1 0 -2.9 0M410.88 136.72a1.45 1.45 0 1 0 2.9 0a1.45 1.45 0 1 0 -2.9 0M410.88 144.87a1.45 1.45 0 1 0 2.9 0a1.45 1.45 0 1 0 -2.9 0M419.03 55.24a1.45 1.45 0 1 0 2.9 0a1.45 1.45 0 1 0 -2.9 0M419.03 63.39a1.45 1.45 0 1 0 2.9 0a1.45 1.45 0 1 0 -2.9 0M419.03 71.54a1.45 1.45 0 1 0 2.9 0a1.45 1.45 0 1 0 -2.9 0M419.03 79.69a1.45 1.45 0 1 0 2.9 0a1.45 1.45 0 1 0 -2.9 0M419.03 87.83a1.45 1.45 0 1 0 2.9 0a1.45 1.45 0 1 0 -2.9 0M419.03 112.28a1.45 1.45 0 1 0 2.9 0a1.45 1.45 0 1 0 -2.9 0M419.03 120.43a1.45 1.45 0 1 0 2.9 0a1.45 1.45 0 1 0 -2.9 0M419.03 128.57a1.45 1.45 0 1 0 2.9 0a1.45 1.45 0 1 0 -2.9 0M419.03 136.72a1.45 1.45 0 1 0 2.9 0a1.45 1.45 0 1 0 -2.9 0M419.03 144.87a1.45 1.45 0 1 0 2.9 0a1.45 1.45 0 1 0 -2.9 0M427.18 55.24a1.45 1.45 0 1 0 2.9 0a1.45 1.45 0 1 0 -2.9 0M427.18 63.39a1.45 1.45 0 1 0 2.9 0a1.45 1.45 0 1 0 -2.9 0M427.18 71.54a1.45 1.45 0 1 0 2.9 0a1.45 1.45 0 1 0 -2.9 0M427.18 79.69a1.45 1.45 0 1 0 2.9 0a1.45 1.45 0 1 0 -2.9 0M427.18 87.83a1.45 1.45 0 1 0 2.9 0a1.45 1.45 0 1 0 -2.9 0M427.18 112.28a1.45 1.45 0 1 0 2.9 0a1.45 1.45 0 1 0 -2.9 0M427.18 120.43a1.45 1.45 0 1 0 2.9 0a1.45 1.45 0 1 0 -2.9 0M427.18 128.57a1.45 1.45 0 1 0 2.9 0a1.45 1.45 0 1 0 -2.9 0M427.18 136.72a1.45 1.45 0 1 0 2.9 0a1.45 1.45 0 1 0 -2.9 0M427.18 144.87a1.45 1.45 0 1 0 2.9 0a1.45 1.45 0 1 0 -2.9 0M435.33 55.24a1.45 1.45 0 1 0 2.9 0a1.45 1.45 0 1 0 -2.9 0M435.33 63.39a1.45 1.45 0 1 0 2.9 0a1.45 1.45 0 1 0 -2.9 0M435.33 71.54a1.45 1.45 0 1 0 2.9 0a1.45 1.45 0 1 0 -2.9 0M435.33 79.69a1.45 1.45 0 1 0 2.9 0a1.45 1.45 0 1 0 -2.9 0M435.33 87.83a1.45 1.45 0 1 0 2.9 0a1.45 1.45 0 1 0 -2.9 0M435.33 112.28a1.45 1.45 0 1 0 2.9 0a1.45 1.45 0 1 0 -2.9 0M435.33 120.43a1.45 1.45 0 1 0 2.9 0a1.45 1.45 0 1 0 -2.9 0M435.33 128.57a1.45 1.45 0 1 0 2.9 0a1.45 1.45 0 1 0 -2.9 0M435.33 136.72a1.45 1.45 0 1 0 2.9 0a1.45 1.45 0 1 0 -2.9 0M435.33 144.87a1.45 1.45 0 1 0 2.9 0a1.45 1.45 0 1 0 -2.9 0M443.47 55.24a1.45 1.45 0 1 0 2.9 0a1.45 1.45 0 1 0 -2.9 0M443.47 63.39a1.45 1.45 0 1 0 2.9 0a1.45 1.45 0 1 0 -2.9 0M443.47 71.54a1.45 1.45 0 1 0 2.9 0a1.45 1.45 0 1 0 -2.9 0M443.47 79.69a1.45 1.45 0 1 0 2.9 0a1.45 1.45 0 1 0 -2.9 0M443.47 87.83a1.45 1.45 0 1 0 2.9 0a1.45 1.45 0 1 0 -2.9 0M443.47 112.28a1.45 1.45 0 1 0 2.9 0a1.45 1.45 0 1 0 -2.9 0M443.47 120.43a1.45 1.45 0 1 0 2.9 0a1.45 1.45 0 1 0 -2.9 0M443.47 128.57a1.45 1.45 0 1 0 2.9 0a1.45 1.45 0 1 0 -2.9 0M443.47 136.72a1.45 1.45 0 1 0 2.9 0a1.45 1.45 0 1 0 -2.9 0M443.47 144.87a1.45 1.45 0 1 0 2.9 0a1.45 1.45 0 1 0 -2.9 0M451.62 55.24a1.45 1.45 0 1 0 2.9 0a1.45 1.45 0 1 0 -2.9 0M451.62 63.39a1.45 1.45 0 1 0 2.9 0a1.45 1.45 0 1 0 -2.9 0M451.62 71.54a1.45 1.45 0 1 0 2.9 0a1.45 1.45 0 1 0 -2.9 0M451.62 79.69a1.45 1.45 0 1 0 2.9 0a1.45 1.45 0 1 0 -2.9 0M451.62 87.83a1.45 1.45 0 1 0 2.9 0a1.45 1.45 0 1 0 -2.9 0M451.62 112.28a1.45 1.45 0 1 0 2.9 0a1.45 1.45 0 1 0 -2.9 0M451.62 120.43a1.45 1.45 0 1 0 2.9 0a1.45 1.45 0 1 0 -2.9 0M451.62 128.57a1.45 1.45 0 1 0 2.9 0a1.45 1.45 0 1 0 -2.9 0M451.62 136.72a1.45 1.45 0 1 0 2.9 0a1.45 1.45 0 1 0 -2.9 0M451.62 144.87a1.45 1.45 0 1 0 2.9 0a1.45 1.45 0 1 0 -2.9 0M459.77 55.24a1.45 1.45 0 1 0 2.9 0a1.45 1.45 0 1 0 -2.9 0M459.77 63.39a1.45 1.45 0 1 0 2.9 0a1.45 1.45 0 1 0 -2.9 0M459.77 71.54a1.45 1.45 0 1 0 2.9 0a1.45 1.45 0 1 0 -2.9 0M459.77 79.69a1.45 1.45 0 1 0 2.9 0a1.45 1.45 0 1 0 -2.9 0M459.77 87.83a1.45 1.45 0 1 0 2.9 0a1.45 1.45 0 1 0 -2.9 0M459.77 112.28a1.45 1.45 0 1 0 2.9 0a1.45 1.45 0 1 0 -2.9 0M459.77 120.43a1.45 1.45 0 1 0 2.9 0a1.45 1.45 0 1 0 -2.9 0M459.77 128.57a1.45 1.45 0 1 0 2.9 0a1.45 1.45 0 1 0 -2.9 0M459.77 136.72a1.45 1.45 0 1 0 2.9 0a1.45 1.45 0 1 0 -2.9 0M459.77 144.87a1.45 1.45 0 1 0 2.9 0a1.45 1.45 0 1 0 -2.9 0M476.07 55.24a1.45 1.45 0 1 0 2.9 0a1.45 1.45 0 1 0 -2.9 0M476.07 63.39a1.45 1.45 0 1 0 2.9 0a1.45 1.45 0 1 0 -2.9 0M476.07 71.54a1.45 1.45 0 1 0 2.9 0a1.45 1.45 0 1 0 -2.9 0M476.07 79.69a1.45 1.45 0 1 0 2.9 0a1.45 1.45 0 1 0 -2.9 0M476.07 87.83a1.45 1.45 0 1 0 2.9 0a1.45 1.45 0 1 0 -2.9 0M476.07 112.28a1.45 1.45 0 1 0 2.9 0a1.45 1.45 0 1 0 -2.9 0M476.07 120.43a1.45 1.45 0 1 0 2.9 0a1.45 1.45 0 1 0 -2.9 0M476.07 128.57a1.45 1.45 0 1 0 2.9 0a1.45 1.45 0 1 0 -2.9 0M476.07 136.72a1.45 1.45 0 1 0 2.9 0a1.45 1.45 0 1 0 -2.9 0M476.07 144.87a1.45 1.45 0 1 0 2.9 0a1.45 1.45 0 1 0 -2.9 0M492.36 55.24a1.45 1.45 0 1 0 2.9 0a1.45 1.45 0 1 0 -2.9 0M492.36 63.39a1.45 1.45 0 1 0 2.9 0a1.45 1.45 0 1 0 -2.9 0M492.36 71.54a1.45 1.45 0 1 0 2.9 0a1.45 1.45 0 1 0 -2.9 0M492.36 79.69a1.45 1.45 0 1 0 2.9 0a1.45 1.45 0 1 0 -2.9 0M492.36 87.83a1.45 1.45 0 1 0 2.9 0a1.45 1.45 0 1 0 -2.9 0M492.36 112.28a1.45 1.45 0 1 0 2.9 0a1.45 1.45 0 1 0 -2.9 0M492.36 120.43a1.45 1.45 0 1 0 2.9 0a1.45 1.45 0 1 0 -2.9 0M492.36 128.57a1.45 1.45 0 1 0 2.9 0a1.45 1.45 0 1 0 -2.9 0M492.36 136.72a1.45 1.45 0 1 0 2.9 0a1.45 1.45 0 1 0 -2.9 0M492.36 144.87a1.45 1.45 0 1 0 2.9 0a1.45 1.45 0 1 0 -2.9 0M500.51 55.24a1.45 1.45 0 1 0 2.9 0a1.45 1.45 0 1 0 -2.9 0M500.51 63.39a1.45 1.45 0 1 0 2.9 0a1.45 1.45 0 1 0 -2.9 0M500.51 71.54a1.45 1.45 0 1 0 2.9 0a1.45 1.45 0 1 0 -2.9 0M500.51 79.69a1.45 1.45 0 1 0 2.9 0a1.45 1.45 0 1 0 -2.9 0M500.51 87.83a1.45 1.45 0 1 0 2.9 0a1.45 1.45 0 1 0 -2.9 0M500.51 112.28a1.45 1.45 0 1 0 2.9 0a1.45 1.45 0 1 0 -2.9 0M500.51 120.43a1.45 1.45 0 1 0 2.9 0a1.45 1.45 0 1 0 -2.9 0M500.51 128.57a1.45 1.45 0 1 0 2.9 0a1.45 1.45 0 1 0 -2.9 0M500.51 136.72a1.45 1.45 0 1 0 2.9 0a1.45 1.45 0 1 0 -2.9 0M500.51 144.87a1.45 1.45 0 1 0 2.9 0a1.45 1.45 0 1 0 -2.9 0M508.66 55.24a1.45 1.45 0 1 0 2.9 0a1.45 1.45 0 1 0 -2.9 0M508.66 63.39a1.45 1.45 0 1 0 2.9 0a1.45 1.45 0 1 0 -2.9 0M508.66 71.54a1.45 1.45 0 1 0 2.9 0a1.45 1.45 0 1 0 -2.9 0M508.66 79.69a1.45 1.45 0 1 0 2.9 0a1.45 1.45 0 1 0 -2.9 0M508.66 87.83a1.45 1.45 0 1 0 2.9 0a1.45 1.45 0 1 0 -2.9 0M508.66 112.28a1.45 1.45 0 1 0 2.9 0a1.45 1.45 0 1 0 -2.9 0M508.66 120.43a1.45 1.45 0 1 0 2.9 0a1.45 1.45 0 1 0 -2.9 0M508.66 128.57a1.45 1.45 0 1 0 2.9 0a1.45 1.45 0 1 0 -2.9 0M508.66 136.72a1.45 1.45 0 1 0 2.9 0a1.45 1.45 0 1 0 -2.9 0M508.66 144.87a1.45 1.45 0 1 0 2.9 0a1.45 1.45 0 1 0 -2.9 0M516.81 55.24a1.45 1.45 0 1 0 2.9 0a1.45 1.45 0 1 0 -2.9 0M516.81 63.39a1.45 1.45 0 1 0 2.9 0a1.45 1.45 0 1 0 -2.9 0M516.81 71.54a1.45 1.45 0 1 0 2.9 0a1.45 1.45 0 1 0 -2.9 0M516.81 79.69a1.45 1.45 0 1 0 2.9 0a1.45 1.45 0 1 0 -2.9 0M516.81 87.83a1.45 1.45 0 1 0 2.9 0a1.45 1.45 0 1 0 -2.9 0M524.95 55.24a1.45 1.45 0 1 0 2.9 0a1.45 1.45 0 1 0 -2.9 0M524.95 63.39a1.45 1.45 0 1 0 2.9 0a1.45 1.45 0 1 0 -2.9 0M524.95 71.54a1.45 1.45 0 1 0 2.9 0a1.45 1.45 0 1 0 -2.9 0M524.95 79.69a1.45 1.45 0 1 0 2.9 0a1.45 1.45 0 1 0 -2.9 0M524.95 87.83a1.45 1.45 0 1 0 2.9 0a1.45 1.45 0 1 0 -2.9 0M524.95 112.28a1.45 1.45 0 1 0 2.9 0a1.45 1.45 0 1 0 -2.9 0M524.95 120.43a1.45 1.45 0 1 0 2.9 0a1.45 1.45 0 1 0 -2.9 0M524.95 128.57a1.45 1.45 0 1 0 2.9 0a1.45 1.45 0 1 0 -2.9 0M524.95 136.72a1.45 1.45 0 1 0 2.9 0a1.45 1.45 0 1 0 -2.9 0M524.95 144.87a1.45 1.45 0 1 0 2.9 0a1.45 1.45 0 1 0 -2.9 0M533.1 55.24a1.45 1.45 0 1 0 2.9 0a1.45 1.45 0 1 0 -2.9 0M533.1 63.39a1.45 1.45 0 1 0 2.9 0a1.45 1.45 0 1 0 -2.9 0M533.1 71.54a1.45 1.45 0 1 0 2.9 0a1.45 1.45 0 1 0 -2.9 0M533.1 79.69a1.45 1.45 0 1 0 2.9 0a1.45 1.45 0 1 0 -2.9 0M533.1 87.83a1.45 1.45 0 1 0 2.9 0a1.45 1.45 0 1 0 -2.9 0M533.1 112.28a1.45 1.45 0 1 0 2.9 0a1.45 1.45 0 1 0 -2.9 0M533.1 120.43a1.45 1.45 0 1 0 2.9 0a1.45 1.45 0 1 0 -2.9 0M533.1 128.57a1.45 1.45 0 1 0 2.9 0a1.45 1.45 0 1 0 -2.9 0M533.1 136.72a1.45 1.45 0 1 0 2.9 0a1.45 1.45 0 1 0 -2.9 0M533.1 144.87a1.45 1.45 0 1 0 2.9 0a1.45 1.45 0 1 0 -2.9 0M541.25 55.24a1.45 1.45 0 1 0 2.9 0a1.45 1.45 0 1 0 -2.9 0M541.25 63.39a1.45 1.45 0 1 0 2.9 0a1.45 1.45 0 1 0 -2.9 0M541.25 71.54a1.45 1.45 0 1 0 2.9 0a1.45 1.45 0 1 0 -2.9 0M541.25 79.69a1.45 1.45 0 1 0 2.9 0a1.45 1.45 0 1 0 -2.9 0M541.25 87.83a1.45 1.45 0 1 0 2.9 0a1.45 1.45 0 1 0 -2.9 0M541.25 112.28a1.45 1.45 0 1 0 2.9 0a1.45 1.45 0 1 0 -2.9 0M541.25 120.43a1.45 1.45 0 1 0 2.9 0a1.45 1.45 0 1 0 -2.9 0M541.25 128.57a1.45 1.45 0 1 0 2.9 0a1.45 1.45 0 1 0 -2.9 0M541.25 136.72a1.45 1.45 0 1 0 2.9 0a1.45 1.45 0 1 0 -2.9 0M541.25 144.87a1.45 1.45 0 1 0 2.9 0a1.45 1.45 0 1 0 -2.9 0M549.4 55.24a1.45 1.45 0 1 0 2.9 0a1.45 1.45 0 1 0 -2.9 0M549.4 63.39a1.45 1.45 0 1 0 2.9 0a1.45 1.45 0 1 0 -2.9 0M549.4 71.54a1.45 1.45 0 1 0 2.9 0a1.45 1.45 0 1 0 -2.9 0M549.4 79.69a1.45 1.45 0 1 0 2.9 0a1.45 1.45 0 1 0 -2.9 0M549.4 87.83a1.45 1.45 0 1 0 2.9 0a1.45 1.45 0 1 0 -2.9 0M549.4 112.28a1.45 1.45 0 1 0 2.9 0a1.45 1.45 0 1 0 -2.9 0M549.4 120.43a1.45 1.45 0 1 0 2.9 0a1.45 1.45 0 1 0 -2.9 0M549.4 128.57a1.45 1.45 0 1 0 2.9 0a1.45 1.45 0 1 0 -2.9 0M549.4 136.72a1.45 1.45 0 1 0 2.9 0a1.45 1.45 0 1 0 -2.9 0M549.4 144.87a1.45 1.45 0 1 0 2.9 0a1.45 1.45 0 1 0 -2.9 0M557.55 55.24a1.45 1.45 0 1 0 2.9 0a1.45 1.45 0 1 0 -2.9 0M557.55 63.39a1.45 1.45 0 1 0 2.9 0a1.45 1.45 0 1 0 -2.9 0M557.55 71.54a1.45 1.45 0 1 0 2.9 0a1.45 1.45 0 1 0 -2.9 0M557.55 79.69a1.45 1.45 0 1 0 2.9 0a1.45 1.45 0 1 0 -2.9 0M557.55 87.83a1.45 1.45 0 1 0 2.9 0a1.45 1.45 0 1 0 -2.9 0M557.55 112.28a1.45 1.45 0 1 0 2.9 0a1.45 1.45 0 1 0 -2.9 0M557.55 120.43a1.45 1.45 0 1 0 2.9 0a1.45 1.45 0 1 0 -2.9 0M557.55 128.57a1.45 1.45 0 1 0 2.9 0a1.45 1.45 0 1 0 -2.9 0M557.55 136.72a1.45 1.45 0 1 0 2.9 0a1.45 1.45 0 1 0 -2.9 0M557.55 144.87a1.45 1.45 0 1 0 2.9 0a1.45 1.45 0 1 0 -2.9 0M565.69 55.24a1.45 1.45 0 1 0 2.9 0a1.45 1.45 0 1 0 -2.9 0M565.69 63.39a1.45 1.45 0 1 0 2.9 0a1.45 1.45 0 1 0 -2.9 0M565.69 71.54a1.45 1.45 0 1 0 2.9 0a1.45 1.45 0 1 0 -2.9 0M565.69 79.69a1.45 1.45 0 1 0 2.9 0a1.45 1.45 0 1 0 -2.9 0M565.69 87.83a1.45 1.45 0 1 0 2.9 0a1.45 1.45 0 1 0 -2.9 0M565.69 112.28a1.45 1.45 0 1 0 2.9 0a1.45 1.45 0 1 0 -2.9 0M565.69 120.43a1.45 1.45 0 1 0 2.9 0a1.45 1.45 0 1 0 -2.9 0M565.69 128.57a1.45 1.45 0 1 0 2.9 0a1.45 1.45 0 1 0 -2.9 0M565.69 136.72a1.45 1.45 0 1 0 2.9 0a1.45 1.45 0 1 0 -2.9 0M565.69 144.87a1.45 1.45 0 1 0 2.9 0a1.45 1.45 0 1 0 -2.9 0M573.84 55.24a1.45 1.45 0 1 0 2.9 0a1.45 1.45 0 1 0 -2.9 0M573.84 63.39a1.45 1.45 0 1 0 2.9 0a1.45 1.45 0 1 0 -2.9 0M573.84 71.54a1.45 1.45 0 1 0 2.9 0a1.45 1.45 0 1 0 -2.9 0M573.84 79.69a1.45 1.45 0 1 0 2.9 0a1.45 1.45 0 1 0 -2.9 0M573.84 87.83a1.45 1.45 0 1 0 2.9 0a1.45 1.45 0 1 0 -2.9 0M573.84 112.28a1.45 1.45 0 1 0 2.9 0a1.45 1.45 0 1 0 -2.9 0M573.84 120.43a1.45 1.45 0 1 0 2.9 0a1.45 1.45 0 1 0 -2.9 0M573.84 128.57a1.45 1.45 0 1 0 2.9 0a1.45 1.45 0 1 0 -2.9 0M573.84 136.72a1.45 1.45 0 1 0 2.9 0a1.45 1.45 0 1 0 -2.9 0M573.84 144.87a1.45 1.45 0 1 0 2.9 0a1.45 1.45 0 1 0 -2.9 0M581.99 55.24a1.45 1.45 0 1 0 2.9 0a1.45 1.45 0 1 0 -2.9 0M581.99 63.39a1.45 1.45 0 1 0 2.9 0a1.45 1.45 0 1 0 -2.9 0M581.99 71.54a1.45 1.45 0 1 0 2.9 0a1.45 1.45 0 1 0 -2.9 0M581.99 79.69a1.45 1.45 0 1 0 2.9 0a1.45 1.45 0 1 0 -2.9 0M581.99 87.83a1.45 1.45 0 1 0 2.9 0a1.45 1.45 0 1 0 -2.9 0M581.99 112.28a1.45 1.45 0 1 0 2.9 0a1.45 1.45 0 1 0 -2.9 0M581.99 120.43a1.45 1.45 0 1 0 2.9 0a1.45 1.45 0 1 0 -2.9 0M581.99 128.57a1.45 1.45 0 1 0 2.9 0a1.45 1.45 0 1 0 -2.9 0M581.99 136.72a1.45 1.45 0 1 0 2.9 0a1.45 1.45 0 1 0 -2.9 0M581.99 144.87a1.45 1.45 0 1 0 2.9 0a1.45 1.45 0 1 0 -2.9 0M590.14 55.24a1.45 1.45 0 1 0 2.9 0a1.45 1.45 0 1 0 -2.9 0M590.14 63.39a1.45 1.45 0 1 0 2.9 0a1.45 1.45 0 1 0 -2.9 0M590.14 71.54a1.45 1.45 0 1 0 2.9 0a1.45 1.45 0 1 0 -2.9 0M590.14 79.69a1.45 1.45 0 1 0 2.9 0a1.45 1.45 0 1 0 -2.9 0M590.14 87.83a1.45 1.45 0 1 0 2.9 0a1.45 1.45 0 1 0 -2.9 0M590.14 112.28a1.45 1.45 0 1 0 2.9 0a1.45 1.45 0 1 0 -2.9 0M590.14 120.43a1.45 1.45 0 1 0 2.9 0a1.45 1.45 0 1 0 -2.9 0M590.14 128.57a1.45 1.45 0 1 0 2.9 0a1.45 1.45 0 1 0 -2.9 0M590.14 136.72a1.45 1.45 0 1 0 2.9 0a1.45 1.45 0 1 0 -2.9 0M590.14 144.87a1.45 1.45 0 1 0 2.9 0a1.45 1.45 0 1 0 -2.9 0M598.29 55.24a1.45 1.45 0 1 0 2.9 0a1.45 1.45 0 1 0 -2.9 0M598.29 63.39a1.45 1.45 0 1 0 2.9 0a1.45 1.45 0 1 0 -2.9 0M598.29 71.54a1.45 1.45 0 1 0 2.9 0a1.45 1.45 0 1 0 -2.9 0M598.29 79.69a1.45 1.45 0 1 0 2.9 0a1.45 1.45 0 1 0 -2.9 0M598.29 87.83a1.45 1.45 0 1 0 2.9 0a1.45 1.45 0 1 0 -2.9 0M598.29 112.28a1.45 1.45 0 1 0 2.9 0a1.45 1.45 0 1 0 -2.9 0M598.29 120.43a1.45 1.45 0 1 0 2.9 0a1.45 1.45 0 1 0 -2.9 0M598.29 128.57a1.45 1.45 0 1 0 2.9 0a1.45 1.45 0 1 0 -2.9 0M598.29 136.72a1.45 1.45 0 1 0 2.9 0a1.45 1.45 0 1 0 -2.9 0M598.29 144.87a1.45 1.45 0 1 0 2.9 0a1.45 1.45 0 1 0 -2.9 0M606.43 55.24a1.45 1.45 0 1 0 2.9 0a1.45 1.45 0 1 0 -2.9 0M606.43 63.39a1.45 1.45 0 1 0 2.9 0a1.45 1.45 0 1 0 -2.9 0M606.43 71.54a1.45 1.45 0 1 0 2.9 0a1.45 1.45 0 1 0 -2.9 0M606.43 79.69a1.45 1.45 0 1 0 2.9 0a1.45 1.45 0 1 0 -2.9 0M606.43 87.83a1.45 1.45 0 1 0 2.9 0a1.45 1.45 0 1 0 -2.9 0M606.43 112.28a1.45 1.45 0 1 0 2.9 0a1.45 1.45 0 1 0 -2.9 0M606.43 120.43a1.45 1.45 0 1 0 2.9 0a1.45 1.45 0 1 0 -2.9 0M606.43 128.57a1.45 1.45 0 1 0 2.9 0a1.45 1.45 0 1 0 -2.9 0M606.43 136.72a1.45 1.45 0 1 0 2.9 0a1.45 1.45 0 1 0 -2.9 0M606.43 144.87a1.45 1.45 0 1 0 2.9 0a1.45 1.45 0 1 0 -2.9 0M614.58 55.24a1.45 1.45 0 1 0 2.9 0a1.45 1.45 0 1 0 -2.9 0M614.58 63.39a1.45 1.45 0 1 0 2.9 0a1.45 1.45 0 1 0 -2.9 0M614.58 71.54a1.45 1.45 0 1 0 2.9 0a1.45 1.45 0 1 0 -2.9 0M614.58 79.69a1.45 1.45 0 1 0 2.9 0a1.45 1.45 0 1 0 -2.9 0M614.58 87.83a1.45 1.45 0 1 0 2.9 0a1.45 1.45 0 1 0 -2.9 0M614.58 112.28a1.45 1.45 0 1 0 2.9 0a1.45 1.45 0 1 0 -2.9 0M614.58 120.43a1.45 1.45 0 1 0 2.9 0a1.45 1.45 0 1 0 -2.9 0M614.58 128.57a1.45 1.45 0 1 0 2.9 0a1.45 1.45 0 1 0 -2.9 0M614.58 136.72a1.45 1.45 0 1 0 2.9 0a1.45 1.45 0 1 0 -2.9 0M614.58 144.87a1.45 1.45 0 1 0 2.9 0a1.45 1.45 0 1 0 -2.9 0M622.73 55.24a1.45 1.45 0 1 0 2.9 0a1.45 1.45 0 1 0 -2.9 0M622.73 63.39a1.45 1.45 0 1 0 2.9 0a1.45 1.45 0 1 0 -2.9 0M622.73 71.54a1.45 1.45 0 1 0 2.9 0a1.45 1.45 0 1 0 -2.9 0M622.73 79.69a1.45 1.45 0 1 0 2.9 0a1.45 1.45 0 1 0 -2.9 0M622.73 87.83a1.45 1.45 0 1 0 2.9 0a1.45 1.45 0 1 0 -2.9 0M622.73 112.28a1.45 1.45 0 1 0 2.9 0a1.45 1.45 0 1 0 -2.9 0M622.73 120.43a1.45 1.45 0 1 0 2.9 0a1.45 1.45 0 1 0 -2.9 0M622.73 128.57a1.45 1.45 0 1 0 2.9 0a1.45 1.45 0 1 0 -2.9 0M622.73 136.72a1.45 1.45 0 1 0 2.9 0a1.45 1.45 0 1 0 -2.9 0M622.73 144.87a1.45 1.45 0 1 0 2.9 0a1.45 1.45 0 1 0 -2.9 0M630.88 55.24a1.45 1.45 0 1 0 2.9 0a1.45 1.45 0 1 0 -2.9 0M630.88 63.39a1.45 1.45 0 1 0 2.9 0a1.45 1.45 0 1 0 -2.9 0M630.88 71.54a1.45 1.45 0 1 0 2.9 0a1.45 1.45 0 1 0 -2.9 0M630.88 79.69a1.45 1.45 0 1 0 2.9 0a1.45 1.45 0 1 0 -2.9 0M630.88 87.83a1.45 1.45 0 1 0 2.9 0a1.45 1.45 0 1 0 -2.9 0M630.88 112.28a1.45 1.45 0 1 0 2.9 0a1.45 1.45 0 1 0 -2.9 0M630.88 120.43a1.45 1.45 0 1 0 2.9 0a1.45 1.45 0 1 0 -2.9 0M630.88 128.57a1.45 1.45 0 1 0 2.9 0a1.45 1.45 0 1 0 -2.9 0M630.88 136.72a1.45 1.45 0 1 0 2.9 0a1.45 1.45 0 1 0 -2.9 0M630.88 144.87a1.45 1.45 0 1 0 2.9 0a1.45 1.45 0 1 0 -2.9 0M639.03 55.24a1.45 1.45 0 1 0 2.9 0a1.45 1.45 0 1 0 -2.9 0M639.03 63.39a1.45 1.45 0 1 0 2.9 0a1.45 1.45 0 1 0 -2.9 0M639.03 71.54a1.45 1.45 0 1 0 2.9 0a1.45 1.45 0 1 0 -2.9 0M639.03 79.69a1.45 1.45 0 1 0 2.9 0a1.45 1.45 0 1 0 -2.9 0M639.03 87.83a1.45 1.45 0 1 0 2.9 0a1.45 1.45 0 1 0 -2.9 0M639.03 112.28a1.45 1.45 0 1 0 2.9 0a1.45 1.45 0 1 0 -2.9 0M639.03 120.43a1.45 1.45 0 1 0 2.9 0a1.45 1.45 0 1 0 -2.9 0M639.03 128.57a1.45 1.45 0 1 0 2.9 0a1.45 1.45 0 1 0 -2.9 0M639.03 136.72a1.45 1.45 0 1 0 2.9 0a1.45 1.45 0 1 0 -2.9 0M639.03 144.87a1.45 1.45 0 1 0 2.9 0a1.45 1.45 0 1 0 -2.9 0" fill="#282828"/><path d="M150.15 169.31a1.45 1.45 0 1 0 2.9 0a1.45 1.45 0 1 0 -2.9 0M150.15 177.46a1.45 1.45 0 1 0 2.9 0a1.45 1.45 0 1 0 -2.9 0M158.29 169.31a1.45 1.45 0 1 0 2.9 0a1.45 1.45 0 1 0 -2.9 0M158.29 177.46a1.45 1.45 0 1 0 2.9 0a1.45 1.45 0 1 0 -2.9 0M166.44 169.31a1.45 1.45 0 1 0 2.9 0a1.45 1.45 0 1 0 -2.9 0M166.44 177.46a1.45 1.45 0 1 0 2.9 0a1.45 1.45 0 1 0 -2.9 0M174.59 169.31a1.45 1.45 0 1 0 2.9 0a1.45 1.45 0 1 0 -2.9 0M174.59 177.46a1.45 1.45 0 1 0 2.9 0a1.45 1.45 0 1 0 -2.9 0M182.74 169.31a1.45 1.45 0 1 0 2.9 0a1.45 1.45 0 1 0 -2.9 0M182.74 177.46a1.45 1.45 0 1 0 2.9 0a1.45 1.45 0 1 0 -2.9 0M199.03 169.31a1.45 1.45 0 1 0 2.9 0a1.45 1.45 0 1 0 -2.9 0M199.03 177.46a1.45 1.45 0 1 0 2.9 0a1.45 1.45 0 1 0 -2.9 0M207.18 169.31a1.45 1.45 0 1 0 2.9 0a1.45 1.45 0 1 0 -2.9 0M207.18 177.46a1.45 1.45 0 1 0 2.9 0a1.45 1.45 0 1 0 -2.9 0M215.33 169.31a1.45 1.45 0 1 0 2.9 0a1.45 1.45 0 1 0 -2.9 0M215.33 177.46a1.45 1.45 0 1 0 2.9 0a1.45 1.45 0 1 0 -2.9 0M223.48 169.31a1.45 1.45 0 1 0 2.9 0a1.45 1.45 0 1 0 -2.9 0M223.48 177.46a1.45 1.45 0 1 0 2.9 0a1.45 1.45 0 1 0 -2.9 0M231.63 169.31a1.45 1.45 0 1 0 2.9 0a1.45 1.45 0 1 0 -2.9 0M231.63 177.46a1.45 1.45 0 1 0 2.9 0a1.45 1.45 0 1 0 -2.9 0M247.92 169.31a1.45 1.45 0 1 0 2.9 0a1.45 1.45 0 1 0 -2.9 0M247.92 177.46a1.45 1.45 0 1 0 2.9 0a1.45 1.45 0 1 0 -2.9 0M256.07 169.31a1.45 1.45 0 1 0 2.9 0a1.45 1.45 0 1 0 -2.9 0M256.07 177.46a1.45 1.45 0 1 0 2.9 0a1.45 1.45 0 1 0 -2.9 0M264.22 169.31a1.45 1.45 0 1 0 2.9 0a1.45 1.45 0 1 0 -2.9 0M264.22 177.46a1.45 1.45 0 1 0 2.9 0a1.45 1.45 0 1 0 -2.9 0M272.37 169.31a1.45 1.45 0 1 0 2.9 0a1.45 1.45 0 1 0 -2.9 0M272.37 177.46a1.45 1.45 0 1 0 2.9 0a1.45 1.45 0 1 0 -2.9 0M280.51 169.31a1.45 1.45 0 1 0 2.9 0a1.45 1.45 0 1 0 -2.9 0M280.51 177.46a1.45 1.45 0 1 0 2.9 0a1.45 1.45 0 1 0 -2.9 0M296.81 169.31a1.45 1.45 0 1 0 2.9 0a1.45 1.45 0 1 0 -2.9 0M296.81 177.46a1.45 1.45 0 1 0 2.9 0a1.45 1.45 0 1 0 -2.9 0M304.96 169.31a1.45 1.45 0 1 0 2.9 0a1.45 1.45 0 1 0 -2.9 0M304.96 177.46a1.45 1.45 0 1 0 2.9 0a1.45 1.45 0 1 0 -2.9 0M313.11 169.31a1.45 1.45 0 1 0 2.9 0a1.45 1.45 0 1 0 -2.9 0M313.11 177.46a1.45 1.45 0 1 0 2.9 0a1.45 1.45 0 1 0 -2.9 0M321.25 169.31a1.45 1.45 0 1 0 2.9 0a1.45 1.45 0 1 0 -2.9 0M321.25 177.46a1.45 1.45 0 1 0 2.9 0a1.45 1.45 0 1 0 -2.9 0M329.4 169.31a1.45 1.45 0 1 0 2.9 0a1.45 1.45 0 1 0 -2.9 0M329.4 177.46a1.45 1.45 0 1 0 2.9 0a1.45 1.45 0 1 0 -2.9 0M345.7 169.31a1.45 1.45 0 1 0 2.9 0a1.45 1.45 0 1 0 -2.9 0M345.7 177.46a1.45 1.45 0 1 0 2.9 0a1.45 1.45 0 1 0 -2.9 0M353.85 169.31a1.45 1.45 0 1 0 2.9 0a1.45 1.45 0 1 0 -2.9 0M353.85 177.46a1.45 1.45 0 1 0 2.9 0a1.45 1.45 0 1 0 -2.9 0M361.99 169.31a1.45 1.45 0 1 0 2.9 0a1.45 1.45 0 1 0 -2.9 0M361.99 177.46a1.45 1.45 0 1 0 2.9 0a1.45 1.45 0 1 0 -2.9 0M370.14 169.31a1.45 1.45 0 1 0 2.9 0a1.45 1.45 0 1 0 -2.9 0M370.14 177.46a1.45 1.45 0 1 0 2.9 0a1.45 1.45 0 1 0 -2.9 0M378.29 169.31a1.45 1.45 0 1 0 2.9 0a1.45 1.45 0 1 0 -2.9 0M378.29 177.46a1.45 1.45 0 1 0 2.9 0a1.45 1.45 0 1 0 -2.9 0M394.59 169.31a1.45 1.45 0 1 0 2.9 0a1.45 1.45 0 1 0 -2.9 0M394.59 177.46a1.45 1.45 0 1 0 2.9 0a1.45 1.45 0 1 0 -2.9 0M402.73 169.31a1.45 1.45 0 1 0 2.9 0a1.45 1.45 0 1 0 -2.9 0M402.73 177.46a1.45 1.45 0 1 0 2.9 0a1.45 1.45 0 1 0 -2.9 0M410.88 169.31a1.45 1.45 0 1 0 2.9 0a1.45 1.45 0 1 0 -2.9 0M410.88 177.46a1.45 1.45 0 1 0 2.9 0a1.45 1.45 0 1 0 -2.9 0M419.03 169.31a1.45 1.45 0 1 0 2.9 0a1.45 1.45 0 1 0 -2.9 0M419.03 177.46a1.45 1.45 0 1 0 2.9 0a1.45 1.45 0 1 0 -2.9 0M427.18 169.31a1.45 1.45 0 1 0 2.9 0a1.45 1.45 0 1 0 -2.9 0M427.18 177.46a1.45 1.45 0 1 0 2.9 0a1.45 1.45 0 1 0 -2.9 0M443.47 169.31a1.45 1.45 0 1 0 2.9 0a1.45 1.45 0 1 0 -2.9 0M443.47 177.46a1.45 1.45 0 1 0 2.9 0a1.45 1.45 0 1 0 -2.9 0M451.62 169.31a1.45 1.45 0 1 0 2.9 0a1.45 1.45 0 1 0 -2.9 0M451.62 177.46a1.45 1.45 0 1 0 2.9 0a1.45 1.45 0 1 0 -2.9 0M459.77 169.31a1.45 1.45 0 1 0 2.9 0a1.45 1.45 0 1 0 -2.9 0M459.77 177.46a1.45 1.45 0 1 0 2.9 0a1.45 1.45 0 1 0 -2.9 0M467.92 169.31a1.45 1.45 0 1 0 2.9 0a1.45 1.45 0 1 0 -2.9 0M467.92 177.46a1.45 1.45 0 1 0 2.9 0a1.45 1.45 0 1 0 -2.9 0M476.07 169.31a1.45 1.45 0 1 0 2.9 0a1.45 1.45 0 1 0 -2.9 0M476.07 177.46a1.45 1.45 0 1 0 2.9 0a1.45 1.45 0 1 0 -2.9 0M492.36 169.31a1.45 1.45 0 1 0 2.9 0a1.45 1.45 0 1 0 -2.9 0M492.36 177.46a1.45 1.45 0 1 0 2.9 0a1.45 1.45 0 1 0 -2.9 0M500.51 169.31a1.45 1.45 0 1 0 2.9 0a1.45 1.45 0 1 0 -2.9 0M500.51 177.46a1.45 1.45 0 1 0 2.9 0a1.45 1.45 0 1 0 -2.9 0M508.66 169.31a1.45 1.45 0 1 0 2.9 0a1.45 1.45 0 1 0 -2.9 0M508.66 177.46a1.45 1.45 0 1 0 2.9 0a1.45 1.45 0 1 0 -2.9 0M516.81 169.31a1.45 1.45 0 1 0 2.9 0a1.45 1.45 0 1 0 -2.9 0M516.81 177.46a1.45 1.45 0 1 0 2.9 0a1.45 1.45 0 1 0 -2.9 0M524.95 169.31a1.45 1.45 0 1 0 2.9 0a1.45 1.45 0 1 0 -2.9 0M524.95 177.46a1.45 1.45 0 1 0 2.9 0a1.45 1.45 0 1 0 -2.9 0M541.25 169.31a1.45 1.45 0 1 0 2.9 0a1.45 1.45 0 1 0 -2.9 0M541.25 177.46a1.45 1.45 0 1 0 2.9 0a1.45 1.45 0 1 0 -2.9 0M549.4 169.31a1.45 1.45 0 1 0 2.9 0a1.45 1.45 0 1 0 -2.9 0M549.4 177.46a1.45 1.45 0 1 0 2.9 0a1.45 1.45 0 1 0 -2.9 0M557.55 169.31a1.45 1.45 0 1 0 2.9 0a1.45 1.45 0 1 0 -2.9 0M557.55 177.46a1.45 1.45 0 1 0 2.9 0a1.45 1.45 0 1 0 -2.9 0M565.69 169.31a1.45 1.45 0 1 0 2.9 0a1.45 1.45 0 1 0 -2.9 0M565.69 177.46a1.45 1.45 0 1 0 2.9 0a1.45 1.45 0 1 0 -2.9 0M573.84 169.31a1.45 1.45 0 1 0 2.9 0a1.45 1.45 0 1 0 -2.9 0M573.84 177.46a1.45 1.45 0 1 0 2.9 0a1.45 1.45 0 1 0 -2.9 0M590.14 169.31a1.45 1.45 0 1 0 2.9 0a1.45 1.45 0 1 0 -2.9 0M590.14 177.46a1.45 1.45 0 1 0 2.9 0a1.45 1.45 0 1 0 -2.9 0M598.29 169.31a1.45 1.45 0 1 0 2.9 0a1.45 1.45 0 1 0 -2.9 0M598.29 177.46a1.45 1.45 0 1 0 2.9 0a1.45 1.45 0 1 0 -2.9 0M606.43 169.31a1.45 1.45 0 1 0 2.9 0a1.45 1.45 0 1 0 -2.9 0M606.43 177.46a1.45 1.45 0 1 0 2.9 0a1.45 1.45 0 1 0 -2.9 0M614.58 169.31a1.45 1.45 0 1 0 2.9 0a1.45 1.45 0 1 0 -2.9 0M614.58 177.46a1.45 1.45 0 1 0 2.9 0a1.45 1.45 0 1 0 -2.9 0M622.73 169.31a1.45 1.45 0 1 0 2.9 0a1.45 1.45 0 1 0 -2.9 0M622.73 177.46a1.45 1.45 0 1 0 2.9 0a1.45 1.45 0 1 0 -2.9 0M313.11 112.28a1.45 1.45 0 1 0 2.9 0a1.45 1.45 0 1 0 -2.9 0M313.11 120.43a1.45 1.45 0 1 0 2.9 0a1.45 1.45 0 1 0 -2.9 0M313.11 128.57a1.45 1.45 0 1 0 2.9 0a1.45 1.45 0 1 0 -2.9 0M313.11 136.72a1.45 1.45 0 1 0 2.9 0a1.45 1.45 0 1 0 -2.9 0M313.11 144.87a1.45 1.45 0 1 0 2.9 0a1.45 1.45 0 1 0 -2.9 0M321.25 112.28a1.45 1.45 0 1 0 2.9 0a1.45 1.45 0 1 0 -2.9 0M321.25 120.43a1.45 1.45 0 1 0 2.9 0a1.45 1.45 0 1 0 -2.9 0M321.25 128.57a1.45 1.45 0 1 0 2.9 0a1.45 1.45 0 1 0 -2.9 0M321.25 136.72a1.45 1.45 0 1 0 2.9 0a1.45 1.45 0 1 0 -2.9 0M321.25 144.87a1.45 1.45 0 1 0 2.9 0a1.45 1.45 0 1 0 -2.9 0M353.85 112.28a1.45 1.45 0 1 0 2.9 0a1.45 1.45 0 1 0 -2.9 0M353.85 120.43a1.45 1.45 0 1 0 2.9 0a1.45 1.45 0 1 0 -2.9 0M353.85 128.57a1.45 1.45 0 1 0 2.9 0a1.45 1.45 0 1 0 -2.9 0M353.85 136.72a1.45 1.45 0 1 0 2.9 0a1.45 1.45 0 1 0 -2.9 0M353.85 144.87a1.45 1.45 0 1 0 2.9 0a1.45 1.45 0 1 0 -2.9 0M467.92 55.24a1.45 1.45 0 1 0 2.9 0a1.45 1.45 0 1 0 -2.9 0M467.92 63.39a1.45 1.45 0 1 0 2.9 0a1.45 1.45 0 1 0 -2.9 0M467.92 71.54a1.45 1.45 0 1 0 2.9 0a1.45 1.45 0 1 0 -2.9 0M467.92 79.69a1.45 1.45 0 1 0 2.9 0a1.45 1.45 0 1 0 -2.9 0M467.92 87.83a1.45 1.45 0 1 0 2.9 0a1.45 1.45 0 1 0 -2.9 0M467.92 112.28a1.45 1.45 0 1 0 2.9 0a1.45 1.45 0 1 0 -2.9 0M467.92 120.43a1.45 1.45 0 1 0 2.9 0a1.45 1.45 0 1 0 -2.9 0M467.92 128.57a1.45 1.45 0 1 0 2.9 0a1.45 1.45 0 1 0 -2.9 0M467.92 136.72a1.45 1.45 0 1 0 2.9 0a1.45 1.45 0 1 0 -2.9 0M467.92 144.87a1.45 1.45 0 1 0 2.9 0a1.45 1.45 0 1 0 -2.9 0M484.21 55.24a1.45 1.45 0 1 0 2.9 0a1.45 1.45 0 1 0 -2.9 0M484.21 63.39a1.45 1.45 0 1 0 2.9 0a1.45 1.45 0 1 0 -2.9 0M484.21 71.54a1.45 1.45 0 1 0 2.9 0a1.45 1.45 0 1 0 -2.9 0M484.21 79.69a1.45 1.45 0 1 0 2.9 0a1.45 1.45 0 1 0 -2.9 0M484.21 87.83a1.45 1.45 0 1 0 2.9 0a1.45 1.45 0 1 0 -2.9 0M484.21 112.28a1.45 1.45 0 1 0 2.9 0a1.45 1.45 0 1 0 -2.9 0M484.21 120.43a1.45 1.45 0 1 0 2.9 0a1.45 1.45 0 1 0 -2.9 0M484.21 128.57a1.45 1.45 0 1 0 2.9 0a1.45 1.45 0 1 0 -2.9 0M484.21 136.72a1.45 1.45 0 1 0 2.9 0a1.45 1.45 0 1 0 -2.9 0M484.21 144.87a1.45 1.45 0 1 0 2.9 0a1.45 1.45 0 1 0 -2.9 0M516.81 112.28a1.45 1.45 0 1 0 2.9 0a1.45 1.45 0 1 0 -2.9 0M516.81 120.43a1.45 1.45 0 1 0 2.9 0a1.45 1.45 0 1 0 -2.9 0M516.81 128.57a1.45 1.45 0 1 0 2.9 0a1.45 1.45 0 1 0 -2.9 0M516.81 136.72a1.45 1.45 0 1 0 2.9 0a1.45 1.45 0 1 0 -2.9 0M516.81 144.87a1.45 1.45 0 1 0 2.9 0a1.45 1.45 0 1 0 -2.9 0" fill="#1f5b2d"/><g fill="#cbcbcb" font-family="Liberation Sans" font-size="4.5" text-anchor="middle"><text x="136.5" y="47.3" transform="rotate(-90 136.5 47.3)">1</text><text x="136.5" y="155.6" transform="rotate(-90 136.5 155.6)">1</text><text x="169.09" y="47.3" transform="rotate(-90 169.09 47.3)">5</text><text x="169.09" y="155.6" transform="rotate(-90 169.09 155.6)">5</text><text x="209.83" y="47.3" transform="rotate(-90 209.83 47.3)">10</text><text x="209.83" y="155.6" transform="rotate(-90 209.83 155.6)">10</text><text x="250.57" y="47.3" transform="rotate(-90 250.57 47.3)">15</text><text x="250.57" y="155.6" transform="rotate(-90 250.57 155.6)">15</text><text x="291.31" y="47.3" transform="rotate(-90 291.31 47.3)">20</text><text x="291.31" y="155.6" transform="rotate(-90 291.31 155.6)">20</text><text x="332.05" y="47.3" transform="rotate(-90 332.05 47.3)">25</text><text x="332.05" y="155.6" transform="rotate(-90 332.05 155.6)">25</text><text x="372.79" y="47.3" transform="rotate(-90 372.79 47.3)">30</text><text x="372.79" y="155.6" transform="rotate(-90 372.79 155.6)">30</text><text x="413.53" y="47.3" transform="rotate(-90 413.53 47.3)">35</text><text x="413.53" y="155.6" transform="rotate(-90 413.53 155.6)">35</text><text x="454.27" y="47.3" transform="rotate(-90 454.27 47.3)">40</text><text x="454.27" y="155.6" transform="rotate(-90 454.27 155.6)">40</text><text x="495.01" y="47.3" transform="rotate(-90 495.01 47.3)">45</text><text x="495.01" y="155.6" transform="rotate(-90 495.01 155.6)">45</text><text x="535.75" y="47.3" transform="rotate(-90 535.75 47.3)">50</text><text x="535.75" y="155.6" transform="rotate(-90 535.75 155.6)">50</text><text x="576.49" y="47.3" transform="rotate(-90 576.49 47.3)">55</text><text x="576.49" y="155.6" transform="rotate(-90 576.49 155.6)">55</text><text x="617.23" y="47.3" transform="rotate(-90 617.23 47.3)">60</text><text x="617.23" y="155.6" transform="rotate(-90 617.23 155.6)">60</text><text x="127.5" y="56.74">j</text><text x="645" y="56.74">j</text><text x="127.5" y="64.89">i</text><text x="645" y="64.89">i</text><text x="127.5" y="73.04">h</text><text x="645" y="73.04">h</text><text x="127.5" y="81.19">g</text><text x="645" y="81.19">g</text><text x="127.5" y="89.33">f</text><text x="645" y="89.33">f</text><text x="127.5" y="113.78">e</text><text x="645" y="113.78">e</text><text x="127.5" y="121.93">d</text><text x="645" y="121.93">d</text><text x="127.5" y="130.07">c</text><text x="645" y="130.07">c</text><text x="127.5" y="138.22">b</text><text x="645" y="138.22">b</text><text x="127.5" y="146.37">a</text><text x="645" y="146.37">a</text></g><g><path d="M314.5 76V112.3" stroke="#9c9c9c" stroke-width="1.9" fill="none"/><path d="M318.8 76L322.9 84.3V112.3" stroke="#9c9c9c" stroke-width="1.9" fill="none"/><path d="M314.5 105.5V112.8M322.9 105.5V112.8" stroke="#8cbc90" stroke-width="1.9" fill="none"/><path d="M309.4 75.4V60C309.4 54.5 313 51.2 317.1 51.2C321.3 51.2 324.8 54.5 324.8 60V65.6Q327.4 67.2 327.4 71.2V75.4Q327.4 77.8 325 77.8H311.8Q309.4 77.8 309.4 75.4Z" fill="#e33636" stroke="#f3a6a6" stroke-width="0.9"/><path d="M311.2 62Q311.5 66 313 72" stroke="#c82828" stroke-width="1.4" fill="none" opacity="0.5"/><path d="M313 61H323V70H313Z" fill="#d42a2a" opacity="0.35"/><path d="M319.5 53.8Q322.6 54.8 323.6 57.8" stroke="#f59494" stroke-width="1.1" fill="none"/></g><path d="M322.7 120.43H355.3" stroke="#a6ada4" stroke-width="2.2"/><path d="M322.2 120.43H326.7 M351.3 120.43H355.8" stroke="#86b28e" stroke-width="2.2"/><path d="M328.9 118.03 Q328.9 116.73 331.4 116.73 H346.4 Q348.9 116.73 348.9 118.03 V122.83 Q348.9 124.13 346.4 124.13 H331.4 Q328.9 124.13 328.9 122.83 Z" fill="url(#rg)"/><rect x="330.75" y="116.73" width="2.7" height="7.4" fill="#c02a12"/><rect x="335.05" y="116.73" width="2.7" height="7.4" fill="#b52212"/><rect x="339.45" y="116.73" width="2.3" height="7.4" fill="#6e3c12"/><rect x="345.55" y="116.73" width="2.5" height="7.4" fill="#ad7c3e"/><path d="M485.66 120.43H518.26" stroke="#a6ada4" stroke-width="2.2"/><path d="M485.16 120.43H489.66 M514.26 120.43H518.76" stroke="#86b28e" stroke-width="2.2"/><path d="M491.86 118.03 Q491.86 116.73 494.36 116.73 H509.36 Q511.86 116.73 511.86 118.03 V122.83 Q511.86 124.13 509.36 124.13 H494.36 Q491.86 124.13 491.86 122.83 Z" fill="url(#rg)"/><rect x="493.71" y="116.73" width="2.7" height="7.4" fill="#c02a12"/><rect x="498.01" y="116.73" width="2.7" height="7.4" fill="#b52212"/><rect x="502.41" y="116.73" width="2.3" height="7.4" fill="#6e3c12"/><rect x="508.51" y="116.73" width="2.5" height="7.4" fill="#ad7c3e"/><rect x="467.8" y="90" width="20.2" height="19.8" fill="#a6a6a6" stroke="#8e8e8e" stroke-width="0.6"/><circle cx="477.9" cy="99.8" r="5.5" fill="#7d5e55" stroke="#4e3d38" stroke-width="0.9"/><circle cx="470.6" cy="92.6" r="1.7" fill="#1a1a1a"/><circle cx="485.1" cy="92.6" r="1.7" fill="#1a1a1a"/><circle cx="470.6" cy="107" r="1.7" fill="#1a1a1a"/><circle cx="485.1" cy="107" r="1.7" fill="#1a1a1a"/><path d="M306.5 229.5Q306.5 226.5 309.5 226.5H512.8L518.2 231.9V265L526.3 274V380L518.2 388.5V394.6Q518.2 397 515.8 397H309Q306.5 397 306.5 394.6Z" fill="#11738f" stroke="#0e6680" stroke-width="0.8"/><circle cx="355.3" cy="234.6" r="4.6" fill="#ffffff"/><circle cx="518.3" cy="283.6" r="4.9" fill="#ffffff"/><circle cx="518.3" cy="373.3" r="5" fill="#ffffff"/><circle cx="351.3" cy="389.4" r="4.8" fill="#ffffff"/><rect x="313.8" y="228.3" width="24.2" height="18.5" fill="#d6d6d6"/><rect x="310.7" y="230.15" width="3" height="1.7" fill="#e6eef2"/><rect x="310.7" y="237.05" width="3" height="1.7" fill="#e6eef2"/><rect x="310.7" y="243.45" width="3" height="1.7" fill="#e6eef2"/><rect x="337.8" y="230.15" width="3" height="1.7" fill="#e6eef2"/><rect x="337.8" y="243.45" width="3" height="1.7" fill="#e6eef2"/><circle cx="325.8" cy="237.9" r="5.9" fill="#9d1c1c"/><text x="325.6" y="252.6" fill="#cfe6ee" font-family="Liberation Mono" font-size="5" font-weight="bold" text-anchor="middle" letter-spacing="0.3">RESET</text><rect x="352.9" y="241.8" width="23.6" height="14.6" rx="1.2" fill="#34281f"/><rect x="355.2" y="243.5" width="3.2" height="3.2" rx="1.1" fill="#ac9676"/><rect x="355.2" y="251.7" width="3.2" height="3.2" rx="1.1" fill="#ac9676"/><rect x="363.2" y="243.5" width="3.2" height="3.2" rx="1.1" fill="#ac9676"/><rect x="363.2" y="251.7" width="3.2" height="3.2" rx="1.1" fill="#ac9676"/><rect x="371.1" y="243.5" width="3.2" height="3.2" rx="1.1" fill="#ac9676"/><rect x="371.1" y="251.7" width="3.2" height="3.2" rx="1.1" fill="#ac9676"/><text x="362.1" y="262.8" fill="#cfe6ee" font-family="Liberation Mono" font-size="5" font-weight="bold" text-anchor="middle" letter-spacing="0.3">ICSP2</text><rect x="306.6" y="252.4" width="4.4" height="4.6" fill="#8c8c8c"/><rect x="306.6" y="293.7" width="4.4" height="4.2" fill="#a8a8a8"/><rect x="286.5" y="256.9" width="49.8" height="36.9" fill="#b9b9b9"/><rect x="286.5" y="256.9" width="8.2" height="36.9" fill="#a0a0a0"/><rect x="363.6" y="231" width="79" height="6.8" fill="#3c3c3c"/><rect x="365" y="232.9" width="3" height="3" fill="#101010"/><rect x="373.15" y="232.9" width="3" height="3" fill="#101010"/><rect x="381.3" y="232.9" width="3" height="3" fill="#101010"/><rect x="389.44" y="232.9" width="3" height="3" fill="#1f5a22"/><rect x="397.59" y="232.9" width="3" height="3" fill="#101010"/><rect x="405.74" y="232.9" width="3" height="3" fill="#101010"/><rect x="413.89" y="232.9" width="3" height="3" fill="#101010"/><rect x="422.04" y="232.9" width="3" height="3" fill="#101010"/><rect x="430.18" y="232.9" width="3" height="3" fill="#101010"/><rect x="438.33" y="232.9" width="3" height="3" fill="#101010"/><rect x="449.9" y="231" width="63.3" height="6.8" fill="#3c3c3c"/><rect x="451.3" y="232.9" width="3" height="3" fill="#101010"/><rect x="459.45" y="232.9" width="3" height="3" fill="#101010"/><rect x="467.6" y="232.9" width="3" height="3" fill="#101010"/><rect x="475.74" y="232.9" width="3" height="3" fill="#101010"/><rect x="483.89" y="232.9" width="3" height="3" fill="#101010"/><rect x="492.04" y="232.9" width="3" height="3" fill="#101010"/><rect x="500.19" y="232.9" width="3" height="3" fill="#101010"/><rect x="508.34" y="232.9" width="3" height="3" fill="#101010"/><rect x="392" y="385.5" width="64.7" height="7" fill="#3c3c3c"/><rect x="394.9" y="387.5" width="3" height="3" fill="#101010"/><rect x="403.05" y="387.5" width="3" height="3" fill="#101010"/><rect x="411.2" y="387.5" width="3" height="3" fill="#101010"/><rect x="419.34" y="387.5" width="3" height="3" fill="#101010"/><rect x="427.49" y="387.5" width="3" height="3" fill="#101010"/><rect x="435.64" y="387.5" width="3" height="3" fill="#1f5a22"/><rect x="443.79" y="387.5" width="3" height="3" fill="#1f5a22"/><rect x="451.94" y="387.5" width="3" height="3" fill="#101010"/><rect x="465.5" y="385.5" width="48" height="7" fill="#3c3c3c"/><rect x="467.9" y="387.5" width="3" height="3" fill="#101010"/><rect x="476.05" y="387.5" width="3" height="3" fill="#101010"/><rect x="484.2" y="387.5" width="3" height="3" fill="#101010"/><rect x="492.34" y="387.5" width="3" height="3" fill="#101010"/><rect x="500.49" y="387.5" width="3" height="3" fill="#101010"/><rect x="508.64" y="387.5" width="3" height="3" fill="#101010"/><g fill="#cfe6ee" font-family="Liberation Mono" font-size="4.9"><text transform="translate(384.3 240.4) rotate(-90)" x="0" y="0" text-anchor="end">AREF</text><text transform="translate(392.44 240.4) rotate(-90)" x="0" y="0" text-anchor="end">GND</text><text transform="translate(400.59 240.4) rotate(-90)" x="0" y="0" text-anchor="end">13</text><text transform="translate(408.74 240.4) rotate(-90)" x="0" y="0" text-anchor="end">12</text><text transform="translate(416.89 240.4) rotate(-90)" x="0" y="0" text-anchor="end">~11</text><text transform="translate(425.04 240.4) rotate(-90)" x="0" y="0" text-anchor="end">~10</text><text transform="translate(433.18 240.4) rotate(-90)" x="0" y="0" text-anchor="end">~9</text><text transform="translate(441.33 240.4) rotate(-90)" x="0" y="0" text-anchor="end">8</text><text transform="translate(454.3 240.4) rotate(-90)" x="0" y="0" text-anchor="end">7</text><text transform="translate(462.45 240.4) rotate(-90)" x="0" y="0" text-anchor="end">~6</text><text transform="translate(470.6 240.4) rotate(-90)" x="0" y="0" text-anchor="end">~5</text><text transform="translate(478.74 240.4) rotate(-90)" x="0" y="0" text-anchor="end">4</text><text transform="translate(486.89 240.4) rotate(-90)" x="0" y="0" text-anchor="end">~3</text><text transform="translate(495.04 240.4) rotate(-90)" x="0" y="0" text-anchor="end">2</text><text transform="translate(503.19 240.4) rotate(-90)" x="0" y="0" text-anchor="end" letter-spacing="1.1">TX&#9654;1</text><text transform="translate(511.34 240.4) rotate(-90)" x="0" y="0" text-anchor="end" letter-spacing="1.1">RX&#9664;0</text><text transform="translate(406.05 383.2) rotate(-90)" x="0" y="0">IOREF</text><text transform="translate(414.2 383.2) rotate(-90)" x="0" y="0">RESET</text><text transform="translate(422.34 383.2) rotate(-90)" x="0" y="0">3V3</text><text transform="translate(430.49 383.2) rotate(-90)" x="0" y="0">5V</text><text transform="translate(438.64 383.2) rotate(-90)" x="0" y="0">GND</text><text transform="translate(446.79 383.2) rotate(-90)" x="0" y="0">GND</text><text transform="translate(454.94 383.2) rotate(-90)" x="0" y="0">VIN</text><text transform="translate(470.9 383.2) rotate(-90)" x="0" y="0">A0</text><text transform="translate(479.05 383.2) rotate(-90)" x="0" y="0">A1</text><text transform="translate(487.2 383.2) rotate(-90)" x="0" y="0">A2</text><text transform="translate(495.34 383.2) rotate(-90)" x="0" y="0">A3</text><text transform="translate(503.49 383.2) rotate(-90)" x="0" y="0">A4</text><text transform="translate(511.64 383.2) rotate(-90)" x="0" y="0">A5</text></g><circle cx="377.6" cy="241.1" r="1.15" fill="#d8eef6"/><text x="450.7" y="257.5" fill="#cfe6ee" font-family="Liberation Mono" font-size="4.6" font-weight="bold" textLength="43">DIGITAL (PWM=~)</text><path d="M390.6 259.5H512.4M415 368.6H457.8M467 368.6H512" stroke="#cfe6ee" stroke-width="1"/><text x="456.7" y="374.6" fill="#cfe6ee" font-family="Liberation Mono" font-size="4.9" text-anchor="end">POWER</text><text x="485" y="374.6" fill="#cfe6ee" font-family="Liberation Mono" font-size="4.9" textLength="27">ANALOG IN</text><rect x="391.2" y="263.1" width="8.6" height="4.2" fill="#e9eadb"/><rect x="391.2" y="278.1" width="8.6" height="4.1" fill="#e9eadb"/><rect x="391.2" y="285.4" width="8.6" height="4" fill="#e9eadb"/><rect x="492.8" y="278.3" width="7.6" height="4" fill="#e9eadb"/><g fill="#cfe6ee" font-family="Liberation Mono" font-size="5.6" font-weight="bold"><text x="386.2" y="267.4">L</text><text x="382.2" y="282.3">TX</text><text x="382.2" y="289.5">RX</text><text x="502.2" y="282.5">ON</text></g><rect x="506.8" y="296.2" width="15.6" height="22.9" fill="#3a2e28"/><rect x="509.05" y="298.05" width="3.3" height="3.3" rx="1.1" fill="#ac9676"/><rect x="509.05" y="306.15" width="3.3" height="3.3" rx="1.1" fill="#ac9676"/><rect x="509.05" y="314.25" width="3.3" height="3.3" rx="1.1" fill="#ac9676"/><rect x="517.05" y="298.05" width="3.3" height="3.3" rx="1.1" fill="#ac9676"/><rect x="517.05" y="306.15" width="3.3" height="3.3" rx="1.1" fill="#ac9676"/><rect x="517.05" y="314.25" width="3.3" height="3.3" rx="1.1" fill="#ac9676"/><g fill="#cfe6ee" font-family="Liberation Mono" font-size="5"><text transform="translate(504.8 320.3) rotate(-90)" x="0" y="0">ICSP</text></g><text x="503.3" y="299.5" fill="#cfe6ee" font-family="Liberation Mono" font-size="4">1</text><rect x="362.8" y="278.5" width="15.1" height="15.6" fill="#382e2e"/><rect x="396" y="336.1" width="118.8" height="17.2" fill="#373737"/><rect x="319.2" y="335.7" width="6.4" height="11.6" fill="#adadad"/><rect x="325.6" y="331.2" width="11.6" height="20.9" fill="#333333"/><rect x="337.2" y="332.7" width="5.2" height="3.7" fill="#adadad"/><rect x="337.2" y="340.1" width="5.2" height="3.7" fill="#adadad"/><rect x="337.2" y="347.3" width="5.2" height="3.7" fill="#adadad"/><rect x="300.8" y="358.3" width="41.6" height="28.3" fill="#262626"/><rect x="300.8" y="358.3" width="8.7" height="28.3" fill="#1b1b1b"/><path d="M357.7 357.6H373.7 L376 360V378.2H355.4 V360Z" fill="#1f3645"/><circle cx="365.7" cy="367.2" r="9.8" fill="#f0edee"/><path d="M358.6 373.8A9.8 9.8 0 0 0 372.8 373.8Z" fill="#0a0a0a"/><rect x="365.2" y="378.6" width="1" height="1.4" fill="#cfe6ee"/><rect x="365.2" y="356.2" width="1" height="1.4" fill="#cfe6ee"/><path d="M380.3 357.6H396.3 L398.6 360V378.2H378 V360Z" fill="#1f3645"/><circle cx="388.3" cy="367.2" r="9.8" fill="#f0edee"/><path d="M381.2 373.8A9.8 9.8 0 0 0 395.4 373.8Z" fill="#0a0a0a"/><rect x="387.8" y="378.6" width="1" height="1.4" fill="#cfe6ee"/><rect x="387.8" y="356.2" width="1" height="1.4" fill="#cfe6ee"/><path d="M428.5 271.55C425 267 421.5 263.65 418.5 263.65C413.8 263.65 410.35 267.2 410.35 271.55C410.35 275.9 413.8 279.45 418.5 279.45C421.5 279.45 425 276.1 428.5 271.55C432 267 435.5 263.65 438.5 263.65C443.2 263.65 446.65 267.2 446.65 271.55C446.65 275.9 443.2 279.45 438.5 279.45C435.5 279.45 432 276.1 428.5 271.55Z" fill="none" stroke="#ffffff" stroke-width="2.9"/><path d="M416 271.6H422.1M435 271.7H441.5M438.2 268.7V274.8" stroke="#ffffff" stroke-width="2.2"/><text x="410.2" y="289.3" fill="#cfe6ee" font-family="Liberation Mono" font-size="7.2" textLength="32.6">Arduino</text><text x="443.6" y="285.6" fill="#cfe6ee" font-family="Liberation Sans" font-size="2.8">TM</text><rect x="450.95" y="263.35" width="38.1" height="17.3" rx="8.65" fill="none" stroke="#bfe8f3" stroke-width="1.1"/><text x="456" y="276.75" fill="#d2eff7" font-family="Liberation Sans" font-size="14.2" textLength="29.2" lengthAdjust="spacingAndGlyphs">UNO</text><path d="M249.37 177.46L428.9 389" stroke="#921717" stroke-width="3.5" stroke-linecap="round"/><path d="M249.37 177.46L428.9 389" stroke="#b31c1c" stroke-width="2.3" stroke-linecap="round"/><circle cx="249.37" cy="177.46" r="1.6" fill="#8a5420"/><circle cx="428.9" cy="389" r="1.6" fill="#8a5420"/><path d="M347.15 169.31L390.9 234.4" stroke="#141414" stroke-width="3.5" stroke-linecap="round"/><path d="M347.15 169.31L390.9 234.4" stroke="#2a2a2a" stroke-width="2.3" stroke-linecap="round"/><circle cx="347.15" cy="169.31" r="1.6" fill="#1f6a24"/><circle cx="390.9" cy="234.4" r="1.6" fill="#1f6a24"/><path d="M355.3 128.57L415.3 234.4" stroke="#921717" stroke-width="3.5" stroke-linecap="round"/><path d="M355.3 128.57L415.3 234.4" stroke="#b31c1c" stroke-width="2.3" stroke-linecap="round"/><circle cx="355.3" cy="128.57" r="1.6" fill="#8a5420"/><circle cx="415.3" cy="234.4" r="1.6" fill="#8a5420"/><path d="M485.66 128.57L452.8 234.4" stroke="#d6d62a" stroke-width="3.5" stroke-linecap="round"/><path d="M485.66 128.57L452.8 234.4" stroke="#f4f43c" stroke-width="2.3" stroke-linecap="round"/><circle cx="485.66" cy="128.57" r="1.6" fill="#b0dc40"/><circle cx="452.8" cy="234.4" r="1.6" fill="#b0dc40"/><path d="M469.37 120.43L461.22 177.46" stroke="#921717" stroke-width="3.5" stroke-linecap="round"/><path d="M469.37 120.43L461.22 177.46" stroke="#b31c1c" stroke-width="2.3" stroke-linecap="round"/><circle cx="469.37" cy="120.43" r="1.6" fill="#8a5420"/><circle cx="461.22" cy="177.46" r="1.6" fill="#8a5420"/><path d="M518.26 128.57L518.26 169.31" stroke="#141414" stroke-width="3.5" stroke-linecap="round"/><path d="M518.26 128.57L518.26 169.31" stroke="#2a2a2a" stroke-width="2.3" stroke-linecap="round"/><circle cx="518.26" cy="128.57" r="1.6" fill="#1f6a24"/><circle cx="518.26" cy="169.31" r="1.6" fill="#1f6a24"/><path d="M314.56 120.43L314.56 169.31" stroke="#141414" stroke-width="3.5" stroke-linecap="round"/><path d="M314.56 120.43L314.56 169.31" stroke="#2a2a2a" stroke-width="2.3" stroke-linecap="round"/><circle cx="314.56" cy="120.43" r="1.6" fill="#1f6a24"/><circle cx="314.56" cy="169.31" r="1.6" fill="#1f6a24"/><text x="653.4" y="9.8" fill="#1c1c1c" font-family="Liberation Sans" font-size="10">Breadboard1</text><g stroke="#999999" stroke-width="2.25" fill="none" stroke-linecap="butt"><path d="M25.6 381.2V368Q25.6 364.6 29 364.6H30.8M21.4 370.6H29.4M34.5 369.4V378.6M34.5 374.6Q35.2 370.6 38.8 370.6H41M44.2 370.6H47.1V381.2M55.2 364.8V378Q55.2 381.2 58.4 381.2H59.6M52 370.6H59.8M63.3 370.6H73L64 380.4H71M77.2 370.6H80.1V381.2M86.9 370.4V381.2M86.9 374Q86.9 370.6 90.5 370.6H91.8Q95.3 370.6 95.3 374V378.6M111 370.6V383Q111 386 108 386H102M111 377Q111 380.6 107.5 380.6H104.5Q101.2 380.6 101.2 377V374Q101.2 370.6 104.5 370.6H111"/></g><g stroke="#999999" stroke-width="1.35" fill="#ffffff"><circle cx="34.4" cy="380.3" r="1.75"/><circle cx="47.2" cy="365.3" r="1.75"/><circle cx="72.5" cy="380.4" r="1.75"/><circle cx="79.8" cy="365.3" r="1.75"/><circle cx="95.3" cy="380.4" r="1.75"/></g></svg>
</body></html>
